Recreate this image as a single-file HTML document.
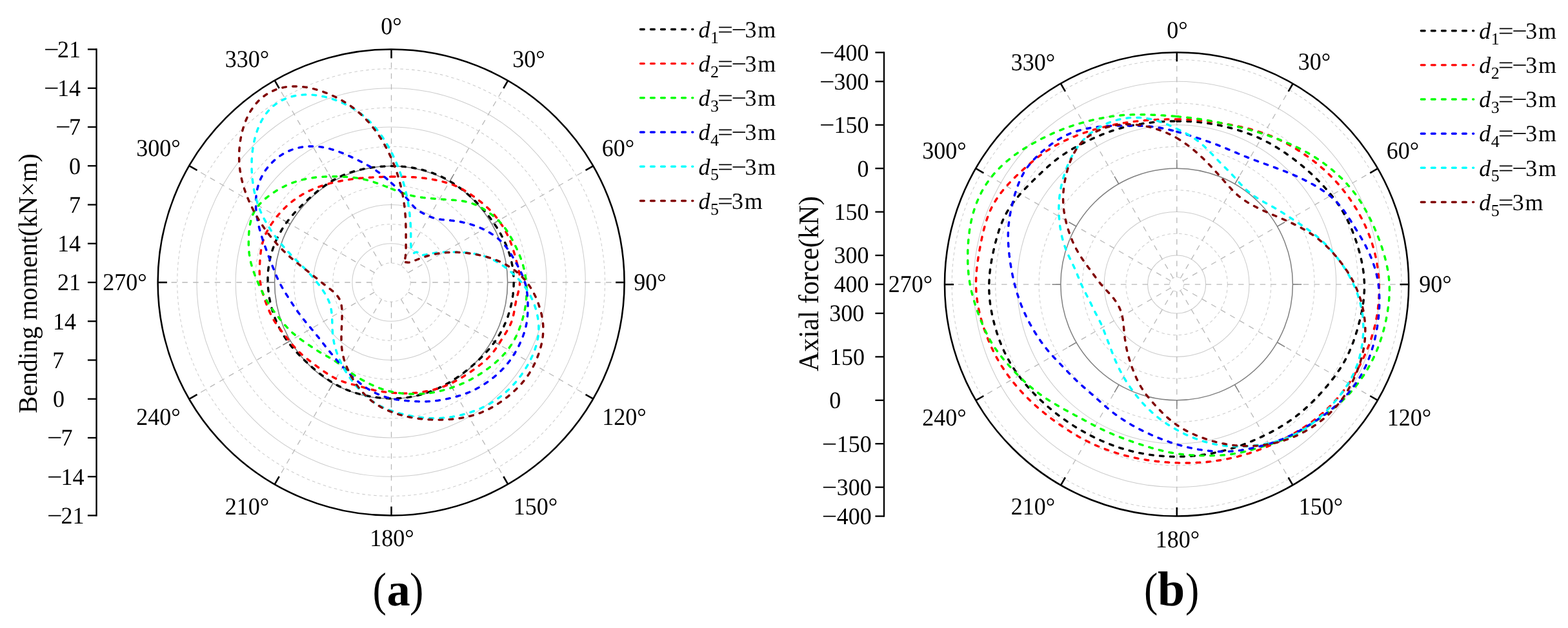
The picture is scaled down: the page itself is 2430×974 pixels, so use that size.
<!DOCTYPE html>
<html lang="en"><head><meta charset="utf-8"><title>Polar plots of bending moment and axial force</title>
<style>html,body{margin:0;padding:0;background:#fff}body{width:2430px;height:974px;overflow:hidden}svg{display:block}</style>
</head><body>
<svg width="2430" height="974" viewBox="0 0 2430 974" font-family="'Liberation Serif',serif" font-size="36" fill="#000" text-rendering="geometricPrecision">
<rect width="2430" height="974" fill="#fff"/>
<g fill="none">
<circle cx="606.1" cy="438.0" r="60.2" stroke="#cccccc" stroke-width="1.05"/>
<circle cx="606.1" cy="438.0" r="120.5" stroke="#cccccc" stroke-width="1.05"/>
<circle cx="606.1" cy="438.0" r="180.8" stroke="#cccccc" stroke-width="1.05"/>
<circle cx="606.1" cy="438.0" r="241.0" stroke="#cccccc" stroke-width="1.05"/>
<circle cx="606.1" cy="438.0" r="301.2" stroke="#cccccc" stroke-width="1.05"/>
<circle cx="606.1" cy="438.0" r="30.1" stroke="#cccccc" stroke-width="1.05" stroke-dasharray="4.6 4.3"/>
<circle cx="606.1" cy="438.0" r="90.3" stroke="#cccccc" stroke-width="1.05" stroke-dasharray="4.6 4.3"/>
<circle cx="606.1" cy="438.0" r="150.6" stroke="#cccccc" stroke-width="1.05" stroke-dasharray="4.6 4.3"/>
<circle cx="606.1" cy="438.0" r="210.8" stroke="#cccccc" stroke-width="1.05" stroke-dasharray="4.6 4.3"/>
<circle cx="606.1" cy="438.0" r="271.1" stroke="#cccccc" stroke-width="1.05" stroke-dasharray="4.6 4.3"/>
<circle cx="606.1" cy="438.0" r="331.4" stroke="#cccccc" stroke-width="1.05" stroke-dasharray="4.6 4.3"/>
<line x1="606.5" y1="407.9" x2="606.5" y2="76.5" stroke="#b8b8b8" stroke-width="1.3" stroke-dasharray="8.5 8.3"/>
<line x1="621.5" y1="411.9" x2="787.2" y2="124.9" stroke="#b8b8b8" stroke-width="1.3" stroke-dasharray="8.5 8.3"/>
<line x1="632.6" y1="422.9" x2="919.6" y2="257.2" stroke="#b8b8b8" stroke-width="1.3" stroke-dasharray="8.5 8.3"/>
<line x1="636.6" y1="438.0" x2="968.0" y2="438.0" stroke="#b8b8b8" stroke-width="1.3" stroke-dasharray="8.5 8.3"/>
<line x1="632.6" y1="453.1" x2="919.6" y2="618.7" stroke="#b8b8b8" stroke-width="1.3" stroke-dasharray="8.5 8.3"/>
<line x1="621.5" y1="464.1" x2="787.2" y2="751.1" stroke="#b8b8b8" stroke-width="1.3" stroke-dasharray="8.5 8.3"/>
<line x1="606.5" y1="468.1" x2="606.5" y2="799.5" stroke="#b8b8b8" stroke-width="1.3" stroke-dasharray="8.5 8.3"/>
<line x1="591.5" y1="464.1" x2="425.8" y2="751.1" stroke="#b8b8b8" stroke-width="1.3" stroke-dasharray="8.5 8.3"/>
<line x1="580.4" y1="453.1" x2="293.4" y2="618.8" stroke="#b8b8b8" stroke-width="1.3" stroke-dasharray="8.5 8.3"/>
<line x1="576.4" y1="438.0" x2="245.0" y2="438.0" stroke="#b8b8b8" stroke-width="1.3" stroke-dasharray="8.5 8.3"/>
<line x1="580.4" y1="422.9" x2="293.4" y2="257.2" stroke="#b8b8b8" stroke-width="1.3" stroke-dasharray="8.5 8.3"/>
<line x1="591.4" y1="411.9" x2="425.7" y2="124.9" stroke="#b8b8b8" stroke-width="1.3" stroke-dasharray="8.5 8.3"/>
<circle cx="606.1" cy="438.0" r="180.5" stroke="#7f7f7f" stroke-width="1.5"/>
<line x1="606.5" y1="257.5" x2="606.5" y2="244.0" stroke="#7f7f7f" stroke-width="1.5"/>
<line x1="696.8" y1="281.7" x2="703.5" y2="270.0" stroke="#7f7f7f" stroke-width="1.5"/>
<line x1="762.8" y1="347.8" x2="774.5" y2="341.0" stroke="#7f7f7f" stroke-width="1.5"/>
<line x1="787.0" y1="438.0" x2="800.5" y2="438.0" stroke="#7f7f7f" stroke-width="1.5"/>
<line x1="762.8" y1="528.2" x2="774.5" y2="535.0" stroke="#7f7f7f" stroke-width="1.5"/>
<line x1="696.8" y1="594.3" x2="703.5" y2="606.0" stroke="#7f7f7f" stroke-width="1.5"/>
<line x1="606.5" y1="618.5" x2="606.5" y2="632.0" stroke="#7f7f7f" stroke-width="1.5"/>
<line x1="516.2" y1="594.3" x2="509.5" y2="606.0" stroke="#7f7f7f" stroke-width="1.5"/>
<line x1="450.2" y1="528.3" x2="438.5" y2="535.0" stroke="#7f7f7f" stroke-width="1.5"/>
<line x1="426.0" y1="438.0" x2="412.5" y2="438.0" stroke="#7f7f7f" stroke-width="1.5"/>
<line x1="450.2" y1="347.8" x2="438.5" y2="341.0" stroke="#7f7f7f" stroke-width="1.5"/>
<line x1="516.2" y1="281.7" x2="509.5" y2="270.0" stroke="#7f7f7f" stroke-width="1.5"/>
<path d="M606.5 257.6L608.1 257.6L609.6 257.6L611.2 257.6L612.8 257.6L614.4 257.7L615.9 257.8L617.5 257.8L619.1 257.9L620.7 258.0L622.2 258.1L623.8 258.3L625.4 258.4L626.9 258.5L628.5 258.7L630.1 258.9L631.6 259.1L633.2 259.3L634.8 259.5L636.3 259.7L637.9 260.0L639.5 260.2L641.0 260.5L642.6 260.8L644.1 261.1L645.7 261.4L647.2 261.7L648.7 262.0L650.3 262.4L651.8 262.7L653.4 263.1L654.9 263.5L656.4 263.9L657.9 264.3L659.5 264.8L661.0 265.2L662.5 265.7L664.0 266.2L665.5 266.6L667.0 267.1L668.5 267.7L670.0 268.2L671.5 268.7L672.9 269.3L674.4 269.9L675.9 270.5L677.4 271.1L678.8 271.7L680.3 272.3L681.7 273.0L683.1 273.6L684.6 274.3L686.0 275.0L687.4 275.7L688.8 276.4L690.2 277.2L691.6 277.9L693.0 278.7L694.4 279.4L695.8 280.2L697.1 281.0L698.5 281.9L699.8 282.7L701.2 283.5L702.5 284.4L703.8 285.2L705.1 286.1L706.5 287.0L707.8 287.9L709.1 288.8L710.3 289.7L711.6 290.6L712.9 291.6L714.1 292.5L715.4 293.5L716.7 294.4L717.9 295.4L719.1 296.4L720.4 297.4L721.6 298.4L722.8 299.4L724.0 300.4L725.2 301.5L726.4 302.5L727.6 303.6L728.7 304.6L729.9 305.7L731.1 306.7L732.2 307.8L733.4 308.9L734.5 310.0L735.7 311.1L736.8 312.2L737.9 313.3L739.0 314.4L740.1 315.5L741.2 316.7L742.3 317.8L743.4 319.0L744.5 320.1L745.6 321.3L746.7 322.5L747.7 323.6L748.8 324.8L749.8 326.0L750.9 327.2L751.9 328.4L752.9 329.7L753.9 330.9L755.0 332.1L756.0 333.4L756.9 334.6L757.9 335.9L758.9 337.1L759.9 338.4L760.8 339.7L761.8 341.0L762.7 342.3L763.7 343.6L764.6 344.9L765.5 346.2L766.4 347.5L767.3 348.9L768.2 350.2L769.1 351.5L770.0 352.9L770.8 354.3L771.7 355.6L772.5 357.0L773.4 358.4L774.2 359.8L775.0 361.2L775.8 362.6L776.6 364.1L777.3 365.5L778.1 366.9L778.9 368.4L779.6 369.8L780.3 371.3L781.0 372.7L781.7 374.2L782.4 375.7L783.1 377.2L783.8 378.7L784.4 380.2L785.0 381.7L785.6 383.2L786.2 384.8L786.8 386.3L787.4 387.8L787.9 389.4L788.5 390.9L789.0 392.5L789.5 394.1L790.0 395.6L790.5 397.2L790.9 398.8L791.3 400.4L791.8 402.0L792.2 403.6L792.5 405.2L792.9 406.8L793.2 408.4L793.6 410.0L793.9 411.7L794.2 413.3L794.4 414.9L794.7 416.6L794.9 418.2L795.1 419.8L795.3 421.5L795.5 423.1L795.6 424.8L795.7 426.4L795.9 428.1L796.0 429.7L796.0 431.4L796.1 433.0L796.1 434.7L796.2 436.3L796.2 438.0L796.2 439.7L796.1 441.3L796.1 443.0L796.0 444.6L795.9 446.3L795.8 447.9L795.7 449.6L795.6 451.2L795.4 452.9L795.2 454.5L795.1 456.2L794.9 457.8L794.6 459.4L794.4 461.1L794.1 462.7L793.9 464.3L793.6 466.0L793.3 467.6L793.0 469.2L792.6 470.8L792.3 472.4L791.9 474.0L791.5 475.6L791.1 477.2L790.7 478.8L790.3 480.4L789.9 482.0L789.4 483.6L788.9 485.2L788.4 486.7L787.9 488.3L787.4 489.9L786.9 491.4L786.3 493.0L785.7 494.5L785.1 496.0L784.5 497.6L783.9 499.1L783.3 500.6L782.6 502.1L782.0 503.6L781.3 505.1L780.6 506.6L779.9 508.1L779.2 509.5L778.4 511.0L777.7 512.4L776.9 513.9L776.1 515.3L775.3 516.7L774.5 518.1L773.7 519.5L772.8 520.9L772.0 522.3L771.1 523.7L770.2 525.0L769.3 526.4L768.4 527.7L767.5 529.1L766.5 530.4L765.6 531.7L764.6 533.0L763.6 534.3L762.6 535.6L761.6 536.8L760.6 538.1L759.6 539.3L758.6 540.6L757.6 541.8L756.5 543.0L755.4 544.2L754.4 545.4L753.3 546.6L752.2 547.8L751.1 549.0L750.0 550.1L748.9 551.3L747.8 552.4L746.7 553.6L745.6 554.7L744.4 555.8L743.3 556.9L742.2 558.0L741.0 559.1L739.8 560.2L738.7 561.3L737.5 562.3L736.3 563.4L735.2 564.4L734.0 565.5L732.8 566.5L731.6 567.6L730.4 568.6L729.2 569.6L728.0 570.6L726.8 571.6L725.6 572.6L724.4 573.6L723.1 574.6L721.9 575.5L720.7 576.5L719.4 577.5L718.2 578.4L716.9 579.4L715.7 580.3L714.4 581.2L713.1 582.1L711.9 583.0L710.6 583.9L709.3 584.8L708.0 585.7L706.7 586.6L705.4 587.4L704.1 588.3L702.8 589.1L701.5 590.0L700.1 590.8L698.8 591.6L697.5 592.4L696.1 593.2L694.8 594.0L693.4 594.8L692.0 595.6L690.7 596.3L689.3 597.1L687.9 597.8L686.5 598.5L685.1 599.2L683.7 599.9L682.3 600.6L680.9 601.3L679.5 602.0L678.1 602.6L676.6 603.2L675.2 603.9L673.8 604.5L672.3 605.1L670.9 605.7L669.4 606.3L668.0 606.8L666.5 607.4L665.0 607.9L663.5 608.5L662.1 609.0L660.6 609.5L659.1 610.0L657.6 610.5L656.1 610.9L654.6 611.4L653.1 611.8L651.6 612.2L650.0 612.6L648.5 613.0L647.0 613.4L645.5 613.8L643.9 614.1L642.4 614.4L640.9 614.8L639.3 615.1L637.8 615.4L636.2 615.6L634.7 615.9L633.1 616.1L631.6 616.4L630.0 616.6L628.4 616.8L626.9 616.9L625.3 617.1L623.8 617.3L622.2 617.4L620.6 617.5L619.1 617.6L617.5 617.7L615.9 617.8L614.4 617.9L612.8 617.9L611.2 618.0L609.6 618.0L608.1 618.0L606.5 618.0L604.9 618.0L603.4 617.9L601.8 617.9L600.2 617.8L598.7 617.8L597.1 617.7L595.5 617.6L594.0 617.5L592.4 617.3L590.8 617.2L589.3 617.1L587.7 616.9L586.1 616.7L584.6 616.5L583.0 616.3L581.5 616.1L579.9 615.9L578.4 615.7L576.8 615.4L575.3 615.2L573.7 614.9L572.2 614.6L570.6 614.3L569.1 614.0L567.6 613.7L566.0 613.4L564.5 613.0L563.0 612.7L561.4 612.3L559.9 611.9L558.4 611.5L556.9 611.1L555.3 610.7L553.8 610.2L552.3 609.8L550.8 609.3L549.3 608.9L547.8 608.4L546.3 607.9L544.9 607.4L543.4 606.8L541.9 606.3L540.4 605.7L539.0 605.1L537.5 604.6L536.1 604.0L534.6 603.3L533.2 602.7L531.7 602.1L530.3 601.4L528.9 600.7L527.5 600.0L526.1 599.3L524.7 598.6L523.3 597.9L521.9 597.1L520.5 596.4L519.1 595.6L517.8 594.8L516.4 594.0L515.1 593.2L513.7 592.4L512.4 591.5L511.1 590.7L509.8 589.8L508.5 588.9L507.2 588.1L505.9 587.2L504.6 586.3L503.3 585.3L502.1 584.4L500.8 583.5L499.5 582.5L498.3 581.6L497.0 580.6L495.8 579.7L494.6 578.7L493.4 577.7L492.1 576.7L490.9 575.7L489.7 574.7L488.5 573.7L487.3 572.7L486.1 571.7L484.9 570.7L483.8 569.6L482.6 568.6L481.4 567.5L480.2 566.5L479.1 565.4L477.9 564.4L476.7 563.3L475.6 562.2L474.4 561.2L473.3 560.1L472.1 559.0L471.0 557.9L469.8 556.8L468.7 555.7L467.6 554.6L466.5 553.4L465.3 552.3L464.2 551.2L463.1 550.0L462.0 548.9L460.9 547.7L459.8 546.5L458.7 545.4L457.7 544.2L456.6 543.0L455.5 541.8L454.5 540.5L453.4 539.3L452.4 538.1L451.4 536.8L450.4 535.6L449.4 534.3L448.4 533.0L447.4 531.7L446.4 530.4L445.5 529.1L444.5 527.8L443.6 526.5L442.7 525.1L441.8 523.8L440.9 522.4L440.0 521.0L439.1 519.6L438.3 518.2L437.4 516.8L436.6 515.4L435.8 514.0L435.0 512.6L434.2 511.1L433.5 509.7L432.7 508.2L432.0 506.7L431.3 505.3L430.6 503.8L429.9 502.3L429.2 500.8L428.5 499.3L427.9 497.8L427.3 496.2L426.7 494.7L426.1 493.2L425.5 491.6L424.9 490.1L424.4 488.5L423.8 486.9L423.3 485.4L422.8 483.8L422.3 482.2L421.8 480.6L421.4 479.0L420.9 477.4L420.5 475.8L420.1 474.2L419.7 472.6L419.3 471.0L418.9 469.4L418.6 467.8L418.3 466.1L417.9 464.5L417.6 462.9L417.3 461.2L417.1 459.6L416.8 457.9L416.6 456.3L416.4 454.6L416.1 453.0L416.0 451.3L415.8 449.7L415.6 448.0L415.5 446.3L415.4 444.7L415.3 443.0L415.2 441.3L415.1 439.7L415.0 438.0L415.0 436.3L415.0 434.7L415.0 433.0L415.0 431.3L415.0 429.6L415.1 428.0L415.2 426.3L415.3 424.6L415.4 423.0L415.5 421.3L415.6 419.6L415.8 418.0L416.0 416.3L416.2 414.6L416.4 413.0L416.6 411.3L416.9 409.7L417.2 408.0L417.5 406.4L417.8 404.7L418.1 403.1L418.5 401.5L418.8 399.8L419.2 398.2L419.6 396.6L420.1 395.0L420.5 393.3L421.0 391.7L421.5 390.1L422.0 388.6L422.5 387.0L423.0 385.4L423.6 383.8L424.1 382.2L424.7 380.7L425.3 379.1L426.0 377.6L426.6 376.1L427.3 374.5L427.9 373.0L428.6 371.5L429.3 370.0L430.0 368.5L430.8 367.0L431.5 365.5L432.3 364.1L433.1 362.6L433.9 361.1L434.7 359.7L435.5 358.3L436.4 356.9L437.2 355.4L438.1 354.0L439.0 352.7L439.9 351.3L440.8 349.9L441.7 348.5L442.7 347.2L443.6 345.9L444.6 344.5L445.6 343.2L446.6 341.9L447.6 340.6L448.6 339.3L449.6 338.1L450.7 336.8L451.7 335.5L452.8 334.3L453.8 333.1L454.9 331.8L456.0 330.6L457.1 329.4L458.2 328.2L459.3 327.0L460.4 325.9L461.5 324.7L462.6 323.5L463.7 322.4L464.9 321.2L466.0 320.1L467.1 319.0L468.3 317.9L469.4 316.7L470.6 315.6L471.8 314.5L472.9 313.4L474.1 312.3L475.3 311.3L476.4 310.2L477.6 309.1L478.8 308.0L480.0 307.0L481.2 305.9L482.4 304.9L483.5 303.8L484.7 302.8L485.9 301.7L487.2 300.7L488.4 299.7L489.6 298.7L490.8 297.7L492.0 296.6L493.3 295.6L494.5 294.7L495.8 293.7L497.0 292.7L498.3 291.7L499.5 290.8L500.8 289.8L502.1 288.9L503.4 288.0L504.7 287.0L506.0 286.1L507.3 285.2L508.6 284.4L509.9 283.5L511.3 282.6L512.6 281.8L514.0 280.9L515.4 280.1L516.7 279.3L518.1 278.5L519.5 277.8L520.9 277.0L522.3 276.2L523.7 275.5L525.1 274.8L526.6 274.1L528.0 273.4L529.5 272.8L530.9 272.1L532.4 271.5L533.8 270.9L535.3 270.3L536.8 269.7L538.3 269.2L539.8 268.6L541.3 268.1L542.8 267.6L544.3 267.1L545.8 266.6L547.3 266.1L548.8 265.7L550.4 265.2L551.9 264.8L553.4 264.4L555.0 264.0L556.5 263.6L558.0 263.3L559.6 262.9L561.1 262.6L562.7 262.2L564.2 261.9L565.8 261.6L567.3 261.3L568.9 261.1L570.4 260.8L572.0 260.5L573.6 260.3L575.1 260.1L576.7 259.8L578.2 259.6L579.8 259.4L581.4 259.2L582.9 259.0L584.5 258.9L586.1 258.7L587.6 258.6L589.2 258.4L590.8 258.3L592.3 258.2L593.9 258.1L595.5 258.0L597.1 257.9L598.6 257.8L600.2 257.7L601.8 257.7L603.4 257.6L604.9 257.6L606.5 257.6Z" stroke="#000000" stroke-width="3.45" stroke-dasharray="5.7 10.35" stroke-linecap="round" stroke-linejoin="round"/>
<path d="M606.5 274.0L607.9 274.0L609.4 274.0L610.8 274.0L612.2 274.0L613.7 274.0L615.1 274.0L616.5 274.0L618.0 274.0L619.4 274.1L620.8 274.1L622.3 274.1L623.7 274.1L625.2 274.2L626.6 274.2L628.1 274.3L629.5 274.3L631.0 274.4L632.4 274.4L633.9 274.5L635.3 274.5L636.8 274.6L638.2 274.7L639.7 274.8L641.2 274.8L642.6 274.9L644.1 275.0L645.6 275.1L647.1 275.3L648.6 275.4L650.0 275.5L651.5 275.7L653.0 275.8L654.5 276.0L656.0 276.1L657.5 276.3L659.0 276.5L660.5 276.7L662.0 276.9L663.5 277.1L665.0 277.4L666.5 277.6L668.0 277.9L669.5 278.1L671.0 278.4L672.5 278.7L674.0 279.0L675.5 279.3L677.0 279.6L678.5 279.9L680.0 280.3L681.6 280.6L683.1 281.0L684.6 281.4L686.1 281.8L687.6 282.2L689.1 282.6L690.7 283.0L692.2 283.4L693.7 283.9L695.2 284.4L696.7 284.8L698.2 285.4L699.7 285.9L701.2 286.4L702.7 287.0L704.2 287.6L705.7 288.2L707.1 288.8L708.6 289.4L710.1 290.1L711.5 290.8L712.9 291.5L714.4 292.2L715.8 293.0L717.2 293.8L718.6 294.6L720.0 295.4L721.3 296.2L722.7 297.0L724.0 297.9L725.4 298.8L726.7 299.7L728.1 300.6L729.4 301.5L730.7 302.4L732.1 303.4L733.4 304.3L734.7 305.3L736.0 306.2L737.3 307.2L738.6 308.2L739.9 309.1L741.2 310.1L742.5 311.1L743.8 312.2L745.1 313.2L746.4 314.2L747.7 315.3L749.0 316.3L750.2 317.4L751.5 318.5L752.7 319.6L754.0 320.7L755.2 321.8L756.4 323.0L757.6 324.1L758.8 325.3L760.0 326.5L761.1 327.7L762.3 328.9L763.4 330.2L764.5 331.4L765.6 332.7L766.7 334.0L767.8 335.3L768.8 336.6L769.9 337.9L770.9 339.2L771.9 340.6L772.9 341.9L773.9 343.3L774.9 344.7L775.8 346.1L776.7 347.5L777.7 348.9L778.6 350.3L779.5 351.8L780.3 353.2L781.2 354.7L782.1 356.1L782.9 357.6L783.7 359.1L784.5 360.6L785.3 362.1L786.0 363.6L786.8 365.2L787.5 366.7L788.2 368.2L788.9 369.8L789.6 371.4L790.3 372.9L790.9 374.5L791.5 376.1L792.1 377.7L792.7 379.3L793.3 380.9L793.8 382.5L794.4 384.1L794.9 385.8L795.4 387.4L795.9 389.0L796.4 390.7L796.9 392.3L797.4 393.9L797.8 395.6L798.3 397.2L798.7 398.9L799.2 400.5L799.6 402.2L800.1 403.9L800.5 405.5L801.0 407.2L801.4 408.9L801.9 410.5L802.3 412.2L802.7 413.9L803.1 415.6L803.5 417.3L803.9 419.0L804.2 420.7L804.6 422.4L804.9 424.1L805.1 425.9L805.3 427.6L805.5 429.3L805.6 431.0L805.7 432.8L805.8 434.5L805.7 436.3L805.7 438.0L805.5 439.7L805.4 441.5L805.1 443.2L804.9 444.9L804.6 446.6L804.2 448.4L803.9 450.1L803.5 451.8L803.1 453.5L802.7 455.2L802.3 456.8L801.8 458.5L801.4 460.2L801.0 461.9L800.6 463.6L800.2 465.2L799.8 466.9L799.4 468.6L799.1 470.2L798.8 471.9L798.5 473.6L798.2 475.3L797.9 476.9L797.6 478.6L797.3 480.3L797.0 482.0L796.7 483.7L796.4 485.3L796.1 487.0L795.7 488.7L795.3 490.4L794.9 492.0L794.5 493.7L794.0 495.3L793.5 497.0L792.9 498.6L792.3 500.2L791.6 501.8L791.0 503.3L790.2 504.9L789.5 506.4L788.7 507.9L787.9 509.5L787.1 511.0L786.2 512.4L785.3 513.9L784.5 515.4L783.6 516.8L782.7 518.3L781.8 519.7L780.9 521.2L779.9 522.6L779.0 524.0L778.1 525.5L777.2 526.9L776.3 528.3L775.4 529.7L774.6 531.2L773.7 532.6L772.8 534.0L771.9 535.4L770.9 536.8L770.0 538.2L769.1 539.6L768.1 541.0L767.2 542.3L766.2 543.7L765.2 545.0L764.2 546.4L763.1 547.7L762.1 549.0L761.0 550.2L759.8 551.5L758.7 552.7L757.6 553.9L756.4 555.1L755.2 556.3L754.0 557.4L752.7 558.5L751.5 559.7L750.2 560.8L749.0 561.8L747.7 562.9L746.4 564.0L745.1 565.0L743.8 566.0L742.5 567.1L741.2 568.1L739.9 569.1L738.5 570.0L737.2 571.0L735.9 572.0L734.6 573.0L733.2 573.9L731.9 574.9L730.6 575.8L729.2 576.7L727.9 577.7L726.6 578.6L725.2 579.5L723.9 580.4L722.5 581.3L721.1 582.1L719.8 583.0L718.4 583.9L717.0 584.7L715.7 585.5L714.3 586.4L712.9 587.2L711.5 588.0L710.1 588.8L708.7 589.6L707.3 590.3L705.9 591.1L704.5 591.8L703.1 592.6L701.7 593.3L700.2 594.0L698.8 594.7L697.3 595.3L695.9 596.0L694.4 596.6L693.0 597.3L691.5 597.9L690.0 598.5L688.6 599.1L687.1 599.6L685.6 600.2L684.1 600.7L682.6 601.2L681.1 601.7L679.6 602.2L678.1 602.6L676.6 603.1L675.0 603.5L673.5 603.9L672.0 604.3L670.5 604.7L669.0 605.0L667.4 605.4L665.9 605.7L664.4 606.1L662.8 606.4L661.3 606.7L659.8 607.0L658.3 607.3L656.7 607.5L655.2 607.8L653.7 608.0L652.1 608.3L650.6 608.5L649.1 608.7L647.5 608.9L646.0 609.1L644.5 609.2L642.9 609.4L641.4 609.5L639.9 609.6L638.3 609.7L636.8 609.8L635.3 609.9L633.7 610.0L632.2 610.0L630.7 610.0L629.2 610.1L627.6 610.1L626.1 610.1L624.6 610.1L623.1 610.0L621.5 610.0L620.0 609.9L618.5 609.9L617.0 609.8L615.5 609.7L614.0 609.6L612.5 609.5L611.0 609.4L609.5 609.3L608.0 609.2L606.5 609.0L605.0 608.9L603.5 608.8L602.0 608.6L600.5 608.4L599.1 608.3L597.6 608.1L596.1 607.9L594.6 607.7L593.2 607.5L591.7 607.3L590.2 607.1L588.8 606.8L587.3 606.6L585.8 606.3L584.4 606.1L582.9 605.8L581.5 605.5L580.0 605.2L578.6 604.8L577.1 604.5L575.7 604.2L574.3 603.8L572.8 603.4L571.4 603.0L570.0 602.7L568.6 602.3L567.2 601.9L565.7 601.5L564.3 601.1L562.9 600.7L561.5 600.3L560.1 599.9L558.7 599.5L557.3 599.1L555.8 598.7L554.4 598.3L553.0 597.9L551.6 597.5L550.1 597.2L548.7 596.8L547.3 596.4L545.8 596.1L544.4 595.7L542.9 595.3L541.5 594.9L540.1 594.5L538.6 594.1L537.2 593.7L535.7 593.3L534.3 592.8L532.9 592.3L531.5 591.8L530.1 591.3L528.6 590.8L527.2 590.2L525.9 589.7L524.5 589.1L523.1 588.4L521.8 587.8L520.4 587.1L519.1 586.4L517.7 585.7L516.4 585.0L515.1 584.3L513.8 583.5L512.5 582.8L511.2 582.0L509.9 581.2L508.6 580.4L507.3 579.6L506.1 578.8L504.8 578.0L503.6 577.1L502.3 576.3L501.1 575.4L499.8 574.5L498.6 573.7L497.3 572.8L496.1 571.9L494.9 571.0L493.7 570.1L492.4 569.2L491.2 568.3L490.0 567.4L488.8 566.5L487.6 565.6L486.3 564.6L485.1 563.7L483.9 562.8L482.7 561.8L481.5 560.9L480.2 559.9L479.0 559.0L477.8 558.0L476.6 557.1L475.4 556.1L474.1 555.1L472.9 554.1L471.7 553.1L470.5 552.1L469.3 551.1L468.1 550.1L466.9 549.0L465.8 547.9L464.6 546.9L463.5 545.8L462.3 544.7L461.2 543.6L460.1 542.4L459.0 541.3L457.9 540.1L456.9 538.9L455.8 537.7L454.7 536.5L453.7 535.3L452.7 534.1L451.7 532.9L450.6 531.6L449.6 530.4L448.6 529.1L447.6 527.9L446.6 526.6L445.6 525.4L444.6 524.1L443.6 522.8L442.6 521.5L441.6 520.2L440.6 518.9L439.5 517.6L438.5 516.3L437.5 515.0L436.4 513.7L435.4 512.4L434.4 511.1L433.4 509.7L432.4 508.4L431.4 507.0L430.4 505.6L429.4 504.2L428.4 502.8L427.5 501.4L426.6 500.0L425.6 498.5L424.7 497.1L423.9 495.6L423.0 494.1L422.2 492.6L421.4 491.1L420.6 489.6L419.8 488.0L419.1 486.5L418.4 484.9L417.6 483.3L417.0 481.8L416.3 480.2L415.6 478.6L415.0 477.0L414.3 475.4L413.7 473.7L413.1 472.1L412.4 470.5L411.8 468.8L411.2 467.2L410.7 465.5L410.1 463.9L409.5 462.2L409.0 460.5L408.4 458.8L407.9 457.1L407.4 455.4L406.9 453.7L406.4 452.0L405.9 450.3L405.5 448.5L405.1 446.8L404.7 445.0L404.3 443.3L404.0 441.5L403.7 439.8L403.4 438.0L403.2 436.2L403.0 434.4L402.8 432.7L402.6 430.9L402.5 429.1L402.4 427.3L402.3 425.5L402.3 423.7L402.2 421.9L402.2 420.1L402.2 418.3L402.3 416.5L402.3 414.7L402.4 412.9L402.5 411.1L402.6 409.3L402.7 407.5L402.8 405.7L402.9 403.9L403.0 402.1L403.2 400.3L403.3 398.5L403.5 396.7L403.7 394.9L403.9 393.1L404.1 391.3L404.3 389.5L404.6 387.7L404.9 385.9L405.2 384.1L405.6 382.3L406.0 380.5L406.4 378.7L406.8 376.9L407.3 375.2L407.8 373.4L408.4 371.7L409.0 370.0L409.6 368.3L410.3 366.6L411.0 364.9L411.7 363.2L412.5 361.6L413.3 359.9L414.2 358.3L415.0 356.7L415.9 355.1L416.8 353.6L417.8 352.0L418.7 350.4L419.7 348.9L420.7 347.4L421.7 345.9L422.8 344.4L423.8 342.9L424.9 341.4L426.0 340.0L427.1 338.5L428.2 337.1L429.3 335.7L430.5 334.3L431.6 332.9L432.8 331.6L434.0 330.2L435.2 328.9L436.4 327.5L437.6 326.2L438.9 324.9L440.1 323.7L441.4 322.4L442.7 321.2L444.0 319.9L445.3 318.7L446.7 317.5L448.0 316.4L449.4 315.2L450.7 314.1L452.1 313.0L453.5 311.9L454.9 310.8L456.4 309.8L457.8 308.7L459.2 307.7L460.7 306.7L462.2 305.7L463.6 304.8L465.1 303.8L466.6 302.9L468.1 302.0L469.6 301.1L471.1 300.3L472.7 299.4L474.2 298.6L475.8 297.8L477.3 297.0L478.9 296.2L480.4 295.5L482.0 294.8L483.6 294.1L485.1 293.4L486.7 292.7L488.3 292.0L489.9 291.4L491.5 290.8L493.1 290.2L494.7 289.6L496.3 289.0L497.9 288.5L499.5 287.9L501.1 287.4L502.7 286.9L504.3 286.4L505.9 285.9L507.5 285.5L509.1 285.0L510.7 284.6L512.2 284.2L513.8 283.8L515.4 283.4L517.0 283.0L518.6 282.7L520.2 282.3L521.8 282.0L523.4 281.6L524.9 281.3L526.5 281.0L528.1 280.7L529.6 280.4L531.2 280.1L532.7 279.8L534.3 279.6L535.8 279.3L537.4 279.0L538.9 278.8L540.5 278.6L542.0 278.3L543.5 278.1L545.0 277.9L546.6 277.7L548.1 277.5L549.6 277.3L551.1 277.1L552.6 276.9L554.1 276.8L555.6 276.6L557.1 276.5L558.6 276.3L560.1 276.2L561.6 276.1L563.1 275.9L564.6 275.8L566.0 275.7L567.5 275.6L569.0 275.5L570.5 275.4L571.9 275.3L573.4 275.2L574.8 275.2L576.3 275.1L577.8 275.0L579.2 274.9L580.7 274.9L582.1 274.8L583.6 274.7L585.0 274.7L586.4 274.6L587.9 274.5L589.3 274.5L590.8 274.4L592.2 274.4L593.6 274.3L595.1 274.3L596.5 274.3L597.9 274.2L599.3 274.2L600.8 274.1L602.2 274.1L603.6 274.1L605.1 274.1L606.5 274.0Z" stroke="#ff0000" stroke-width="3.45" stroke-dasharray="5.7 10.35" stroke-linecap="round" stroke-linejoin="round"/>
<path d="M606.5 292.7L607.8 293.2L609.0 293.7L610.3 294.2L611.5 294.7L612.7 295.2L614.0 295.7L615.2 296.1L616.4 296.6L617.6 297.0L618.8 297.5L620.0 297.9L621.2 298.3L622.4 298.8L623.5 299.2L624.7 299.6L625.9 300.0L627.1 300.3L628.2 300.7L629.4 301.1L630.6 301.4L631.8 301.8L632.9 302.1L634.1 302.4L635.3 302.7L636.4 303.0L637.6 303.3L638.8 303.6L640.0 303.8L641.1 304.1L642.3 304.3L643.5 304.6L644.7 304.8L645.9 305.0L647.1 305.2L648.3 305.4L649.5 305.6L650.7 305.8L652.0 306.0L653.2 306.2L654.4 306.3L655.7 306.5L656.9 306.6L658.2 306.8L659.5 306.9L660.8 307.0L662.0 307.2L663.3 307.3L664.6 307.4L666.0 307.5L667.3 307.6L668.6 307.8L670.0 307.9L671.3 308.0L672.7 308.1L674.1 308.2L675.5 308.3L676.9 308.4L678.3 308.5L679.7 308.6L681.1 308.7L682.6 308.9L684.0 309.0L685.5 309.1L687.0 309.2L688.5 309.3L690.0 309.4L691.6 309.5L693.1 309.6L694.7 309.7L696.2 309.8L697.8 309.9L699.5 310.0L701.1 310.2L702.7 310.3L704.4 310.4L706.1 310.6L707.8 310.7L709.4 310.9L711.1 311.1L712.8 311.3L714.5 311.5L716.3 311.7L718.0 312.0L719.7 312.3L721.4 312.7L723.0 313.0L724.7 313.4L726.4 313.9L728.0 314.3L729.7 314.8L731.3 315.4L732.9 316.0L734.5 316.6L736.0 317.2L737.6 317.9L739.1 318.6L740.6 319.3L742.1 320.1L743.6 320.9L745.1 321.7L746.6 322.5L748.0 323.4L749.5 324.3L750.9 325.2L752.3 326.1L753.8 327.0L755.2 328.0L756.6 329.0L758.0 330.0L759.4 331.0L760.7 332.0L762.1 333.0L763.5 334.1L764.8 335.2L766.1 336.3L767.5 337.4L768.8 338.6L770.1 339.7L771.3 340.9L772.6 342.1L773.8 343.3L775.0 344.6L776.2 345.9L777.4 347.2L778.5 348.5L779.6 349.8L780.7 351.2L781.7 352.5L782.8 353.9L783.8 355.3L784.8 356.7L785.8 358.2L786.7 359.6L787.7 361.1L788.6 362.6L789.5 364.1L790.4 365.6L791.2 367.1L792.1 368.6L792.9 370.1L793.8 371.7L794.6 373.2L795.4 374.8L796.2 376.4L797.0 377.9L797.8 379.5L798.6 381.1L799.4 382.7L800.1 384.3L800.9 385.9L801.6 387.5L802.4 389.2L803.1 390.8L803.8 392.5L804.5 394.1L805.2 395.8L805.8 397.4L806.5 399.1L807.1 400.8L807.7 402.5L808.3 404.2L808.9 405.9L809.4 407.7L810.0 409.4L810.5 411.1L811.0 412.9L811.4 414.7L811.9 416.4L812.3 418.2L812.7 420.0L813.1 421.7L813.5 423.5L813.8 425.3L814.1 427.1L814.4 428.9L814.7 430.7L814.9 432.5L815.2 434.4L815.4 436.2L815.5 438.0L815.7 439.8L815.8 441.7L815.9 443.5L816.0 445.3L816.1 447.2L816.1 449.0L816.2 450.8L816.1 452.7L816.1 454.5L816.1 456.3L816.0 458.2L815.9 460.0L815.8 461.8L815.6 463.7L815.5 465.5L815.3 467.3L815.1 469.2L814.8 471.0L814.6 472.8L814.3 474.6L814.0 476.5L813.7 478.3L813.4 480.1L813.0 481.9L812.6 483.7L812.2 485.5L811.8 487.3L811.4 489.1L810.9 490.9L810.5 492.6L810.0 494.4L809.5 496.2L808.9 498.0L808.4 499.7L807.8 501.5L807.2 503.2L806.7 505.0L806.0 506.7L805.4 508.4L804.8 510.2L804.1 511.9L803.4 513.6L802.7 515.3L802.0 517.0L801.2 518.7L800.5 520.3L799.7 522.0L798.8 523.6L798.0 525.3L797.1 526.9L796.2 528.5L795.3 530.1L794.4 531.7L793.4 533.2L792.4 534.8L791.4 536.3L790.3 537.8L789.3 539.3L788.2 540.8L787.0 542.2L785.9 543.7L784.8 545.1L783.6 546.5L782.4 547.9L781.2 549.3L779.9 550.6L778.7 552.0L777.4 553.3L776.1 554.6L774.8 555.9L773.5 557.1L772.2 558.4L770.9 559.6L769.5 560.8L768.2 562.1L766.8 563.2L765.4 564.4L764.0 565.6L762.6 566.7L761.2 567.8L759.8 568.9L758.4 570.0L757.0 571.1L755.5 572.2L754.1 573.2L752.6 574.3L751.2 575.3L749.7 576.3L748.2 577.3L746.8 578.3L745.3 579.2L743.8 580.2L742.3 581.1L740.8 582.1L739.3 583.0L737.8 583.9L736.3 584.8L734.8 585.6L733.3 586.5L731.8 587.3L730.3 588.2L728.8 589.0L727.2 589.8L725.7 590.6L724.2 591.3L722.6 592.1L721.1 592.8L719.5 593.5L718.0 594.3L716.4 594.9L714.8 595.6L713.3 596.3L711.7 596.9L710.1 597.6L708.5 598.2L707.0 598.8L705.4 599.4L703.8 599.9L702.2 600.5L700.6 601.0L699.0 601.6L697.5 602.1L695.9 602.6L694.3 603.1L692.7 603.6L691.1 604.0L689.5 604.5L687.9 604.9L686.3 605.4L684.7 605.8L683.1 606.2L681.6 606.6L680.0 606.9L678.4 607.3L676.8 607.6L675.2 608.0L673.6 608.3L672.0 608.6L670.4 608.9L668.8 609.1L667.2 609.4L665.6 609.6L664.0 609.8L662.4 610.0L660.8 610.2L659.2 610.4L657.6 610.5L656.0 610.6L654.4 610.7L652.8 610.8L651.2 610.9L649.6 611.0L648.0 611.0L646.5 611.1L644.9 611.1L643.3 611.1L641.7 611.1L640.1 611.0L638.6 611.0L637.0 611.0L635.4 610.9L633.9 610.9L632.3 610.8L630.8 610.7L629.2 610.6L627.7 610.5L626.1 610.4L624.6 610.2L623.1 610.1L621.5 609.9L620.0 609.7L618.5 609.5L617.0 609.3L615.5 609.1L614.0 608.9L612.5 608.6L611.0 608.4L609.5 608.1L608.0 607.8L606.5 607.5L605.0 607.1L603.6 606.8L602.1 606.4L600.6 606.0L599.2 605.6L597.7 605.2L596.3 604.8L594.9 604.3L593.4 603.8L592.0 603.4L590.6 602.9L589.2 602.4L587.8 601.8L586.4 601.3L585.1 600.8L583.7 600.2L582.3 599.7L581.0 599.1L579.6 598.5L578.3 597.9L577.0 597.3L575.7 596.7L574.3 596.1L573.0 595.4L571.7 594.8L570.4 594.2L569.2 593.5L567.9 592.9L566.6 592.2L565.4 591.5L564.1 590.8L562.9 590.1L561.6 589.4L560.4 588.7L559.2 588.0L558.0 587.3L556.8 586.6L555.6 585.8L554.4 585.1L553.2 584.4L552.1 583.6L550.9 582.9L549.7 582.1L548.6 581.3L547.4 580.6L546.3 579.8L545.2 579.0L544.1 578.2L543.0 577.4L541.8 576.7L540.7 575.9L539.7 575.1L538.6 574.3L537.5 573.5L536.4 572.6L535.3 571.8L534.3 571.0L533.2 570.2L532.2 569.4L531.1 568.6L530.1 567.8L529.0 567.0L528.0 566.2L526.9 565.4L525.8 564.6L524.8 563.8L523.7 563.0L522.7 562.3L521.6 561.5L520.5 560.8L519.4 560.1L518.3 559.3L517.2 558.6L516.1 557.9L515.0 557.2L513.9 556.6L512.7 555.9L511.6 555.2L510.4 554.6L509.3 553.9L508.1 553.2L506.9 552.6L505.7 551.9L504.5 551.3L503.3 550.6L502.1 549.9L500.9 549.2L499.7 548.6L498.5 547.9L497.3 547.2L496.1 546.5L494.9 545.7L493.7 545.0L492.6 544.3L491.4 543.5L490.2 542.7L489.0 542.0L487.8 541.2L486.6 540.4L485.4 539.6L484.2 538.8L483.0 538.0L481.8 537.2L480.6 536.4L479.4 535.6L478.1 534.7L476.9 533.9L475.7 533.1L474.4 532.2L473.2 531.3L471.9 530.5L470.7 529.6L469.4 528.7L468.2 527.8L466.9 526.9L465.6 526.0L464.4 525.1L463.1 524.2L461.9 523.2L460.6 522.2L459.4 521.3L458.1 520.3L456.9 519.2L455.7 518.2L454.4 517.2L453.2 516.1L452.1 515.0L450.9 513.9L449.7 512.8L448.6 511.6L447.5 510.5L446.3 509.3L445.2 508.1L444.1 506.9L443.0 505.7L441.9 504.5L440.8 503.3L439.8 502.0L438.7 500.7L437.6 499.5L436.5 498.2L435.5 496.9L434.4 495.6L433.3 494.3L432.3 492.9L431.2 491.6L430.1 490.2L429.1 488.9L428.0 487.5L426.9 486.1L425.9 484.7L424.8 483.3L423.8 481.9L422.7 480.4L421.7 479.0L420.7 477.5L419.7 476.0L418.7 474.5L417.7 473.0L416.7 471.5L415.7 469.9L414.7 468.4L413.8 466.8L412.9 465.2L412.0 463.6L411.1 462.0L410.2 460.4L409.3 458.7L408.5 457.1L407.6 455.4L406.8 453.7L406.0 452.0L405.2 450.3L404.4 448.6L403.6 446.9L402.8 445.1L402.0 443.4L401.2 441.6L400.4 439.8L399.7 438.0L398.9 436.2L398.1 434.4L397.4 432.5L396.6 430.7L395.9 428.8L395.1 426.9L394.4 425.0L393.7 423.1L393.0 421.2L392.3 419.3L391.7 417.3L391.1 415.4L390.5 413.4L389.9 411.4L389.4 409.4L388.8 407.4L388.4 405.4L387.9 403.4L387.5 401.4L387.1 399.3L386.8 397.3L386.5 395.2L386.2 393.2L386.0 391.1L385.8 389.1L385.6 387.0L385.5 384.9L385.4 382.9L385.3 380.8L385.3 378.7L385.3 376.6L385.3 374.6L385.3 372.5L385.3 370.4L385.4 368.3L385.5 366.2L385.6 364.1L385.8 362.0L385.9 359.9L386.1 357.8L386.4 355.7L386.6 353.6L386.9 351.5L387.3 349.4L387.6 347.3L388.1 345.3L388.6 343.2L389.1 341.2L389.7 339.2L390.3 337.2L391.0 335.2L391.8 333.3L392.6 331.4L393.5 329.5L394.5 327.6L395.5 325.8L396.7 324.1L397.8 322.3L399.1 320.6L400.4 319.0L401.7 317.4L403.1 315.8L404.6 314.3L406.1 312.8L407.6 311.3L409.2 309.9L410.8 308.5L412.4 307.1L414.1 305.8L415.8 304.5L417.5 303.2L419.2 301.9L420.9 300.7L422.7 299.5L424.5 298.3L426.3 297.2L428.0 296.0L429.8 294.9L431.7 293.9L433.5 292.8L435.3 291.8L437.2 290.8L439.1 289.9L440.9 288.9L442.8 288.0L444.7 287.1L446.6 286.3L448.5 285.5L450.5 284.7L452.4 283.9L454.4 283.2L456.3 282.5L458.3 281.8L460.3 281.2L462.2 280.6L464.2 280.0L466.2 279.4L468.2 278.9L470.2 278.4L472.2 278.0L474.2 277.5L476.2 277.1L478.2 276.8L480.3 276.4L482.3 276.1L484.3 275.8L486.3 275.5L488.2 275.2L490.2 275.0L492.2 274.8L494.2 274.6L496.2 274.4L498.1 274.3L500.1 274.2L502.1 274.1L504.0 274.0L505.9 273.9L507.9 273.8L509.8 273.8L511.7 273.7L513.6 273.7L515.4 273.7L517.3 273.7L519.2 273.7L521.0 273.8L522.8 273.8L524.7 273.9L526.5 273.9L528.3 274.0L530.0 274.0L531.8 274.1L533.6 274.2L535.3 274.3L537.1 274.4L538.8 274.5L540.5 274.6L542.2 274.8L543.9 274.9L545.6 275.1L547.3 275.3L548.9 275.5L550.6 275.7L552.3 275.9L553.9 276.2L555.6 276.4L557.2 276.7L558.8 277.0L560.4 277.3L562.0 277.7L563.6 278.0L565.2 278.4L566.8 278.8L568.4 279.2L569.9 279.6L571.5 280.0L573.0 280.5L574.5 280.9L576.1 281.4L577.6 281.8L579.0 282.3L580.5 282.8L582.0 283.3L583.5 283.8L584.9 284.3L586.3 284.8L587.8 285.3L589.2 285.8L590.6 286.4L592.0 286.9L593.3 287.4L594.7 288.0L596.0 288.5L597.4 289.0L598.7 289.5L600.0 290.1L601.4 290.6L602.7 291.1L603.9 291.6L605.2 292.2L606.5 292.7Z" stroke="#00ff00" stroke-width="3.45" stroke-dasharray="5.7 10.35" stroke-linecap="round" stroke-linejoin="round"/>
<path d="M606.5 283.7L607.8 284.9L609.2 286.1L610.4 287.3L611.7 288.4L613.0 289.6L614.2 290.8L615.4 291.9L616.6 293.1L617.8 294.2L619.0 295.3L620.1 296.5L621.3 297.6L622.4 298.8L623.5 299.9L624.5 301.0L625.6 302.2L626.6 303.3L627.6 304.5L628.6 305.7L629.6 306.8L630.6 308.0L631.6 309.1L632.5 310.2L633.4 311.3L634.3 312.5L635.2 313.5L636.1 314.6L637.0 315.7L637.9 316.7L638.7 317.7L639.6 318.7L640.5 319.6L641.3 320.5L642.2 321.4L643.0 322.2L643.9 323.0L644.7 323.7L645.6 324.4L646.5 325.1L647.3 325.8L648.2 326.4L649.1 327.0L650.0 327.6L650.9 328.1L651.8 328.7L652.7 329.2L653.6 329.7L654.5 330.2L655.4 330.7L656.3 331.1L657.2 331.6L658.2 332.1L659.1 332.5L660.0 333.0L660.9 333.4L661.8 333.9L662.8 334.4L663.7 334.8L664.6 335.2L665.6 335.7L666.5 336.1L667.5 336.5L668.5 336.9L669.5 337.2L670.5 337.6L671.5 337.9L672.5 338.3L673.6 338.6L674.6 338.9L675.7 339.1L676.8 339.4L678.0 339.6L679.2 339.8L680.3 340.0L681.6 340.2L682.8 340.3L684.1 340.5L685.3 340.6L686.7 340.8L688.0 340.9L689.3 341.0L690.7 341.1L692.1 341.3L693.5 341.4L694.9 341.5L696.3 341.7L697.8 341.8L699.2 342.0L700.7 342.1L702.2 342.3L703.7 342.5L705.2 342.7L706.7 342.9L708.2 343.1L709.8 343.4L711.3 343.6L712.8 343.9L714.4 344.2L715.9 344.5L717.5 344.9L719.1 345.2L720.6 345.6L722.2 346.0L723.8 346.4L725.4 346.8L727.0 347.2L728.6 347.7L730.1 348.2L731.7 348.7L733.3 349.2L734.9 349.7L736.5 350.3L738.1 350.9L739.7 351.5L741.3 352.1L742.9 352.8L744.4 353.5L746.0 354.2L747.6 354.9L749.2 355.6L750.7 356.4L752.3 357.2L753.8 358.0L755.3 358.9L756.9 359.7L758.4 360.6L759.9 361.5L761.4 362.5L762.8 363.4L764.3 364.4L765.7 365.4L767.2 366.5L768.6 367.5L770.0 368.6L771.4 369.7L772.7 370.8L774.0 372.0L775.3 373.2L776.6 374.4L777.9 375.6L779.1 376.9L780.3 378.2L781.4 379.5L782.6 380.8L783.7 382.1L784.7 383.5L785.8 384.9L786.8 386.3L787.8 387.7L788.8 389.2L789.7 390.6L790.7 392.1L791.6 393.6L792.5 395.1L793.4 396.6L794.3 398.1L795.2 399.6L796.1 401.1L797.0 402.7L797.8 404.3L798.7 405.8L799.6 407.4L800.5 409.0L801.4 410.6L802.3 412.2L803.1 413.9L804.0 415.5L804.9 417.2L805.7 418.8L806.5 420.5L807.4 422.2L808.2 423.9L808.9 425.6L809.7 427.4L810.4 429.1L811.1 430.9L811.8 432.6L812.4 434.4L813.0 436.2L813.5 438.0L814.0 439.8L814.5 441.6L814.9 443.5L815.3 445.3L815.7 447.1L816.0 449.0L816.4 450.8L816.6 452.7L816.9 454.6L817.1 456.4L817.3 458.3L817.4 460.2L817.6 462.1L817.7 463.9L817.8 465.8L817.9 467.7L818.0 469.6L818.0 471.5L818.0 473.4L818.1 475.3L818.1 477.2L818.0 479.1L818.0 481.0L817.9 482.9L817.8 484.9L817.7 486.8L817.6 488.7L817.4 490.6L817.2 492.5L817.0 494.4L816.8 496.3L816.5 498.2L816.2 500.1L815.9 502.0L815.5 503.9L815.1 505.8L814.7 507.7L814.2 509.5L813.7 511.4L813.2 513.2L812.6 515.1L812.1 516.9L811.4 518.7L810.8 520.5L810.1 522.4L809.5 524.1L808.7 525.9L808.0 527.7L807.2 529.5L806.4 531.2L805.6 533.0L804.8 534.7L804.0 536.5L803.1 538.2L802.2 539.9L801.3 541.6L800.4 543.3L799.4 544.9L798.5 546.6L797.5 548.3L796.5 549.9L795.4 551.5L794.4 553.1L793.3 554.7L792.2 556.3L791.1 557.9L790.0 559.5L788.8 561.0L787.7 562.5L786.5 564.0L785.2 565.5L784.0 567.0L782.7 568.4L781.5 569.8L780.2 571.3L778.8 572.6L777.5 574.0L776.1 575.4L774.8 576.7L773.4 578.0L772.0 579.3L770.5 580.6L769.1 581.9L767.6 583.1L766.2 584.3L764.7 585.5L763.2 586.7L761.7 587.9L760.2 589.0L758.7 590.2L757.1 591.3L755.6 592.4L754.0 593.5L752.5 594.5L750.9 595.6L749.3 596.6L747.7 597.6L746.1 598.6L744.5 599.6L742.9 600.5L741.2 601.4L739.6 602.3L737.9 603.2L736.3 604.1L734.6 604.9L732.9 605.7L731.2 606.5L729.5 607.3L727.8 608.0L726.1 608.8L724.3 609.4L722.6 610.1L720.9 610.8L719.1 611.4L717.3 612.0L715.6 612.6L713.8 613.1L712.1 613.7L710.3 614.2L708.5 614.7L706.8 615.2L705.0 615.7L703.2 616.2L701.5 616.6L699.7 617.0L697.9 617.5L696.2 617.9L694.4 618.3L692.7 618.6L690.9 619.0L689.2 619.4L687.4 619.7L685.6 620.0L683.9 620.3L682.1 620.6L680.4 620.9L678.6 621.2L676.9 621.4L675.1 621.6L673.4 621.8L671.7 622.0L669.9 622.2L668.2 622.3L666.4 622.4L664.7 622.5L662.9 622.6L661.2 622.7L659.5 622.7L657.7 622.8L656.0 622.8L654.3 622.8L652.6 622.8L650.8 622.7L649.1 622.7L647.4 622.6L645.7 622.5L644.0 622.5L642.3 622.4L640.7 622.3L639.0 622.2L637.3 622.1L635.6 622.0L634.0 621.8L632.3 621.7L630.7 621.6L629.0 621.4L627.4 621.3L625.7 621.1L624.1 621.0L622.5 620.8L620.9 620.6L619.3 620.4L617.6 620.2L616.0 619.9L614.4 619.7L612.8 619.4L611.2 619.1L609.7 618.8L608.1 618.5L606.5 618.2L604.9 617.8L603.4 617.4L601.8 617.0L600.3 616.6L598.7 616.1L597.2 615.6L595.7 615.2L594.1 614.6L592.6 614.1L591.1 613.6L589.7 613.0L588.2 612.4L586.7 611.8L585.2 611.1L583.8 610.5L582.4 609.8L580.9 609.1L579.5 608.4L578.1 607.7L576.7 606.9L575.3 606.2L574.0 605.4L572.6 604.6L571.3 603.7L569.9 602.9L568.6 602.1L567.3 601.2L566.0 600.3L564.7 599.4L563.5 598.6L562.2 597.6L561.0 596.7L559.8 595.8L558.5 594.9L557.3 593.9L556.1 593.0L555.0 592.0L553.8 591.1L552.6 590.1L551.5 589.1L550.4 588.1L549.2 587.1L548.1 586.2L547.0 585.2L546.0 584.2L544.9 583.2L543.8 582.1L542.8 581.1L541.7 580.1L540.7 579.1L539.7 578.1L538.7 577.1L537.7 576.0L536.7 575.0L535.7 574.0L534.7 573.0L533.8 571.9L532.8 570.9L531.9 569.9L531.0 568.9L530.0 567.8L529.1 566.8L528.2 565.8L527.3 564.7L526.4 563.7L525.5 562.7L524.6 561.7L523.8 560.6L522.9 559.6L522.0 558.6L521.2 557.6L520.3 556.6L519.5 555.6L518.6 554.6L517.8 553.6L517.0 552.6L516.1 551.6L515.3 550.6L514.5 549.6L513.7 548.6L512.8 547.7L512.0 546.7L511.2 545.7L510.4 544.7L509.6 543.7L508.8 542.7L508.0 541.8L507.2 540.8L506.5 539.8L505.7 538.8L504.9 537.8L504.1 536.9L503.4 535.9L502.6 534.9L501.8 533.9L501.1 532.9L500.3 532.0L499.5 531.0L498.8 530.0L498.0 529.0L497.3 528.0L496.5 527.1L495.7 526.1L495.0 525.1L494.2 524.2L493.5 523.2L492.7 522.2L491.9 521.3L491.1 520.3L490.3 519.3L489.6 518.4L488.8 517.4L488.0 516.4L487.2 515.5L486.4 514.5L485.6 513.6L484.8 512.6L484.0 511.6L483.1 510.7L482.3 509.7L481.5 508.7L480.7 507.7L479.9 506.8L479.0 505.8L478.2 504.8L477.4 503.8L476.5 502.8L475.7 501.8L474.9 500.8L474.0 499.8L473.2 498.7L472.4 497.7L471.5 496.7L470.7 495.6L469.9 494.6L469.0 493.5L468.2 492.5L467.4 491.4L466.6 490.3L465.7 489.2L464.9 488.1L464.1 487.0L463.3 485.9L462.5 484.8L461.6 483.7L460.8 482.5L460.0 481.4L459.2 480.2L458.4 479.1L457.6 477.9L456.8 476.7L456.0 475.5L455.2 474.3L454.4 473.1L453.6 471.9L452.8 470.7L452.0 469.4L451.2 468.2L450.4 466.9L449.6 465.7L448.7 464.4L447.9 463.1L447.1 461.8L446.2 460.5L445.4 459.2L444.6 457.9L443.7 456.5L442.9 455.2L442.0 453.8L441.2 452.5L440.3 451.1L439.5 449.7L438.7 448.3L437.8 446.8L437.0 445.4L436.2 443.9L435.4 442.5L434.6 441.0L433.8 439.5L433.1 438.0L432.3 436.5L431.6 434.9L430.8 433.4L430.1 431.8L429.4 430.3L428.7 428.7L428.0 427.1L427.3 425.5L426.7 423.8L426.0 422.2L425.3 420.6L424.7 418.9L424.0 417.2L423.3 415.5L422.7 413.8L422.0 412.1L421.3 410.3L420.6 408.6L419.9 406.8L419.3 405.0L418.6 403.2L417.9 401.3L417.1 399.5L416.4 397.6L415.7 395.7L415.0 393.8L414.3 391.9L413.5 389.9L412.8 387.9L412.1 385.9L411.4 383.9L410.6 381.8L409.9 379.8L409.2 377.7L408.5 375.6L407.7 373.4L407.0 371.3L406.3 369.1L405.6 366.9L404.9 364.6L404.2 362.4L403.6 360.1L402.9 357.8L402.3 355.5L401.7 353.2L401.1 350.8L400.5 348.4L400.0 346.1L399.5 343.7L399.0 341.2L398.6 338.8L398.2 336.4L397.8 334.0L397.5 331.5L397.2 329.0L397.0 326.6L396.8 324.1L396.6 321.7L396.5 319.2L396.5 316.7L396.5 314.3L396.5 311.8L396.6 309.4L396.8 306.9L397.0 304.5L397.2 302.1L397.6 299.7L398.0 297.3L398.4 295.0L398.9 292.6L399.5 290.3L400.1 288.0L400.8 285.8L401.5 283.5L402.3 281.3L403.2 279.2L404.1 277.0L405.1 274.9L406.2 272.9L407.3 270.8L408.4 268.8L409.6 266.9L410.9 264.9L412.2 263.1L413.6 261.2L415.0 259.4L416.4 257.6L417.9 255.9L419.5 254.2L421.1 252.6L422.7 251.0L424.4 249.4L426.1 247.9L427.8 246.4L429.6 245.0L431.4 243.6L433.3 242.2L435.2 240.9L437.1 239.7L439.1 238.5L441.1 237.4L443.2 236.3L445.2 235.3L447.4 234.3L449.5 233.4L451.7 232.5L453.9 231.7L456.1 231.0L458.3 230.3L460.6 229.7L462.9 229.1L465.3 228.6L467.6 228.2L470.0 227.8L472.4 227.5L474.8 227.3L477.3 227.1L479.7 227.0L482.2 226.9L484.6 226.9L487.1 227.0L489.6 227.1L492.1 227.3L494.6 227.6L497.1 227.9L499.6 228.3L502.2 228.7L504.7 229.2L507.2 229.8L509.7 230.4L512.2 231.1L514.7 231.8L517.2 232.6L519.6 233.4L522.1 234.2L524.5 235.1L526.9 236.0L529.3 236.9L531.7 237.9L534.0 238.9L536.3 239.9L538.6 240.9L540.9 241.9L543.1 242.9L545.3 243.9L547.5 244.9L549.6 246.0L551.7 247.0L553.8 248.0L555.9 249.0L557.9 250.0L559.9 251.0L561.9 252.0L563.8 253.1L565.7 254.1L567.6 255.1L569.5 256.2L571.4 257.2L573.2 258.3L575.0 259.4L576.8 260.5L578.6 261.6L580.3 262.8L582.0 263.9L583.7 265.1L585.4 266.3L587.1 267.5L588.7 268.7L590.3 269.9L591.9 271.2L593.5 272.4L595.0 273.7L596.5 274.9L598.0 276.2L599.5 277.4L600.9 278.7L602.4 280.0L603.8 281.2L605.1 282.5L606.5 283.7Z" stroke="#0000ff" stroke-width="3.45" stroke-dasharray="5.7 10.35" stroke-linecap="round" stroke-linejoin="round"/>
<path d="M641.6 392.4L642.7 391.8L643.7 391.4L644.6 391.1L645.4 391.0L646.0 391.1L646.6 391.2L647.1 391.4L647.6 391.7L648.0 392.1L648.3 392.5L648.7 392.9L649.0 393.4L649.3 393.8L649.6 394.2L650.0 394.6L650.4 395.0L650.9 395.3L651.4 395.5L652.0 395.7L652.7 395.8L653.5 395.8L654.4 395.7L655.4 395.7L656.4 395.5L657.5 395.3L658.7 395.1L659.9 394.9L661.2 394.6L662.6 394.4L664.0 394.1L665.4 393.8L666.9 393.5L668.4 393.2L669.9 392.9L671.5 392.6L673.1 392.4L674.7 392.2L676.3 392.0L677.9 391.8L679.6 391.6L681.3 391.5L683.0 391.3L684.7 391.2L686.4 391.1L688.2 391.0L690.0 391.0L691.8 390.9L693.7 390.9L695.6 390.8L697.5 390.8L699.5 390.8L701.5 390.8L703.6 390.9L705.7 390.9L707.9 390.9L710.1 391.0L712.3 391.1L714.6 391.2L716.9 391.4L719.3 391.5L721.6 391.7L724.0 391.9L726.4 392.2L728.8 392.5L731.2 392.8L733.6 393.2L736.0 393.7L738.4 394.1L740.8 394.6L743.1 395.2L745.4 395.8L747.7 396.4L750.0 397.1L752.2 397.9L754.3 398.7L756.5 399.5L758.6 400.4L760.7 401.3L762.7 402.2L764.7 403.2L766.7 404.2L768.6 405.3L770.6 406.4L772.5 407.5L774.4 408.7L776.2 409.9L778.1 411.1L779.9 412.4L781.7 413.7L783.5 415.0L785.3 416.4L787.1 417.7L788.9 419.2L790.6 420.6L792.3 422.1L794.0 423.6L795.7 425.1L797.4 426.7L799.1 428.2L800.7 429.9L802.3 431.5L803.8 433.2L805.4 434.9L806.9 436.6L808.4 438.4L809.8 440.1L811.2 441.9L812.6 443.8L813.9 445.6L815.2 447.5L816.5 449.4L817.7 451.3L818.9 453.2L820.0 455.2L821.1 457.2L822.2 459.1L823.2 461.2L824.2 463.2L825.1 465.2L826.0 467.3L826.9 469.4L827.7 471.5L828.5 473.6L829.2 475.7L829.9 477.8L830.5 479.9L831.1 482.1L831.7 484.2L832.2 486.4L832.7 488.6L833.1 490.7L833.5 492.9L833.8 495.1L834.1 497.3L834.3 499.5L834.5 501.7L834.7 503.9L834.8 506.1L834.8 508.2L834.8 510.4L834.8 512.6L834.6 514.8L834.5 516.9L834.3 519.1L834.0 521.3L833.7 523.4L833.3 525.5L832.9 527.7L832.5 529.8L832.0 531.9L831.4 533.9L830.9 536.0L830.2 538.1L829.6 540.1L828.9 542.2L828.1 544.2L827.4 546.2L826.6 548.2L825.7 550.2L824.9 552.2L824.0 554.1L823.1 556.1L822.1 558.0L821.2 559.9L820.2 561.9L819.2 563.8L818.1 565.6L817.0 567.5L815.9 569.4L814.8 571.2L813.7 573.1L812.5 574.9L811.3 576.7L810.1 578.5L808.9 580.2L807.6 582.0L806.3 583.7L805.0 585.4L803.7 587.2L802.4 588.8L801.0 590.5L799.6 592.2L798.2 593.8L796.8 595.4L795.3 597.0L793.8 598.6L792.4 600.1L790.8 601.7L789.3 603.2L787.8 604.7L786.2 606.1L784.6 607.6L783.0 609.0L781.3 610.4L779.7 611.8L778.0 613.2L776.3 614.5L774.6 615.8L772.9 617.1L771.2 618.3L769.4 619.6L767.6 620.8L765.8 622.0L764.0 623.1L762.2 624.2L760.4 625.3L758.5 626.4L756.7 627.5L754.8 628.5L752.9 629.5L751.0 630.5L749.1 631.4L747.2 632.3L745.2 633.2L743.3 634.1L741.3 634.9L739.4 635.7L737.4 636.5L735.4 637.3L733.4 638.0L731.4 638.7L729.4 639.4L727.4 640.0L725.4 640.7L723.4 641.3L721.4 641.9L719.3 642.4L717.3 643.0L715.3 643.5L713.3 643.9L711.2 644.4L709.2 644.8L707.1 645.3L705.1 645.6L703.1 646.0L701.0 646.4L699.0 646.7L696.9 647.0L694.9 647.2L692.8 647.5L690.8 647.7L688.8 647.9L686.7 648.1L684.7 648.3L682.7 648.4L680.6 648.5L678.6 648.6L676.6 648.7L674.6 648.7L672.5 648.7L670.5 648.7L668.5 648.7L666.5 648.6L664.5 648.5L662.5 648.4L660.5 648.3L658.5 648.1L656.5 647.9L654.5 647.7L652.6 647.5L650.6 647.3L648.6 647.0L646.7 646.7L644.8 646.5L642.8 646.1L640.9 645.8L639.0 645.5L637.1 645.1L635.2 644.8L633.3 644.4L631.4 644.0L629.6 643.6L627.7 643.1L625.9 642.7L624.0 642.3L622.2 641.8L620.4 641.3L618.6 640.8L616.7 640.3L615.0 639.8L613.2 639.3L611.4 638.7L609.6 638.1L607.9 637.5L606.2 636.9L604.4 636.3L602.7 635.6L601.0 635.0L599.3 634.3L597.6 633.6L595.9 632.8L594.3 632.1L592.6 631.3L591.0 630.5L589.4 629.7L587.8 628.8L586.2 628.0L584.6 627.1L583.1 626.2L581.5 625.2L580.0 624.3L578.5 623.3L577.0 622.3L575.5 621.2L574.1 620.1L572.6 619.1L571.2 617.9L569.8 616.8L568.4 615.6L567.1 614.4L565.7 613.2L564.4 612.0L563.1 610.7L561.8 609.5L560.6 608.2L559.3 606.9L558.1 605.6L556.9 604.3L555.8 602.9L554.6 601.6L553.5 600.3L552.3 599.0L551.2 597.6L550.1 596.3L549.1 595.0L548.0 593.6L547.0 592.3L545.9 591.0L544.9 589.6L543.9 588.3L543.0 587.0L542.0 585.6L541.1 584.3L540.1 583.0L539.2 581.6L538.3 580.3L537.5 578.9L536.6 577.6L535.8 576.2L534.9 574.9L534.1 573.5L533.3 572.2L532.6 570.8L531.8 569.5L531.1 568.1L530.4 566.7L529.7 565.3L529.0 564.0L528.3 562.6L527.7 561.2L527.1 559.8L526.5 558.5L525.9 557.1L525.3 555.7L524.7 554.3L524.2 552.9L523.7 551.6L523.2 550.2L522.7 548.8L522.2 547.5L521.7 546.1L521.3 544.8L520.8 543.4L520.4 542.0L520.0 540.7L519.6 539.3L519.3 538.0L518.9 536.7L518.6 535.3L518.2 534.0L517.9 532.7L517.6 531.3L517.4 530.0L517.1 528.7L516.9 527.3L516.6 526.0L516.4 524.7L516.2 523.4L516.1 522.0L515.9 520.7L515.8 519.4L515.6 518.1L515.5 516.8L515.4 515.5L515.3 514.2L515.3 512.9L515.2 511.7L515.1 510.4L515.1 509.2L515.0 507.9L515.0 506.7L515.0 505.5L514.9 504.3L514.9 503.1L514.9 501.9L514.9 500.7L514.8 499.6L514.8 498.5L514.8 497.3L514.7 496.2L514.7 495.2L514.6 494.1L514.6 493.0L514.5 492.0L514.5 490.9L514.4 489.9L514.3 488.9L514.2 487.9L514.1 486.9L514.0 485.9L513.9 485.0L513.8 484.0L513.7 483.1L513.6 482.1L513.4 481.2L513.3 480.3L513.1 479.4L513.0 478.5L512.8 477.6L512.6 476.7L512.4 475.8L512.2 475.0L512.0 474.1L511.7 473.2L511.5 472.4L511.2 471.6L510.9 470.7L510.7 469.9L510.4 469.0L510.1 468.2L509.7 467.4L509.4 466.6L509.1 465.8L508.7 464.9L508.3 464.1L508.0 463.3L507.6 462.5L507.2 461.7L506.7 460.8L506.3 460.0L505.9 459.2L505.4 458.4L504.9 457.6L504.5 456.7L504.0 455.9L503.5 455.1L502.9 454.2L502.4 453.4L501.9 452.5L501.3 451.7L500.7 450.8L500.1 449.9L499.5 449.1L498.9 448.2L498.3 447.3L497.7 446.4L497.0 445.5L496.3 444.5L495.7 443.6L495.0 442.7L494.2 441.7L493.5 440.8L492.7 439.8L492.0 438.8L491.2 437.8L490.4 436.8L489.5 435.8L488.7 434.7L487.8 433.6L486.9 432.6L486.0 431.5L485.0 430.4L484.0 429.2L483.0 428.1L482.0 426.9L480.9 425.7L479.8 424.5L478.6 423.2L477.4 421.9L476.2 420.6L474.9 419.3L473.6 417.9L472.2 416.5L470.8 415.0L469.3 413.6L467.8 412.0L466.2 410.5L464.6 408.9L462.9 407.2L461.2 405.5L459.4 403.8L457.7 402.0L455.8 400.2L454.0 398.3L452.1 396.3L450.2 394.4L448.3 392.3L446.3 390.2L444.4 388.1L442.4 385.9L440.4 383.7L438.4 381.4L436.5 379.1L434.5 376.7L432.5 374.3L430.6 371.9L428.6 369.4L426.7 366.8L424.8 364.2L422.9 361.6L421.1 358.9L419.2 356.2L417.5 353.4L415.7 350.7L414.0 347.8L412.4 345.0L410.8 342.1L409.2 339.2L407.7 336.3L406.3 333.3L404.9 330.4L403.6 327.4L402.4 324.4L401.2 321.4L400.1 318.4L399.1 315.3L398.1 312.3L397.2 309.2L396.3 306.2L395.5 303.1L394.8 300.0L394.1 296.9L393.5 293.8L392.9 290.7L392.4 287.6L392.0 284.4L391.6 281.3L391.2 278.1L390.9 274.9L390.6 271.8L390.4 268.6L390.2 265.4L390.1 262.1L390.0 258.9L390.0 255.7L390.1 252.5L390.1 249.3L390.3 246.0L390.5 242.8L390.7 239.6L391.1 236.4L391.4 233.2L391.9 230.0L392.4 226.8L392.9 223.7L393.6 220.6L394.3 217.4L395.0 214.4L395.8 211.3L396.7 208.3L397.7 205.3L398.7 202.3L399.8 199.4L401.0 196.5L402.2 193.7L403.5 190.9L404.9 188.2L406.4 185.5L407.9 182.9L409.5 180.4L411.2 177.9L413.0 175.5L414.8 173.2L416.8 171.0L418.8 168.9L420.9 166.9L423.0 164.9L425.2 163.1L427.5 161.4L429.9 159.7L432.3 158.2L434.8 156.7L437.4 155.4L440.0 154.1L442.6 153.0L445.3 151.9L448.1 151.0L450.9 150.1L453.7 149.4L456.6 148.7L459.5 148.2L462.4 147.7L465.4 147.3L468.4 147.1L471.4 146.9L474.4 146.8L477.5 146.8L480.5 146.9L483.6 147.1L486.7 147.4L489.8 147.7L492.9 148.1L496.0 148.7L499.1 149.3L502.2 149.9L505.3 150.7L508.4 151.5L511.5 152.4L514.6 153.4L517.6 154.4L520.7 155.5L523.7 156.7L526.7 157.9L529.7 159.2L532.7 160.5L535.6 161.9L538.5 163.4L541.4 164.9L544.3 166.6L547.2 168.3L550.0 170.0L552.8 171.9L555.6 173.8L558.4 175.8L561.1 177.9L563.8 180.1L566.5 182.4L569.1 184.7L571.7 187.2L574.3 189.8L576.8 192.4L579.3 195.1L581.7 198.0L584.1 200.9L586.4 203.9L588.7 206.9L591.0 210.0L593.1 213.2L595.3 216.4L597.4 219.7L599.4 223.0L601.3 226.4L603.2 229.8L605.1 233.2L606.9 236.7L608.6 240.1L610.2 243.6L611.8 247.1L613.4 250.5L614.9 254.0L616.3 257.5L617.6 260.9L618.9 264.4L620.2 267.8L621.4 271.2L622.5 274.6L623.6 278.0L624.6 281.3L625.6 284.7L626.5 288.0L627.4 291.2L628.2 294.5L629.0 297.7L629.7 300.8L630.4 303.9L631.0 307.0L631.6 310.0L632.2 313.0L632.7 315.9L633.1 318.8L633.6 321.6L634.0 324.4L634.3 327.1L634.7 329.8L635.0 332.5L635.2 335.0L635.5 337.6L635.7 340.0L635.9 342.5L636.1 344.8L636.2 347.1L636.3 349.4L636.4 351.6L636.5 353.8L636.6 355.9L636.6 357.9L636.6 359.9L636.7 361.8L636.7 363.7L636.7 365.5L636.7 367.2L636.7 368.9L636.7 370.5L636.7 372.1L636.7 373.5L636.7 375.0L636.7 376.3L636.7 377.6L636.8 378.8L636.8 380.0L636.9 381.1L637.0 382.1L637.1 383.0L637.2 383.9L637.4 384.8L637.5 385.5L637.7 386.2L637.9 386.9L638.2 387.5L638.4 388.1L638.7 388.7L639.0 389.2L639.2 389.6L639.6 390.1L639.9 390.5L640.2 390.9L640.6 391.3L640.9 391.7L641.3 392.0L641.6 392.4Z" stroke="#00ffff" stroke-width="3.45" stroke-dasharray="5.7 10.35" stroke-linecap="round" stroke-linejoin="round"/>
<path d="M628.5 406.8L629.0 406.8L629.4 406.8L629.8 406.8L630.2 406.8L630.6 406.9L631.0 406.9L631.4 407.0L631.8 407.0L632.2 407.1L632.6 407.1L633.1 407.1L633.6 407.1L634.1 407.1L634.6 407.0L635.2 406.9L635.9 406.7L636.6 406.5L637.3 406.3L638.1 406.0L639.0 405.7L640.0 405.3L641.0 404.9L642.1 404.5L643.2 404.0L644.4 403.5L645.6 403.0L646.9 402.5L648.3 401.9L649.7 401.4L651.1 400.8L652.6 400.3L654.1 399.7L655.7 399.1L657.3 398.6L658.9 398.1L660.6 397.5L662.3 397.0L664.0 396.5L665.7 396.1L667.5 395.6L669.3 395.2L671.1 394.7L673.0 394.3L674.8 394.0L676.7 393.6L678.6 393.3L680.6 393.0L682.5 392.7L684.5 392.4L686.5 392.2L688.5 392.0L690.5 391.8L692.6 391.6L694.7 391.5L696.8 391.4L698.9 391.3L701.0 391.3L703.2 391.3L705.3 391.3L707.5 391.3L709.7 391.4L711.9 391.5L714.2 391.6L716.4 391.8L718.7 392.0L721.0 392.2L723.3 392.4L725.7 392.7L728.1 393.0L730.4 393.4L732.8 393.8L735.3 394.2L737.7 394.6L740.2 395.1L742.7 395.6L745.2 396.1L747.7 396.7L750.2 397.3L752.7 398.0L755.2 398.7L757.7 399.5L760.2 400.2L762.7 401.1L765.2 402.0L767.6 402.9L770.1 403.8L772.5 404.8L774.9 405.9L777.2 407.0L779.5 408.1L781.8 409.3L784.1 410.5L786.3 411.8L788.4 413.1L790.6 414.4L792.7 415.8L794.7 417.2L796.7 418.7L798.7 420.2L800.6 421.7L802.5 423.3L804.3 424.9L806.1 426.5L807.8 428.2L809.5 429.8L811.1 431.6L812.7 433.3L814.2 435.1L815.7 436.9L817.1 438.7L818.5 440.6L819.9 442.5L821.2 444.4L822.4 446.3L823.6 448.2L824.8 450.2L825.9 452.2L827.0 454.2L828.0 456.2L829.0 458.2L830.0 460.3L830.9 462.4L831.8 464.5L832.6 466.6L833.5 468.7L834.3 470.8L835.0 473.0L835.7 475.1L836.4 477.3L837.1 479.5L837.7 481.7L838.3 483.9L838.9 486.1L839.4 488.4L839.8 490.6L840.3 492.8L840.6 495.1L841.0 497.3L841.3 499.6L841.5 501.8L841.7 504.1L841.8 506.4L841.9 508.6L841.9 510.9L841.9 513.1L841.8 515.4L841.6 517.6L841.4 519.8L841.2 522.0L840.9 524.2L840.6 526.5L840.2 528.6L839.8 530.8L839.3 533.0L838.8 535.2L838.3 537.3L837.7 539.5L837.1 541.6L836.4 543.8L835.7 545.9L835.0 548.0L834.3 550.1L833.5 552.2L832.7 554.3L831.9 556.3L831.0 558.4L830.2 560.4L829.2 562.5L828.3 564.5L827.3 566.5L826.3 568.5L825.3 570.5L824.2 572.4L823.1 574.4L821.9 576.3L820.8 578.2L819.6 580.1L818.3 582.0L817.1 583.8L815.8 585.6L814.4 587.4L813.1 589.2L811.7 590.9L810.2 592.7L808.8 594.4L807.3 596.0L805.8 597.7L804.3 599.3L802.7 600.9L801.1 602.5L799.5 604.0L797.9 605.6L796.3 607.1L794.6 608.6L793.0 610.1L791.3 611.5L789.6 612.9L787.9 614.4L786.1 615.8L784.4 617.1L782.6 618.5L780.9 619.8L779.1 621.1L777.3 622.4L775.5 623.7L773.6 624.9L771.8 626.2L769.9 627.4L768.1 628.5L766.2 629.7L764.3 630.8L762.4 631.9L760.4 632.9L758.5 634.0L756.5 635.0L754.6 635.9L752.6 636.9L750.6 637.7L748.5 638.6L746.5 639.5L744.5 640.3L742.4 641.0L740.3 641.8L738.3 642.5L736.2 643.1L734.1 643.8L732.0 644.4L729.9 645.0L727.8 645.5L725.7 646.1L723.5 646.6L721.4 647.0L719.3 647.5L717.2 647.9L715.0 648.3L712.9 648.6L710.8 648.9L708.6 649.2L706.5 649.5L704.4 649.8L702.2 650.0L700.1 650.2L698.0 650.4L695.8 650.5L693.7 650.7L691.6 650.8L689.5 650.9L687.4 651.0L685.3 651.0L683.2 651.1L681.1 651.1L679.0 651.1L677.0 651.1L674.9 651.1L672.9 651.0L670.8 651.0L668.8 650.9L666.7 650.8L664.7 650.7L662.7 650.6L660.7 650.5L658.6 650.3L656.6 650.1L654.7 649.9L652.7 649.7L650.7 649.5L648.7 649.3L646.7 649.0L644.8 648.7L642.8 648.4L640.9 648.1L639.0 647.8L637.0 647.4L635.1 647.0L633.2 646.6L631.3 646.2L629.4 645.8L627.6 645.3L625.7 644.9L623.8 644.4L622.0 643.9L620.1 643.3L618.3 642.8L616.5 642.2L614.7 641.6L612.9 641.0L611.1 640.4L609.3 639.8L607.6 639.1L605.8 638.5L604.1 637.8L602.3 637.1L600.6 636.3L598.9 635.6L597.2 634.8L595.5 634.0L593.9 633.2L592.2 632.3L590.6 631.4L589.0 630.5L587.4 629.6L585.8 628.6L584.2 627.7L582.7 626.7L581.1 625.6L579.6 624.5L578.1 623.4L576.6 622.3L575.2 621.2L573.8 620.0L572.3 618.8L571.0 617.5L569.6 616.3L568.2 615.0L566.9 613.7L565.6 612.4L564.3 611.0L563.1 609.7L561.8 608.3L560.6 606.9L559.4 605.5L558.3 604.1L557.1 602.6L556.0 601.2L554.9 599.8L553.8 598.3L552.7 596.8L551.7 595.4L550.7 593.9L549.7 592.4L548.7 590.9L547.8 589.4L546.9 587.9L546.0 586.4L545.1 584.8L544.2 583.3L543.4 581.8L542.6 580.3L541.8 578.7L541.0 577.2L540.3 575.6L539.5 574.1L538.8 572.5L538.1 571.0L537.5 569.4L536.9 567.9L536.2 566.3L535.6 564.8L535.1 563.2L534.5 561.7L534.0 560.1L533.5 558.5L533.0 556.9L532.6 555.3L532.2 553.8L531.8 552.2L531.4 550.6L531.1 549.0L530.8 547.4L530.5 545.7L530.2 544.1L530.0 542.5L529.8 540.9L529.6 539.3L529.5 537.6L529.4 536.0L529.3 534.4L529.2 532.8L529.1 531.2L529.1 529.6L529.0 528.1L529.0 526.5L529.0 525.0L529.0 523.5L529.0 522.0L529.1 520.5L529.1 519.0L529.1 517.6L529.2 516.1L529.2 514.8L529.3 513.4L529.3 512.0L529.3 510.7L529.4 509.4L529.4 508.1L529.5 506.8L529.5 505.6L529.6 504.4L529.6 503.2L529.7 502.0L529.7 500.8L529.8 499.7L529.8 498.6L529.9 497.4L529.9 496.3L529.9 495.3L530.0 494.2L530.0 493.2L530.0 492.1L530.1 491.1L530.1 490.1L530.1 489.1L530.1 488.2L530.1 487.2L530.1 486.3L530.1 485.4L530.1 484.5L530.1 483.6L530.0 482.7L530.0 481.8L530.0 480.9L529.9 480.1L529.9 479.3L529.8 478.4L529.7 477.6L529.6 476.8L529.5 476.0L529.4 475.3L529.3 474.5L529.2 473.7L529.1 473.0L528.9 472.2L528.7 471.5L528.6 470.8L528.4 470.0L528.2 469.3L528.0 468.6L527.7 467.9L527.5 467.2L527.2 466.5L526.9 465.9L526.6 465.2L526.3 464.5L526.0 463.8L525.6 463.2L525.3 462.5L524.9 461.9L524.5 461.2L524.0 460.6L523.6 459.9L523.1 459.3L522.6 458.6L522.1 458.0L521.5 457.3L520.9 456.7L520.3 456.0L519.7 455.3L519.0 454.7L518.4 454.0L517.6 453.4L516.9 452.7L516.1 452.0L515.3 451.3L514.4 450.6L513.6 449.9L512.7 449.2L511.8 448.5L510.8 447.7L509.8 447.0L508.9 446.2L507.8 445.4L506.8 444.6L505.8 443.8L504.7 443.0L503.6 442.1L502.5 441.3L501.4 440.4L500.2 439.5L499.1 438.6L497.9 437.6L496.7 436.7L495.5 435.7L494.3 434.7L493.0 433.6L491.7 432.6L490.4 431.5L489.0 430.4L487.6 429.3L486.2 428.1L484.7 426.9L483.2 425.7L481.6 424.4L479.9 423.1L478.2 421.8L476.5 420.4L474.7 419.0L472.8 417.5L470.8 416.0L468.8 414.5L466.8 412.9L464.7 411.2L462.6 409.5L460.4 407.7L458.2 405.9L455.9 404.1L453.7 402.2L451.4 400.2L449.1 398.2L446.8 396.1L444.5 394.0L442.2 391.8L439.9 389.6L437.6 387.3L435.3 385.0L433.0 382.6L430.7 380.2L428.5 377.7L426.3 375.2L424.1 372.7L421.9 370.1L419.7 367.4L417.6 364.7L415.5 362.0L413.4 359.2L411.3 356.4L409.3 353.5L407.3 350.5L405.3 347.6L403.4 344.6L401.4 341.5L399.6 338.4L397.7 335.3L395.9 332.1L394.2 328.9L392.4 325.6L390.8 322.3L389.1 319.0L387.5 315.6L386.0 312.2L384.6 308.8L383.1 305.4L381.8 301.9L380.5 298.4L379.3 294.9L378.2 291.4L377.1 287.9L376.1 284.3L375.2 280.8L374.4 277.3L373.6 273.7L372.9 270.2L372.4 266.6L371.8 263.1L371.4 259.6L371.1 256.1L370.8 252.5L370.7 249.1L370.6 245.6L370.5 242.1L370.6 238.6L370.7 235.2L370.9 231.8L371.2 228.4L371.6 225.0L372.0 221.6L372.5 218.2L373.0 214.9L373.7 211.6L374.4 208.3L375.2 205.0L376.0 201.8L376.9 198.6L377.9 195.4L379.0 192.3L380.1 189.2L381.3 186.2L382.6 183.2L384.0 180.3L385.5 177.4L387.0 174.6L388.6 171.8L390.4 169.2L392.1 166.6L394.0 164.1L396.0 161.6L398.0 159.3L400.1 157.0L402.3 154.9L404.6 152.8L406.9 150.8L409.3 149.0L411.8 147.2L414.4 145.5L417.0 144.0L419.7 142.5L422.4 141.2L425.3 139.9L428.1 138.8L431.1 137.8L434.0 136.9L437.1 136.1L440.2 135.4L443.3 134.9L446.5 134.4L449.7 134.1L452.9 133.9L456.2 133.9L459.5 133.9L462.8 134.0L466.2 134.3L469.5 134.7L472.9 135.1L476.3 135.7L479.7 136.3L483.1 137.1L486.5 137.9L489.9 138.8L493.2 139.8L496.6 140.9L499.9 142.0L503.3 143.3L506.6 144.5L509.9 145.9L513.2 147.3L516.4 148.8L519.6 150.3L522.8 151.9L526.0 153.6L529.2 155.4L532.3 157.2L535.4 159.1L538.5 161.1L541.5 163.1L544.5 165.2L547.5 167.4L550.5 169.7L553.4 172.1L556.3 174.6L559.1 177.1L561.9 179.8L564.7 182.5L567.4 185.3L570.1 188.2L572.7 191.2L575.3 194.3L577.8 197.4L580.3 200.6L582.7 203.9L585.1 207.2L587.4 210.6L589.7 214.0L591.9 217.5L594.0 221.1L596.1 224.7L598.1 228.3L600.0 232.0L601.9 235.7L603.7 239.5L605.5 243.2L607.2 247.0L608.8 250.9L610.3 254.7L611.8 258.5L613.2 262.4L614.6 266.3L615.9 270.2L617.1 274.0L618.3 277.9L619.3 281.8L620.4 285.7L621.3 289.5L622.2 293.4L623.0 297.2L623.8 301.0L624.5 304.7L625.2 308.5L625.7 312.2L626.3 315.9L626.8 319.5L627.2 323.1L627.5 326.6L627.9 330.1L628.1 333.5L628.4 336.8L628.6 340.1L628.7 343.3L628.8 346.4L628.9 349.3L629.0 352.2L629.0 355.0L629.1 357.7L629.1 360.3L629.1 362.7L629.1 365.1L629.1 367.3L629.1 369.4L629.1 371.3L629.1 373.2L629.1 375.0L629.1 376.7L629.1 378.3L629.1 379.8L629.1 381.3L629.1 382.7L629.1 384.0L629.1 385.3L629.1 386.6L629.1 387.8L629.0 389.0L629.0 390.2L628.9 391.4L628.9 392.6L628.8 393.7L628.6 394.9L628.5 396.1L628.4 397.2L628.2 398.3L628.1 399.4L627.9 400.4L627.8 401.4L627.7 402.3L627.6 403.1L627.6 403.9L627.5 404.6L627.6 405.2L627.6 405.7L627.7 406.2L627.9 406.5L628.2 406.7L628.5 406.8Z" stroke="#800000" stroke-width="3.45" stroke-dasharray="5.7 10.35" stroke-linecap="round" stroke-linejoin="round"/>
<circle cx="606.1" cy="438.0" r="361.5" stroke="#000" stroke-width="2.55"/>
<line x1="606.5" y1="76.2" x2="606.5" y2="90.4" stroke="#000" stroke-width="2.55"/>
<line x1="787.4" y1="124.7" x2="780.3" y2="137.0" stroke="#000" stroke-width="2.55"/>
<line x1="919.8" y1="257.1" x2="907.5" y2="264.2" stroke="#000" stroke-width="2.55"/>
<line x1="968.3" y1="438.0" x2="954.1" y2="438.0" stroke="#000" stroke-width="2.55"/>
<line x1="919.8" y1="618.9" x2="907.5" y2="611.8" stroke="#000" stroke-width="2.55"/>
<line x1="787.4" y1="751.3" x2="780.3" y2="739.0" stroke="#000" stroke-width="2.55"/>
<line x1="606.5" y1="799.8" x2="606.5" y2="785.6" stroke="#000" stroke-width="2.55"/>
<line x1="425.6" y1="751.3" x2="432.7" y2="739.0" stroke="#000" stroke-width="2.55"/>
<line x1="293.2" y1="618.9" x2="305.5" y2="611.8" stroke="#000" stroke-width="2.55"/>
<line x1="244.7" y1="438.0" x2="258.9" y2="438.0" stroke="#000" stroke-width="2.55"/>
<line x1="293.2" y1="257.1" x2="305.5" y2="264.2" stroke="#000" stroke-width="2.55"/>
<line x1="425.6" y1="124.7" x2="432.7" y2="137.0" stroke="#000" stroke-width="2.55"/>
</g>
<g fill="none">
<circle cx="1823.6" cy="440.95" r="45.0" stroke="#cccccc" stroke-width="1.05"/>
<circle cx="1823.6" cy="440.95" r="112.4" stroke="#cccccc" stroke-width="1.05"/>
<circle cx="1823.6" cy="440.95" r="247.2" stroke="#cccccc" stroke-width="1.05"/>
<circle cx="1823.6" cy="440.95" r="314.7" stroke="#cccccc" stroke-width="1.05"/>
<circle cx="1823.6" cy="440.95" r="11.2" stroke="#cccccc" stroke-width="1.05" stroke-dasharray="4.6 4.3"/>
<circle cx="1823.6" cy="440.95" r="78.7" stroke="#cccccc" stroke-width="1.05" stroke-dasharray="4.6 4.3"/>
<circle cx="1823.6" cy="440.95" r="146.1" stroke="#cccccc" stroke-width="1.05" stroke-dasharray="4.6 4.3"/>
<circle cx="1823.6" cy="440.95" r="213.5" stroke="#cccccc" stroke-width="1.05" stroke-dasharray="4.6 4.3"/>
<circle cx="1823.6" cy="440.95" r="280.9" stroke="#cccccc" stroke-width="1.05" stroke-dasharray="4.6 4.3"/>
<circle cx="1823.6" cy="440.95" r="348.4" stroke="#cccccc" stroke-width="1.05" stroke-dasharray="4.6 4.3"/>
<line x1="1823.8" y1="429.9" x2="1823.8" y2="81.5" stroke="#b8b8b8" stroke-width="1.3" stroke-dasharray="8.5 8.3"/>
<line x1="1829.4" y1="431.5" x2="2003.6" y2="129.7" stroke="#b8b8b8" stroke-width="1.3" stroke-dasharray="8.5 8.3"/>
<line x1="1833.5" y1="435.5" x2="2135.2" y2="261.3" stroke="#b8b8b8" stroke-width="1.3" stroke-dasharray="8.5 8.3"/>
<line x1="1835.0" y1="441.1" x2="2183.4" y2="441.1" stroke="#b8b8b8" stroke-width="1.3" stroke-dasharray="8.5 8.3"/>
<line x1="1833.5" y1="446.8" x2="2135.2" y2="620.9" stroke="#b8b8b8" stroke-width="1.3" stroke-dasharray="8.5 8.3"/>
<line x1="1829.4" y1="450.8" x2="2003.6" y2="752.6" stroke="#b8b8b8" stroke-width="1.3" stroke-dasharray="8.5 8.3"/>
<line x1="1823.8" y1="452.3" x2="1823.8" y2="800.8" stroke="#b8b8b8" stroke-width="1.3" stroke-dasharray="8.5 8.3"/>
<line x1="1818.2" y1="450.8" x2="1644.0" y2="752.6" stroke="#b8b8b8" stroke-width="1.3" stroke-dasharray="8.5 8.3"/>
<line x1="1814.1" y1="446.8" x2="1512.4" y2="621.0" stroke="#b8b8b8" stroke-width="1.3" stroke-dasharray="8.5 8.3"/>
<line x1="1812.6" y1="441.1" x2="1464.2" y2="441.2" stroke="#b8b8b8" stroke-width="1.3" stroke-dasharray="8.5 8.3"/>
<line x1="1814.1" y1="435.5" x2="1512.4" y2="261.3" stroke="#b8b8b8" stroke-width="1.3" stroke-dasharray="8.5 8.3"/>
<line x1="1818.2" y1="431.5" x2="1644.0" y2="129.7" stroke="#b8b8b8" stroke-width="1.3" stroke-dasharray="8.5 8.3"/>
<circle cx="1823.6" cy="440.95" r="179.8" stroke="#7f7f7f" stroke-width="1.5"/>
<line x1="1823.8" y1="261.3" x2="1823.8" y2="247.8" stroke="#7f7f7f" stroke-width="1.5"/>
<line x1="1913.7" y1="285.4" x2="1920.5" y2="273.7" stroke="#7f7f7f" stroke-width="1.5"/>
<line x1="1979.5" y1="351.2" x2="1991.2" y2="344.5" stroke="#7f7f7f" stroke-width="1.5"/>
<line x1="2003.6" y1="441.1" x2="2017.1" y2="441.1" stroke="#7f7f7f" stroke-width="1.5"/>
<line x1="1979.5" y1="531.0" x2="1991.2" y2="537.8" stroke="#7f7f7f" stroke-width="1.5"/>
<line x1="1913.7" y1="596.9" x2="1920.5" y2="608.6" stroke="#7f7f7f" stroke-width="1.5"/>
<line x1="1823.8" y1="621.0" x2="1823.8" y2="634.5" stroke="#7f7f7f" stroke-width="1.5"/>
<line x1="1733.9" y1="596.9" x2="1727.1" y2="608.6" stroke="#7f7f7f" stroke-width="1.5"/>
<line x1="1668.1" y1="531.1" x2="1656.4" y2="537.8" stroke="#7f7f7f" stroke-width="1.5"/>
<line x1="1644.0" y1="441.2" x2="1630.5" y2="441.2" stroke="#7f7f7f" stroke-width="1.5"/>
<line x1="1668.1" y1="351.2" x2="1656.4" y2="344.5" stroke="#7f7f7f" stroke-width="1.5"/>
<line x1="1733.9" y1="285.4" x2="1727.1" y2="273.7" stroke="#7f7f7f" stroke-width="1.5"/>
<path d="M1823.8 187.9L1826.0 187.9L1828.2 187.9L1830.4 187.9L1832.6 188.0L1834.8 188.0L1837.0 188.1L1839.2 188.2L1841.4 188.3L1843.6 188.4L1845.8 188.5L1848.0 188.7L1850.3 188.8L1852.5 189.0L1854.7 189.2L1856.9 189.4L1859.1 189.6L1861.3 189.9L1863.5 190.1L1865.7 190.4L1867.9 190.7L1870.1 191.0L1872.3 191.3L1874.5 191.6L1876.7 192.0L1878.9 192.4L1881.1 192.7L1883.3 193.1L1885.4 193.5L1887.6 194.0L1889.8 194.4L1892.0 194.9L1894.2 195.4L1896.4 195.9L1898.5 196.4L1900.7 196.9L1902.9 197.4L1905.1 198.0L1907.2 198.5L1909.4 199.1L1911.6 199.7L1913.7 200.3L1915.9 201.0L1918.0 201.6L1920.2 202.3L1922.3 203.0L1924.5 203.7L1926.6 204.4L1928.8 205.1L1930.9 205.9L1933.0 206.6L1935.2 207.4L1937.3 208.2L1939.4 209.0L1941.5 209.9L1943.6 210.7L1945.7 211.6L1947.8 212.5L1949.9 213.4L1952.0 214.4L1954.0 215.3L1956.1 216.3L1958.1 217.3L1960.2 218.4L1962.2 219.4L1964.3 220.5L1966.3 221.5L1968.3 222.6L1970.3 223.8L1972.3 224.9L1974.3 226.1L1976.2 227.2L1978.2 228.4L1980.2 229.6L1982.1 230.9L1984.0 232.1L1986.0 233.4L1987.9 234.6L1989.8 235.9L1991.7 237.2L1993.6 238.5L1995.5 239.9L1997.4 241.2L1999.3 242.6L2001.2 243.9L2003.0 245.3L2004.9 246.7L2006.8 248.2L2008.6 249.6L2010.4 251.0L2012.3 252.5L2014.1 253.9L2015.9 255.4L2017.7 256.9L2019.5 258.4L2021.3 259.9L2023.1 261.5L2024.9 263.0L2026.7 264.6L2028.4 266.2L2030.2 267.8L2032.0 269.4L2033.7 271.0L2035.4 272.6L2037.2 274.3L2038.9 275.9L2040.6 277.6L2042.3 279.3L2043.9 281.0L2045.6 282.7L2047.3 284.5L2048.9 286.2L2050.6 288.0L2052.2 289.8L2053.8 291.6L2055.4 293.4L2057.0 295.2L2058.6 297.1L2060.2 298.9L2061.7 300.8L2063.3 302.7L2064.8 304.6L2066.3 306.6L2067.8 308.5L2069.2 310.5L2070.7 312.5L2072.1 314.4L2073.5 316.5L2074.9 318.5L2076.3 320.6L2077.6 322.6L2078.9 324.7L2080.2 326.8L2081.5 328.9L2082.7 331.1L2083.9 333.2L2085.1 335.4L2086.3 337.6L2087.4 339.8L2088.6 342.0L2089.7 344.2L2090.7 346.5L2091.8 348.7L2092.8 351.0L2093.8 353.3L2094.8 355.6L2095.7 357.9L2096.6 360.2L2097.5 362.5L2098.4 364.8L2099.3 367.2L2100.1 369.5L2100.9 371.9L2101.7 374.3L2102.5 376.6L2103.3 379.0L2104.0 381.4L2104.7 383.8L2105.4 386.2L2106.1 388.7L2106.8 391.1L2107.4 393.5L2108.0 396.0L2108.6 398.4L2109.2 400.9L2109.8 403.3L2110.3 405.8L2110.8 408.3L2111.3 410.8L2111.7 413.3L2112.1 415.8L2112.5 418.3L2112.9 420.8L2113.2 423.3L2113.5 425.8L2113.7 428.3L2113.9 430.9L2114.1 433.4L2114.3 435.9L2114.4 438.5L2114.5 441.0L2114.5 443.5L2114.5 446.1L2114.4 448.6L2114.4 451.1L2114.2 453.7L2114.1 456.2L2113.9 458.7L2113.7 461.3L2113.4 463.8L2113.1 466.3L2112.8 468.8L2112.4 471.3L2112.0 473.8L2111.6 476.3L2111.2 478.8L2110.7 481.3L2110.3 483.8L2109.7 486.3L2109.2 488.8L2108.7 491.2L2108.1 493.7L2107.5 496.2L2106.9 498.6L2106.2 501.0L2105.6 503.5L2104.9 505.9L2104.3 508.3L2103.6 510.8L2102.9 513.2L2102.1 515.6L2101.4 518.0L2100.6 520.4L2099.8 522.8L2099.0 525.2L2098.2 527.5L2097.4 529.9L2096.5 532.3L2095.6 534.6L2094.7 536.9L2093.7 539.3L2092.8 541.6L2091.8 543.9L2090.8 546.2L2089.7 548.5L2088.6 550.7L2087.5 553.0L2086.4 555.2L2085.2 557.4L2084.1 559.6L2082.8 561.8L2081.6 564.0L2080.3 566.1L2079.0 568.3L2077.7 570.4L2076.3 572.5L2074.9 574.6L2073.5 576.6L2072.1 578.7L2070.7 580.7L2069.2 582.7L2067.7 584.7L2066.2 586.7L2064.7 588.7L2063.2 590.6L2061.6 592.6L2060.1 594.5L2058.5 596.4L2056.9 598.3L2055.3 600.2L2053.7 602.0L2052.1 603.9L2050.5 605.7L2048.8 607.6L2047.2 609.4L2045.5 611.2L2043.9 613.0L2042.2 614.8L2040.5 616.5L2038.8 618.3L2037.1 620.0L2035.4 621.8L2033.7 623.5L2031.9 625.2L2030.2 626.9L2028.4 628.6L2026.7 630.2L2024.9 631.9L2023.1 633.5L2021.3 635.1L2019.4 636.7L2017.6 638.3L2015.8 639.8L2013.9 641.4L2012.0 642.9L2010.1 644.4L2008.2 645.9L2006.3 647.3L2004.3 648.8L2002.4 650.2L2000.4 651.6L1998.5 652.9L1996.5 654.3L1994.5 655.6L1992.5 656.9L1990.4 658.2L1988.4 659.5L1986.4 660.8L1984.3 662.0L1982.3 663.2L1980.2 664.4L1978.1 665.6L1976.0 666.8L1973.9 667.9L1971.9 669.1L1969.8 670.2L1967.6 671.3L1965.5 672.4L1963.4 673.4L1961.3 674.5L1959.2 675.5L1957.0 676.6L1954.9 677.6L1952.7 678.6L1950.6 679.6L1948.5 680.5L1946.3 681.5L1944.1 682.5L1942.0 683.4L1939.8 684.3L1937.6 685.2L1935.4 686.1L1933.3 687.0L1931.1 687.8L1928.9 688.7L1926.7 689.5L1924.5 690.3L1922.3 691.1L1920.1 691.9L1917.8 692.6L1915.6 693.4L1913.4 694.1L1911.1 694.8L1908.9 695.5L1906.7 696.2L1904.4 696.8L1902.2 697.5L1899.9 698.1L1897.6 698.7L1895.4 699.3L1893.1 699.8L1890.8 700.4L1888.6 700.9L1886.3 701.4L1884.0 701.9L1881.7 702.4L1879.4 702.9L1877.1 703.3L1874.8 703.7L1872.5 704.1L1870.2 704.5L1867.9 704.9L1865.6 705.2L1863.3 705.5L1861.0 705.8L1858.7 706.1L1856.3 706.4L1854.0 706.6L1851.7 706.9L1849.4 707.1L1847.0 707.3L1844.7 707.5L1842.4 707.6L1840.1 707.8L1837.7 707.9L1835.4 708.0L1833.1 708.1L1830.7 708.1L1828.4 708.2L1826.1 708.2L1823.8 708.2L1821.4 708.2L1819.1 708.2L1816.8 708.1L1814.4 708.1L1812.1 708.0L1809.8 707.9L1807.4 707.8L1805.1 707.6L1802.8 707.5L1800.5 707.3L1798.1 707.1L1795.8 706.9L1793.5 706.7L1791.2 706.4L1788.8 706.2L1786.5 705.9L1784.2 705.6L1781.9 705.3L1779.6 704.9L1777.3 704.6L1775.0 704.2L1772.7 703.8L1770.4 703.4L1768.1 702.9L1765.8 702.5L1763.5 702.0L1761.2 701.5L1758.9 701.0L1756.6 700.5L1754.4 699.9L1752.1 699.3L1749.8 698.8L1747.6 698.1L1745.3 697.5L1743.1 696.9L1740.8 696.2L1738.6 695.5L1736.4 694.8L1734.1 694.1L1731.9 693.3L1729.7 692.6L1727.5 691.8L1725.3 691.0L1723.1 690.2L1720.9 689.3L1718.7 688.5L1716.5 687.6L1714.3 686.7L1712.2 685.8L1710.0 684.9L1707.9 684.0L1705.7 683.0L1703.6 682.0L1701.4 681.0L1699.3 680.0L1697.2 679.0L1695.1 678.0L1693.0 676.9L1690.9 675.9L1688.8 674.8L1686.7 673.7L1684.6 672.6L1682.5 671.4L1680.5 670.3L1678.4 669.1L1676.4 668.0L1674.3 666.8L1672.3 665.6L1670.3 664.3L1668.2 663.1L1666.2 661.9L1664.2 660.6L1662.2 659.3L1660.2 658.0L1658.2 656.7L1656.2 655.4L1654.3 654.1L1652.3 652.7L1650.4 651.3L1648.4 650.0L1646.5 648.6L1644.5 647.1L1642.6 645.7L1640.7 644.3L1638.8 642.8L1636.9 641.4L1635.0 639.9L1633.1 638.4L1631.3 636.9L1629.4 635.3L1627.6 633.8L1625.7 632.2L1623.9 630.7L1622.1 629.1L1620.2 627.5L1618.4 625.9L1616.6 624.2L1614.9 622.6L1613.1 620.9L1611.3 619.3L1609.6 617.6L1607.8 615.9L1606.1 614.1L1604.4 612.4L1602.7 610.6L1601.0 608.9L1599.3 607.1L1597.6 605.3L1596.0 603.5L1594.3 601.7L1592.7 599.8L1591.1 598.0L1589.4 596.1L1587.9 594.2L1586.3 592.3L1584.7 590.4L1583.2 588.4L1581.7 586.5L1580.2 584.5L1578.7 582.5L1577.2 580.5L1575.8 578.5L1574.3 576.4L1572.9 574.4L1571.5 572.3L1570.2 570.2L1568.8 568.1L1567.5 566.0L1566.2 563.8L1564.9 561.7L1563.7 559.5L1562.5 557.3L1561.3 555.1L1560.1 552.9L1559.0 550.7L1557.9 548.4L1556.8 546.2L1555.7 543.9L1554.7 541.6L1553.7 539.3L1552.7 537.0L1551.7 534.7L1550.8 532.3L1549.8 530.0L1548.9 527.6L1548.1 525.3L1547.2 522.9L1546.4 520.5L1545.6 518.1L1544.8 515.7L1544.1 513.3L1543.3 510.9L1542.6 508.5L1541.9 506.1L1541.2 503.6L1540.6 501.2L1540.0 498.7L1539.4 496.3L1538.8 493.8L1538.2 491.3L1537.7 488.9L1537.2 486.4L1536.7 483.9L1536.2 481.4L1535.8 478.9L1535.4 476.4L1535.0 473.9L1534.6 471.4L1534.3 468.9L1534.0 466.3L1533.7 463.8L1533.5 461.3L1533.3 458.8L1533.1 456.2L1533.0 453.7L1532.9 451.2L1532.8 448.6L1532.8 446.1L1532.8 443.5L1532.8 441.0L1532.9 438.5L1533.0 435.9L1533.1 433.4L1533.3 430.9L1533.5 428.3L1533.7 425.8L1533.9 423.3L1534.2 420.8L1534.5 418.2L1534.9 415.7L1535.2 413.2L1535.6 410.7L1536.0 408.2L1536.4 405.7L1536.8 403.2L1537.3 400.7L1537.8 398.3L1538.3 395.8L1538.8 393.3L1539.3 390.8L1539.8 388.4L1540.4 385.9L1541.0 383.5L1541.5 381.0L1542.1 378.6L1542.7 376.1L1543.4 373.7L1544.0 371.3L1544.7 368.8L1545.4 366.4L1546.1 364.0L1546.8 361.6L1547.6 359.2L1548.3 356.8L1549.2 354.4L1550.0 352.1L1550.9 349.7L1551.8 347.4L1552.7 345.0L1553.7 342.7L1554.7 340.4L1555.8 338.1L1556.9 335.9L1558.0 333.6L1559.2 331.4L1560.4 329.2L1561.7 327.0L1563.0 324.9L1564.3 322.8L1565.7 320.7L1567.1 318.6L1568.6 316.5L1570.0 314.5L1571.6 312.5L1573.1 310.5L1574.7 308.6L1576.2 306.6L1577.9 304.7L1579.5 302.8L1581.1 300.9L1582.8 299.1L1584.5 297.2L1586.2 295.4L1587.9 293.6L1589.6 291.8L1591.3 290.0L1593.0 288.3L1594.7 286.5L1596.4 284.8L1598.2 283.0L1599.9 281.3L1601.6 279.6L1603.3 277.9L1605.1 276.2L1606.8 274.5L1608.5 272.8L1610.2 271.2L1612.0 269.5L1613.7 267.9L1615.4 266.2L1617.2 264.6L1619.0 263.0L1620.7 261.4L1622.5 259.8L1624.3 258.2L1626.1 256.7L1627.9 255.1L1629.7 253.6L1631.5 252.1L1633.3 250.6L1635.2 249.1L1637.0 247.7L1638.9 246.2L1640.8 244.8L1642.7 243.4L1644.6 242.1L1646.6 240.7L1648.5 239.4L1650.5 238.1L1652.4 236.8L1654.4 235.6L1656.4 234.3L1658.4 233.1L1660.4 231.9L1662.4 230.7L1664.4 229.6L1666.5 228.4L1668.5 227.3L1670.5 226.2L1672.6 225.1L1674.6 224.0L1676.7 223.0L1678.8 221.9L1680.8 220.9L1682.9 219.9L1685.0 218.9L1687.0 217.9L1689.1 216.9L1691.2 216.0L1693.3 215.0L1695.4 214.1L1697.5 213.2L1699.5 212.2L1701.6 211.3L1703.7 210.5L1705.8 209.6L1707.9 208.7L1710.1 207.9L1712.2 207.1L1714.3 206.3L1716.4 205.5L1718.5 204.7L1720.7 203.9L1722.8 203.2L1724.9 202.5L1727.1 201.7L1729.2 201.1L1731.4 200.4L1733.5 199.7L1735.7 199.1L1737.9 198.5L1740.0 197.9L1742.2 197.3L1744.4 196.8L1746.6 196.3L1748.8 195.8L1751.0 195.3L1753.2 194.8L1755.4 194.4L1757.6 193.9L1759.7 193.5L1762.0 193.1L1764.2 192.8L1766.4 192.4L1768.6 192.1L1770.8 191.7L1773.0 191.4L1775.2 191.1L1777.4 190.8L1779.6 190.6L1781.8 190.3L1784.0 190.1L1786.2 189.8L1788.4 189.6L1790.6 189.4L1792.8 189.2L1795.0 189.1L1797.3 188.9L1799.5 188.7L1801.7 188.6L1803.9 188.5L1806.1 188.3L1808.3 188.2L1810.5 188.1L1812.7 188.1L1814.9 188.0L1817.1 187.9L1819.3 187.9L1821.5 187.9L1823.8 187.9Z" stroke="#000000" stroke-width="3.45" stroke-dasharray="5.7 10.35" stroke-linecap="round" stroke-linejoin="round"/>
<path d="M1823.8 184.9L1826.0 185.0L1828.2 185.0L1830.5 185.1L1832.7 185.1L1834.9 185.2L1837.2 185.3L1839.4 185.4L1841.6 185.5L1843.8 185.6L1846.1 185.8L1848.3 185.9L1850.5 186.1L1852.8 186.2L1855.0 186.4L1857.2 186.6L1859.5 186.8L1861.7 187.0L1863.9 187.2L1866.2 187.5L1868.4 187.7L1870.6 188.0L1872.9 188.2L1875.1 188.5L1877.4 188.8L1879.6 189.1L1881.8 189.4L1884.1 189.7L1886.3 190.0L1888.6 190.4L1890.8 190.7L1893.1 191.1L1895.3 191.4L1897.6 191.8L1899.8 192.2L1902.1 192.6L1904.3 193.0L1906.6 193.4L1908.8 193.9L1911.1 194.3L1913.4 194.7L1915.6 195.2L1917.9 195.7L1920.2 196.2L1922.5 196.7L1924.8 197.2L1927.0 197.7L1929.3 198.2L1931.6 198.8L1933.9 199.3L1936.2 199.9L1938.4 200.5L1940.7 201.2L1943.0 201.8L1945.3 202.5L1947.6 203.1L1949.8 203.9L1952.1 204.6L1954.4 205.3L1956.7 206.1L1958.9 206.9L1961.2 207.7L1963.4 208.5L1965.7 209.4L1967.9 210.3L1970.2 211.2L1972.4 212.1L1974.6 213.1L1976.8 214.1L1979.0 215.1L1981.2 216.1L1983.4 217.2L1985.6 218.2L1987.8 219.3L1990.0 220.4L1992.1 221.6L1994.3 222.7L1996.4 223.9L1998.6 225.1L2000.7 226.3L2002.9 227.5L2005.0 228.8L2007.1 230.1L2009.2 231.4L2011.3 232.7L2013.4 234.0L2015.5 235.4L2017.6 236.7L2019.7 238.1L2021.7 239.5L2023.8 241.0L2025.9 242.4L2027.9 243.9L2029.9 245.3L2032.0 246.8L2034.0 248.4L2036.0 249.9L2038.0 251.5L2040.0 253.0L2042.0 254.6L2043.9 256.3L2045.9 257.9L2047.8 259.6L2049.7 261.2L2051.7 262.9L2053.6 264.7L2055.4 266.4L2057.3 268.2L2059.2 270.0L2061.0 271.8L2062.8 273.6L2064.7 275.4L2066.4 277.3L2068.2 279.2L2070.0 281.1L2071.7 283.0L2073.5 285.0L2075.2 286.9L2076.9 288.9L2078.5 290.9L2080.2 293.0L2081.8 295.0L2083.4 297.1L2085.0 299.1L2086.6 301.2L2088.2 303.3L2089.7 305.5L2091.3 307.6L2092.8 309.8L2094.2 312.0L2095.7 314.2L2097.2 316.4L2098.6 318.6L2100.0 320.9L2101.4 323.1L2102.8 325.4L2104.1 327.7L2105.4 330.0L2106.8 332.4L2108.0 334.7L2109.3 337.1L2110.5 339.4L2111.8 341.8L2113.0 344.2L2114.1 346.7L2115.3 349.1L2116.4 351.5L2117.5 354.0L2118.6 356.5L2119.6 359.0L2120.6 361.5L2121.6 364.0L2122.6 366.5L2123.5 369.0L2124.4 371.6L2125.3 374.2L2126.1 376.7L2126.9 379.3L2127.7 381.9L2128.5 384.5L2129.2 387.1L2129.9 389.8L2130.6 392.4L2131.2 395.1L2131.8 397.7L2132.4 400.4L2132.9 403.0L2133.4 405.7L2133.9 408.4L2134.3 411.1L2134.8 413.8L2135.1 416.5L2135.5 419.2L2135.8 421.9L2136.1 424.6L2136.4 427.4L2136.6 430.1L2136.8 432.8L2137.0 435.5L2137.1 438.3L2137.2 441.0L2137.3 443.7L2137.3 446.5L2137.3 449.2L2137.3 451.9L2137.3 454.7L2137.2 457.4L2137.1 460.2L2136.9 462.9L2136.7 465.6L2136.5 468.4L2136.3 471.1L2136.0 473.8L2135.7 476.5L2135.4 479.3L2135.1 482.0L2134.7 484.7L2134.3 487.4L2133.8 490.1L2133.3 492.8L2132.8 495.5L2132.3 498.2L2131.7 500.9L2131.1 503.5L2130.5 506.2L2129.8 508.8L2129.1 511.5L2128.4 514.1L2127.6 516.8L2126.8 519.4L2126.0 522.0L2125.2 524.6L2124.3 527.2L2123.4 529.8L2122.5 532.3L2121.6 534.9L2120.6 537.5L2119.6 540.0L2118.6 542.5L2117.5 545.0L2116.4 547.5L2115.4 550.0L2114.2 552.5L2113.1 555.0L2111.9 557.4L2110.7 559.9L2109.5 562.3L2108.3 564.7L2107.0 567.1L2105.7 569.5L2104.4 571.9L2103.1 574.3L2101.8 576.6L2100.4 578.9L2099.0 581.3L2097.6 583.6L2096.2 585.9L2094.8 588.1L2093.3 590.4L2091.8 592.7L2090.3 594.9L2088.7 597.1L2087.2 599.3L2085.6 601.5L2084.0 603.6L2082.4 605.8L2080.8 607.9L2079.1 610.0L2077.4 612.1L2075.7 614.2L2074.0 616.2L2072.2 618.2L2070.4 620.2L2068.6 622.2L2066.8 624.2L2065.0 626.1L2063.1 628.0L2061.2 629.9L2059.3 631.8L2057.4 633.6L2055.5 635.5L2053.5 637.3L2051.6 639.0L2049.6 640.8L2047.6 642.5L2045.6 644.2L2043.5 645.9L2041.5 647.6L2039.4 649.2L2037.3 650.9L2035.2 652.5L2033.1 654.1L2031.0 655.6L2028.9 657.1L2026.7 658.7L2024.6 660.2L2022.4 661.6L2020.2 663.1L2018.0 664.5L2015.8 665.9L2013.6 667.3L2011.4 668.7L2009.2 670.0L2007.0 671.3L2004.7 672.6L2002.5 673.9L2000.2 675.2L1998.0 676.4L1995.7 677.7L1993.4 678.9L1991.1 680.0L1988.8 681.2L1986.6 682.4L1984.3 683.5L1982.0 684.6L1979.6 685.7L1977.3 686.8L1975.0 687.8L1972.7 688.9L1970.4 689.9L1968.0 690.9L1965.7 691.9L1963.4 692.9L1961.0 693.8L1958.7 694.8L1956.3 695.7L1954.0 696.6L1951.6 697.5L1949.3 698.4L1946.9 699.2L1944.6 700.1L1942.2 700.9L1939.8 701.7L1937.4 702.5L1935.1 703.3L1932.7 704.0L1930.3 704.7L1927.9 705.4L1925.5 706.1L1923.1 706.8L1920.7 707.4L1918.3 708.1L1915.9 708.7L1913.5 709.3L1911.1 709.8L1908.7 710.4L1906.3 710.9L1903.9 711.4L1901.4 711.9L1899.0 712.4L1896.6 712.8L1894.2 713.2L1891.7 713.7L1889.3 714.0L1886.9 714.4L1884.4 714.8L1882.0 715.1L1879.6 715.4L1877.1 715.7L1874.7 716.0L1872.3 716.2L1869.8 716.5L1867.4 716.7L1865.0 716.9L1862.5 717.1L1860.1 717.2L1857.7 717.4L1855.3 717.5L1852.8 717.6L1850.4 717.7L1848.0 717.8L1845.5 717.9L1843.1 717.9L1840.7 718.0L1838.3 718.0L1835.8 718.0L1833.4 718.0L1831.0 718.0L1828.6 717.9L1826.2 717.9L1823.8 717.8L1821.3 717.7L1818.9 717.6L1816.5 717.5L1814.1 717.4L1811.7 717.2L1809.3 717.0L1806.9 716.9L1804.5 716.7L1802.1 716.5L1799.7 716.2L1797.3 716.0L1794.9 715.7L1792.5 715.5L1790.1 715.2L1787.7 714.9L1785.3 714.6L1782.9 714.3L1780.5 713.9L1778.1 713.6L1775.8 713.2L1773.4 712.8L1771.0 712.4L1768.6 712.0L1766.2 711.5L1763.9 711.1L1761.5 710.6L1759.1 710.1L1756.8 709.6L1754.4 709.1L1752.1 708.5L1749.7 708.0L1747.4 707.4L1745.0 706.8L1742.7 706.2L1740.3 705.6L1738.0 704.9L1735.7 704.2L1733.3 703.6L1731.0 702.9L1728.7 702.1L1726.4 701.4L1724.1 700.6L1721.8 699.8L1719.5 699.0L1717.2 698.2L1714.9 697.4L1712.6 696.5L1710.4 695.7L1708.1 694.8L1705.8 693.8L1703.6 692.9L1701.3 692.0L1699.1 691.0L1696.9 690.0L1694.7 689.0L1692.4 688.0L1690.2 686.9L1688.0 685.9L1685.8 684.8L1683.6 683.7L1681.5 682.6L1679.3 681.4L1677.1 680.3L1675.0 679.1L1672.8 677.9L1670.7 676.7L1668.6 675.4L1666.5 674.2L1664.3 672.9L1662.2 671.7L1660.1 670.4L1658.0 669.1L1656.0 667.7L1653.9 666.4L1651.8 665.1L1649.8 663.7L1647.7 662.3L1645.7 660.9L1643.6 659.5L1641.6 658.1L1639.6 656.6L1637.5 655.2L1635.5 653.7L1633.5 652.3L1631.5 650.8L1629.5 649.3L1627.5 647.8L1625.6 646.2L1623.6 644.7L1621.6 643.1L1619.6 641.6L1617.7 640.0L1615.7 638.4L1613.8 636.8L1611.9 635.2L1609.9 633.5L1608.0 631.9L1606.1 630.2L1604.2 628.5L1602.3 626.8L1600.5 625.1L1598.6 623.3L1596.8 621.6L1594.9 619.8L1593.1 618.0L1591.3 616.2L1589.5 614.4L1587.7 612.5L1585.9 610.7L1584.1 608.8L1582.4 606.9L1580.6 605.0L1578.9 603.1L1577.2 601.1L1575.5 599.1L1573.8 597.2L1572.2 595.2L1570.5 593.2L1568.9 591.1L1567.3 589.1L1565.7 587.0L1564.1 584.9L1562.6 582.8L1561.0 580.7L1559.5 578.6L1558.0 576.4L1556.5 574.2L1555.1 572.0L1553.7 569.8L1552.2 567.6L1550.8 565.4L1549.5 563.1L1548.1 560.8L1546.8 558.6L1545.5 556.3L1544.2 553.9L1543.0 551.6L1541.7 549.3L1540.5 546.9L1539.3 544.5L1538.2 542.1L1537.0 539.7L1535.9 537.3L1534.8 534.9L1533.7 532.4L1532.7 530.0L1531.7 527.5L1530.7 525.0L1529.7 522.6L1528.7 520.1L1527.8 517.5L1526.9 515.0L1526.0 512.5L1525.1 509.9L1524.3 507.4L1523.4 504.8L1522.6 502.3L1521.9 499.7L1521.1 497.1L1520.4 494.5L1519.7 491.9L1519.0 489.3L1518.4 486.6L1517.7 484.0L1517.2 481.4L1516.6 478.7L1516.1 476.1L1515.6 473.4L1515.1 470.7L1514.7 468.0L1514.3 465.4L1514.0 462.7L1513.7 460.0L1513.4 457.3L1513.1 454.6L1512.9 451.9L1512.8 449.1L1512.7 446.4L1512.6 443.7L1512.5 441.0L1512.5 438.3L1512.6 435.6L1512.7 432.9L1512.8 430.1L1512.9 427.4L1513.1 424.7L1513.3 422.0L1513.5 419.3L1513.8 416.6L1514.1 413.9L1514.4 411.2L1514.8 408.5L1515.1 405.8L1515.5 403.2L1515.9 400.5L1516.3 397.8L1516.8 395.1L1517.2 392.5L1517.7 389.8L1518.2 387.1L1518.7 384.5L1519.2 381.8L1519.7 379.1L1520.2 376.5L1520.7 373.8L1521.3 371.2L1521.8 368.5L1522.4 365.9L1523.0 363.2L1523.6 360.6L1524.2 357.9L1524.9 355.3L1525.6 352.7L1526.3 350.1L1527.0 347.5L1527.8 344.9L1528.7 342.3L1529.5 339.7L1530.4 337.1L1531.4 334.6L1532.3 332.0L1533.4 329.5L1534.4 327.0L1535.6 324.6L1536.7 322.1L1538.0 319.7L1539.3 317.3L1540.6 314.9L1542.0 312.6L1543.4 310.3L1544.9 308.0L1546.4 305.7L1548.0 303.5L1549.6 301.3L1551.2 299.1L1552.9 297.0L1554.6 294.9L1556.3 292.8L1558.1 290.7L1559.9 288.7L1561.7 286.6L1563.5 284.6L1565.4 282.7L1567.2 280.7L1569.1 278.8L1571.0 276.9L1572.9 275.0L1574.9 273.1L1576.8 271.3L1578.7 269.4L1580.7 267.6L1582.6 265.8L1584.6 264.0L1586.5 262.2L1588.5 260.5L1590.4 258.7L1592.4 257.0L1594.4 255.3L1596.4 253.6L1598.4 251.9L1600.4 250.2L1602.4 248.6L1604.5 247.0L1606.5 245.4L1608.5 243.8L1610.6 242.2L1612.7 240.7L1614.8 239.2L1616.9 237.7L1619.0 236.2L1621.1 234.8L1623.2 233.4L1625.4 232.0L1627.6 230.6L1629.7 229.3L1631.9 228.0L1634.1 226.7L1636.3 225.4L1638.6 224.2L1640.8 223.0L1643.1 221.8L1645.3 220.6L1647.6 219.5L1649.8 218.4L1652.1 217.3L1654.4 216.3L1656.7 215.2L1659.0 214.2L1661.3 213.3L1663.6 212.3L1665.9 211.4L1668.2 210.4L1670.5 209.5L1672.9 208.7L1675.2 207.8L1677.5 207.0L1679.8 206.2L1682.2 205.4L1684.5 204.6L1686.8 203.8L1689.1 203.1L1691.5 202.3L1693.8 201.6L1696.1 200.9L1698.4 200.3L1700.8 199.6L1703.1 199.0L1705.4 198.4L1707.7 197.7L1710.0 197.2L1712.4 196.6L1714.7 196.0L1717.0 195.5L1719.3 195.0L1721.6 194.5L1723.9 194.0L1726.3 193.5L1728.6 193.0L1730.9 192.6L1733.2 192.2L1735.5 191.8L1737.8 191.4L1740.1 191.0L1742.4 190.6L1744.7 190.2L1747.0 189.9L1749.3 189.6L1751.6 189.3L1753.9 189.0L1756.1 188.7L1758.4 188.4L1760.7 188.1L1763.0 187.9L1765.3 187.7L1767.5 187.4L1769.8 187.2L1772.1 187.0L1774.3 186.8L1776.6 186.6L1778.9 186.5L1781.1 186.3L1783.4 186.1L1785.6 186.0L1787.9 185.9L1790.1 185.7L1792.4 185.6L1794.6 185.5L1796.9 185.4L1799.1 185.3L1801.4 185.2L1803.6 185.1L1805.9 185.1L1808.1 185.0L1810.3 185.0L1812.6 184.9L1814.8 184.9L1817.0 184.9L1819.3 184.9L1821.5 184.9L1823.8 184.9Z" stroke="#ff0000" stroke-width="3.45" stroke-dasharray="5.7 10.35" stroke-linecap="round" stroke-linejoin="round"/>
<path d="M1823.8 180.6L1826.0 180.8L1828.3 181.1L1830.6 181.3L1832.8 181.5L1835.1 181.7L1837.3 181.9L1839.6 182.2L1841.8 182.4L1844.1 182.7L1846.3 182.9L1848.6 183.2L1850.8 183.5L1853.1 183.8L1855.3 184.1L1857.5 184.4L1859.8 184.8L1862.0 185.1L1864.2 185.4L1866.5 185.8L1868.7 186.2L1870.9 186.6L1873.1 187.0L1875.4 187.4L1877.6 187.8L1879.8 188.2L1882.0 188.7L1884.2 189.1L1886.4 189.5L1888.7 190.0L1890.9 190.5L1893.1 190.9L1895.3 191.4L1897.5 191.9L1899.8 192.4L1902.0 192.9L1904.2 193.4L1906.4 193.9L1908.7 194.4L1910.9 194.9L1913.1 195.4L1915.4 195.9L1917.6 196.5L1919.9 197.0L1922.1 197.6L1924.4 198.1L1926.6 198.7L1928.9 199.3L1931.1 199.8L1933.4 200.4L1935.6 201.1L1937.9 201.7L1940.2 202.3L1942.4 203.0L1944.7 203.6L1947.0 204.3L1949.2 205.0L1951.5 205.7L1953.8 206.4L1956.1 207.1L1958.4 207.9L1960.6 208.6L1962.9 209.4L1965.2 210.2L1967.5 211.0L1969.8 211.8L1972.1 212.6L1974.4 213.4L1976.7 214.3L1979.0 215.2L1981.3 216.0L1983.6 216.9L1985.9 217.8L1988.2 218.8L1990.5 219.7L1992.8 220.7L1995.1 221.6L1997.5 222.6L1999.8 223.6L2002.1 224.7L2004.4 225.7L2006.7 226.8L2009.0 227.9L2011.3 229.0L2013.6 230.1L2015.9 231.3L2018.2 232.5L2020.5 233.7L2022.8 234.9L2025.0 236.2L2027.3 237.4L2029.6 238.8L2031.8 240.1L2034.0 241.5L2036.3 242.8L2038.5 244.2L2040.7 245.7L2042.9 247.1L2045.0 248.6L2047.2 250.1L2049.4 251.7L2051.5 253.2L2053.7 254.8L2055.8 256.4L2057.9 258.1L2060.0 259.7L2062.1 261.4L2064.2 263.1L2066.2 264.8L2068.3 266.6L2070.3 268.4L2072.3 270.2L2074.3 272.0L2076.3 273.9L2078.2 275.7L2080.2 277.6L2082.1 279.6L2084.0 281.5L2085.9 283.5L2087.7 285.5L2089.5 287.6L2091.3 289.6L2093.1 291.7L2094.8 293.8L2096.6 295.9L2098.2 298.1L2099.9 300.3L2101.5 302.5L2103.1 304.7L2104.7 307.0L2106.2 309.3L2107.7 311.6L2109.2 313.9L2110.7 316.2L2112.1 318.6L2113.5 321.0L2114.9 323.4L2116.3 325.8L2117.6 328.2L2118.9 330.6L2120.2 333.1L2121.5 335.6L2122.7 338.1L2124.0 340.5L2125.2 343.1L2126.4 345.6L2127.6 348.1L2128.7 350.7L2129.9 353.2L2131.0 355.8L2132.1 358.4L2133.2 361.0L2134.2 363.6L2135.3 366.2L2136.3 368.8L2137.3 371.5L2138.3 374.1L2139.2 376.8L2140.2 379.5L2141.1 382.2L2142.0 384.9L2142.8 387.6L2143.7 390.3L2144.5 393.1L2145.3 395.8L2146.1 398.6L2146.8 401.3L2147.5 404.1L2148.2 406.9L2148.8 409.7L2149.4 412.5L2150.0 415.3L2150.5 418.1L2151.0 421.0L2151.5 423.8L2151.9 426.7L2152.2 429.5L2152.5 432.4L2152.8 435.3L2153.0 438.1L2153.2 441.0L2153.3 443.9L2153.3 446.8L2153.3 449.6L2153.3 452.5L2153.2 455.4L2153.1 458.3L2152.9 461.1L2152.7 464.0L2152.5 466.9L2152.2 469.7L2151.9 472.6L2151.5 475.5L2151.1 478.3L2150.7 481.1L2150.3 484.0L2149.8 486.8L2149.3 489.6L2148.7 492.5L2148.2 495.3L2147.6 498.1L2147.0 500.9L2146.3 503.7L2145.7 506.5L2145.0 509.3L2144.3 512.1L2143.5 514.8L2142.7 517.6L2141.9 520.3L2141.1 523.1L2140.2 525.8L2139.3 528.5L2138.4 531.2L2137.4 533.9L2136.5 536.6L2135.4 539.3L2134.4 541.9L2133.3 544.6L2132.2 547.2L2131.0 549.8L2129.9 552.4L2128.6 555.0L2127.4 557.6L2126.1 560.1L2124.8 562.6L2123.5 565.2L2122.1 567.7L2120.7 570.1L2119.3 572.6L2117.9 575.0L2116.4 577.5L2114.9 579.9L2113.3 582.2L2111.7 584.6L2110.1 586.9L2108.5 589.2L2106.8 591.5L2105.2 593.8L2103.4 596.0L2101.7 598.3L2099.9 600.5L2098.1 602.6L2096.3 604.8L2094.5 606.9L2092.6 609.0L2090.7 611.0L2088.7 613.1L2086.8 615.1L2084.8 617.1L2082.8 619.1L2080.8 621.0L2078.7 622.9L2076.7 624.8L2074.6 626.6L2072.5 628.4L2070.3 630.2L2068.2 632.0L2066.0 633.7L2063.9 635.4L2061.7 637.1L2059.5 638.8L2057.3 640.4L2055.1 642.1L2052.8 643.7L2050.6 645.3L2048.4 646.8L2046.1 648.4L2043.9 649.9L2041.7 651.4L2039.4 653.0L2037.2 654.5L2035.0 656.0L2032.8 657.4L2030.5 658.9L2028.3 660.4L2026.1 661.8L2023.8 663.2L2021.6 664.6L2019.3 666.0L2017.1 667.4L2014.8 668.7L2012.6 670.0L2010.3 671.3L2008.0 672.6L2005.7 673.8L2003.3 675.1L2001.0 676.2L1998.7 677.4L1996.3 678.5L1993.9 679.6L1991.5 680.6L1989.1 681.6L1986.7 682.6L1984.3 683.5L1981.8 684.5L1979.4 685.3L1977.0 686.2L1974.5 687.0L1972.1 687.9L1969.6 688.7L1967.2 689.4L1964.7 690.2L1962.3 691.0L1959.9 691.7L1957.4 692.4L1955.0 693.1L1952.6 693.9L1950.2 694.6L1947.8 695.3L1945.4 696.0L1943.0 696.6L1940.6 697.3L1938.2 698.0L1935.8 698.6L1933.4 699.3L1931.0 699.9L1928.6 700.5L1926.2 701.0L1923.8 701.6L1921.4 702.1L1919.0 702.6L1916.6 703.1L1914.1 703.5L1911.7 703.9L1909.3 704.3L1906.9 704.7L1904.5 705.0L1902.0 705.3L1899.6 705.5L1897.2 705.7L1894.7 705.9L1892.3 706.1L1889.9 706.3L1887.5 706.4L1885.0 706.5L1882.6 706.5L1880.2 706.6L1877.8 706.6L1875.4 706.7L1873.0 706.7L1870.6 706.7L1868.2 706.6L1865.8 706.6L1863.4 706.6L1861.1 706.5L1858.7 706.4L1856.3 706.4L1854.0 706.3L1851.6 706.2L1849.3 706.0L1846.9 705.9L1844.6 705.8L1842.3 705.6L1839.9 705.4L1837.6 705.2L1835.3 705.0L1833.0 704.8L1830.6 704.5L1828.3 704.2L1826.0 703.9L1823.8 703.6L1821.5 703.2L1819.2 702.8L1816.9 702.4L1814.6 702.0L1812.4 701.6L1810.1 701.1L1807.9 700.6L1805.6 700.1L1803.4 699.6L1801.2 699.1L1799.0 698.5L1796.7 698.0L1794.5 697.4L1792.3 696.8L1790.1 696.2L1788.0 695.6L1785.8 695.0L1783.6 694.4L1781.5 693.7L1779.3 693.1L1777.1 692.4L1775.0 691.8L1772.9 691.1L1770.7 690.4L1768.6 689.7L1766.5 689.0L1764.4 688.3L1762.3 687.6L1760.1 686.9L1758.0 686.2L1756.0 685.5L1753.9 684.7L1751.8 684.0L1749.7 683.2L1747.6 682.5L1745.5 681.7L1743.5 681.0L1741.4 680.2L1739.3 679.4L1737.3 678.6L1735.2 677.8L1733.2 677.0L1731.1 676.2L1729.1 675.3L1727.0 674.5L1725.0 673.7L1723.0 672.8L1720.9 671.9L1718.9 671.0L1716.9 670.1L1714.9 669.2L1712.9 668.3L1710.9 667.4L1708.9 666.4L1706.9 665.5L1704.9 664.5L1702.9 663.5L1700.9 662.5L1699.0 661.5L1697.0 660.5L1695.0 659.5L1693.1 658.5L1691.1 657.4L1689.2 656.4L1687.2 655.4L1685.2 654.3L1683.3 653.2L1681.3 652.2L1679.3 651.1L1677.4 650.1L1675.4 649.0L1673.4 647.9L1671.4 646.9L1669.4 645.8L1667.4 644.7L1665.4 643.7L1663.4 642.6L1661.4 641.5L1659.4 640.4L1657.3 639.3L1655.3 638.2L1653.3 637.1L1651.2 636.0L1649.2 634.9L1647.2 633.7L1645.1 632.6L1643.1 631.4L1641.0 630.2L1639.0 629.0L1636.9 627.8L1634.9 626.6L1632.8 625.4L1630.8 624.1L1628.7 622.9L1626.7 621.6L1624.6 620.3L1622.6 619.0L1620.6 617.6L1618.6 616.2L1616.5 614.9L1614.5 613.5L1612.5 612.0L1610.5 610.6L1608.6 609.1L1606.6 607.6L1604.6 606.1L1602.7 604.6L1600.7 603.0L1598.8 601.4L1596.9 599.8L1595.0 598.2L1593.1 596.6L1591.2 594.9L1589.4 593.2L1587.5 591.5L1585.7 589.8L1583.9 588.0L1582.0 586.2L1580.2 584.5L1578.4 582.6L1576.6 580.8L1574.8 579.0L1573.0 577.1L1571.3 575.2L1569.5 573.4L1567.7 571.5L1566.0 569.5L1564.2 567.6L1562.5 565.6L1560.7 563.7L1559.0 561.7L1557.2 559.7L1555.5 557.6L1553.8 555.6L1552.2 553.5L1550.5 551.4L1548.9 549.3L1547.2 547.1L1545.7 545.0L1544.1 542.8L1542.5 540.6L1541.0 538.3L1539.6 536.1L1538.1 533.8L1536.7 531.5L1535.3 529.2L1534.0 526.8L1532.7 524.5L1531.4 522.1L1530.2 519.7L1529.0 517.2L1527.8 514.8L1526.6 512.3L1525.5 509.9L1524.4 507.4L1523.3 504.9L1522.3 502.3L1521.2 499.8L1520.2 497.3L1519.2 494.7L1518.2 492.1L1517.3 489.5L1516.3 486.9L1515.4 484.3L1514.4 481.7L1513.5 479.1L1512.6 476.4L1511.8 473.8L1510.9 471.1L1510.1 468.4L1509.3 465.8L1508.5 463.0L1507.7 460.3L1507.0 457.6L1506.3 454.9L1505.6 452.1L1505.0 449.3L1504.4 446.6L1503.8 443.8L1503.3 441.0L1502.8 438.2L1502.4 435.4L1501.9 432.6L1501.6 429.7L1501.2 426.9L1500.9 424.1L1500.7 421.2L1500.4 418.4L1500.2 415.5L1500.1 412.7L1499.9 409.8L1499.8 407.0L1499.8 404.1L1499.7 401.2L1499.7 398.3L1499.7 395.5L1499.8 392.6L1499.8 389.7L1499.9 386.8L1500.0 383.9L1500.2 381.0L1500.4 378.1L1500.6 375.2L1500.8 372.4L1501.1 369.5L1501.4 366.6L1501.7 363.7L1502.1 360.8L1502.4 357.9L1502.9 355.0L1503.4 352.1L1503.9 349.3L1504.4 346.4L1505.0 343.5L1505.6 340.7L1506.3 337.8L1507.0 335.0L1507.7 332.2L1508.5 329.4L1509.4 326.6L1510.2 323.8L1511.2 321.0L1512.2 318.3L1513.2 315.5L1514.2 312.8L1515.4 310.1L1516.5 307.4L1517.7 304.7L1519.0 302.1L1520.3 299.5L1521.6 296.9L1523.1 294.3L1524.5 291.8L1526.0 289.3L1527.6 286.8L1529.2 284.4L1530.9 282.0L1532.6 279.6L1534.3 277.2L1536.1 274.9L1538.0 272.7L1539.8 270.4L1541.8 268.2L1543.7 266.0L1545.7 263.9L1547.8 261.8L1549.8 259.7L1551.9 257.7L1554.1 255.6L1556.2 253.7L1558.4 251.7L1560.6 249.8L1562.9 248.0L1565.2 246.1L1567.4 244.3L1569.8 242.6L1572.1 240.8L1574.4 239.1L1576.8 237.4L1579.2 235.8L1581.6 234.2L1584.0 232.6L1586.4 231.0L1588.9 229.5L1591.3 228.0L1593.8 226.5L1596.2 225.1L1598.7 223.7L1601.2 222.3L1603.6 220.9L1606.1 219.5L1608.6 218.2L1611.1 216.9L1613.5 215.6L1616.0 214.3L1618.5 213.1L1621.0 211.8L1623.5 210.6L1626.0 209.4L1628.5 208.3L1631.0 207.1L1633.5 206.0L1636.0 204.9L1638.5 203.9L1641.0 202.8L1643.5 201.8L1646.0 200.8L1648.5 199.8L1651.0 198.8L1653.5 197.9L1656.1 197.0L1658.6 196.1L1661.1 195.3L1663.6 194.4L1666.1 193.6L1668.7 192.8L1671.2 192.0L1673.7 191.3L1676.2 190.6L1678.8 189.9L1681.3 189.2L1683.8 188.5L1686.3 187.9L1688.8 187.2L1691.3 186.6L1693.8 186.0L1696.3 185.5L1698.8 184.9L1701.3 184.4L1703.8 183.9L1706.3 183.4L1708.8 182.9L1711.3 182.4L1713.8 182.0L1716.3 181.6L1718.8 181.2L1721.2 180.8L1723.7 180.4L1726.2 180.1L1728.7 179.8L1731.1 179.5L1733.6 179.2L1736.1 179.0L1738.5 178.7L1741.0 178.5L1743.5 178.4L1745.9 178.2L1748.4 178.1L1750.8 178.0L1753.2 177.9L1755.7 177.8L1758.1 177.7L1760.5 177.7L1763.0 177.7L1765.4 177.7L1767.8 177.7L1770.2 177.7L1772.6 177.7L1775.0 177.8L1777.4 177.9L1779.7 177.9L1782.1 178.0L1784.5 178.1L1786.8 178.2L1789.2 178.3L1791.5 178.4L1793.8 178.5L1796.2 178.6L1798.5 178.8L1800.8 178.9L1803.1 179.0L1805.4 179.2L1807.7 179.3L1810.0 179.5L1812.3 179.7L1814.6 179.8L1816.9 180.0L1819.2 180.2L1821.5 180.4L1823.8 180.6Z" stroke="#00ff00" stroke-width="3.45" stroke-dasharray="5.7 10.35" stroke-linecap="round" stroke-linejoin="round"/>
<path d="M1823.8 204.2L1825.8 204.8L1827.9 205.4L1829.9 205.9L1831.9 206.5L1834.0 207.1L1836.0 207.7L1838.0 208.3L1840.0 208.9L1842.0 209.5L1843.9 210.2L1845.9 210.8L1847.9 211.4L1849.8 212.0L1851.8 212.7L1853.7 213.3L1855.7 213.9L1857.6 214.6L1859.5 215.2L1861.4 215.8L1863.3 216.5L1865.2 217.1L1867.1 217.8L1869.0 218.4L1870.9 219.1L1872.8 219.7L1874.7 220.4L1876.6 221.0L1878.4 221.7L1880.3 222.4L1882.1 223.1L1884.0 223.8L1885.8 224.4L1887.7 225.1L1889.5 225.9L1891.4 226.6L1893.2 227.3L1895.0 228.0L1896.8 228.8L1898.6 229.5L1900.4 230.3L1902.2 231.1L1904.0 231.8L1905.8 232.6L1907.6 233.4L1909.4 234.1L1911.2 234.9L1913.0 235.7L1914.8 236.4L1916.6 237.2L1918.4 238.0L1920.2 238.7L1922.0 239.5L1923.8 240.2L1925.7 241.0L1927.5 241.7L1929.3 242.5L1931.1 243.2L1933.0 243.9L1934.8 244.7L1936.7 245.4L1938.5 246.1L1940.4 246.8L1942.3 247.6L1944.2 248.3L1946.1 249.0L1948.0 249.7L1949.9 250.4L1951.8 251.1L1953.8 251.8L1955.7 252.6L1957.7 253.3L1959.6 254.0L1961.6 254.7L1963.6 255.4L1965.6 256.1L1967.6 256.9L1969.6 257.6L1971.7 258.3L1973.7 259.1L1975.8 259.8L1977.8 260.6L1979.9 261.4L1982.0 262.2L1984.1 262.9L1986.2 263.7L1988.3 264.6L1990.4 265.4L1992.5 266.2L1994.7 267.1L1996.8 268.0L1998.9 268.8L2001.1 269.7L2003.2 270.7L2005.4 271.6L2007.6 272.6L2009.7 273.5L2011.9 274.5L2014.1 275.5L2016.3 276.6L2018.5 277.6L2020.7 278.7L2022.8 279.8L2025.0 280.9L2027.2 282.0L2029.4 283.2L2031.6 284.4L2033.8 285.6L2036.0 286.8L2038.2 288.1L2040.3 289.3L2042.5 290.7L2044.7 292.0L2046.8 293.4L2048.9 294.8L2051.1 296.2L2053.1 297.7L2055.2 299.2L2057.3 300.7L2059.3 302.3L2061.3 303.9L2063.2 305.5L2065.1 307.2L2067.0 308.9L2068.9 310.7L2070.7 312.5L2072.4 314.3L2074.1 316.2L2075.8 318.1L2077.4 320.0L2079.0 322.0L2080.6 324.0L2082.1 326.0L2083.6 328.0L2085.0 330.1L2086.5 332.2L2087.9 334.3L2089.3 336.4L2090.7 338.5L2092.1 340.7L2093.5 342.8L2094.8 345.0L2096.2 347.2L2097.6 349.4L2099.0 351.6L2100.3 353.8L2101.7 356.0L2103.1 358.3L2104.5 360.5L2105.9 362.8L2107.2 365.0L2108.6 367.3L2109.9 369.6L2111.3 372.0L2112.6 374.3L2113.9 376.7L2115.2 379.0L2116.5 381.4L2117.7 383.9L2118.9 386.3L2120.1 388.7L2121.3 391.2L2122.4 393.7L2123.5 396.2L2124.6 398.7L2125.6 401.3L2126.6 403.8L2127.5 406.4L2128.4 409.0L2129.3 411.6L2130.2 414.2L2130.9 416.8L2131.7 419.5L2132.4 422.1L2133.1 424.8L2133.7 427.5L2134.3 430.2L2134.8 432.9L2135.3 435.6L2135.8 438.3L2136.2 441.0L2136.5 443.7L2136.8 446.5L2137.1 449.2L2137.3 452.0L2137.5 454.7L2137.6 457.5L2137.7 460.2L2137.8 463.0L2137.8 465.7L2137.8 468.5L2137.8 471.2L2137.7 474.0L2137.6 476.8L2137.4 479.5L2137.2 482.3L2137.0 485.0L2136.8 487.8L2136.5 490.5L2136.3 493.3L2135.9 496.0L2135.6 498.8L2135.2 501.5L2134.8 504.3L2134.4 507.0L2133.9 509.8L2133.4 512.5L2132.9 515.2L2132.4 518.0L2131.8 520.7L2131.2 523.4L2130.6 526.1L2129.9 528.8L2129.2 531.5L2128.5 534.2L2127.8 536.9L2127.0 539.5L2126.2 542.2L2125.3 544.8L2124.5 547.5L2123.6 550.1L2122.6 552.7L2121.7 555.4L2120.6 558.0L2119.6 560.5L2118.5 563.1L2117.4 565.7L2116.3 568.2L2115.1 570.7L2113.9 573.2L2112.6 575.7L2111.3 578.2L2110.0 580.6L2108.6 583.0L2107.2 585.4L2105.7 587.8L2104.2 590.1L2102.7 592.5L2101.1 594.8L2099.5 597.0L2097.9 599.3L2096.2 601.5L2094.5 603.7L2092.8 605.9L2091.0 608.0L2089.2 610.1L2087.4 612.2L2085.5 614.2L2083.6 616.3L2081.7 618.3L2079.7 620.2L2077.8 622.2L2075.8 624.1L2073.7 626.0L2071.7 627.8L2069.6 629.7L2067.5 631.4L2065.4 633.2L2063.3 635.0L2061.1 636.7L2059.0 638.4L2056.8 640.0L2054.6 641.7L2052.4 643.3L2050.2 644.9L2048.0 646.5L2045.8 648.0L2043.5 649.6L2041.3 651.1L2039.1 652.6L2036.8 654.1L2034.6 655.5L2032.3 657.0L2030.1 658.4L2027.8 659.8L2025.6 661.2L2023.3 662.6L2021.0 664.0L2018.8 665.3L2016.5 666.6L2014.2 667.9L2011.9 669.2L2009.6 670.5L2007.3 671.7L2004.9 672.9L2002.6 674.1L2000.2 675.2L1997.9 676.3L1995.5 677.4L1993.2 678.5L1990.8 679.5L1988.4 680.5L1986.0 681.5L1983.6 682.4L1981.1 683.4L1978.7 684.2L1976.3 685.1L1973.9 686.0L1971.4 686.8L1969.0 687.6L1966.5 688.3L1964.1 689.1L1961.7 689.8L1959.2 690.5L1956.8 691.2L1954.3 691.8L1951.9 692.4L1949.4 693.1L1947.0 693.7L1944.5 694.2L1942.1 694.8L1939.7 695.3L1937.2 695.8L1934.8 696.3L1932.3 696.8L1929.9 697.2L1927.4 697.6L1925.0 698.0L1922.6 698.4L1920.1 698.7L1917.7 699.0L1915.2 699.3L1912.8 699.5L1910.3 699.7L1907.9 699.9L1905.4 700.1L1903.0 700.2L1900.5 700.3L1898.1 700.3L1895.7 700.3L1893.2 700.3L1890.8 700.3L1888.4 700.2L1886.0 700.1L1883.5 700.0L1881.1 699.9L1878.7 699.7L1876.3 699.5L1874.0 699.3L1871.6 699.0L1869.2 698.7L1866.8 698.4L1864.5 698.1L1862.1 697.8L1859.8 697.4L1857.5 697.1L1855.1 696.7L1852.8 696.2L1850.5 695.8L1848.2 695.3L1846.0 694.9L1843.7 694.4L1841.4 693.9L1839.2 693.3L1836.9 692.8L1834.7 692.2L1832.5 691.6L1830.3 691.0L1828.1 690.4L1825.9 689.8L1823.8 689.2L1821.6 688.5L1819.4 687.8L1817.3 687.2L1815.2 686.5L1813.1 685.8L1811.0 685.0L1808.9 684.3L1806.8 683.6L1804.7 682.8L1802.7 682.0L1800.6 681.3L1798.6 680.5L1796.6 679.7L1794.5 678.9L1792.5 678.0L1790.6 677.2L1788.6 676.4L1786.6 675.5L1784.7 674.7L1782.7 673.8L1780.8 672.9L1778.8 672.0L1776.9 671.1L1775.0 670.2L1773.1 669.3L1771.3 668.4L1769.4 667.4L1767.5 666.5L1765.7 665.6L1763.8 664.6L1762.0 663.6L1760.2 662.6L1758.4 661.7L1756.6 660.7L1754.8 659.7L1753.0 658.6L1751.3 657.6L1749.5 656.6L1747.8 655.5L1746.1 654.5L1744.3 653.4L1742.6 652.3L1740.9 651.2L1739.3 650.1L1737.6 649.0L1735.9 647.9L1734.3 646.8L1732.6 645.6L1731.0 644.5L1729.4 643.3L1727.8 642.1L1726.2 640.9L1724.7 639.7L1723.1 638.5L1721.6 637.3L1720.0 636.1L1718.5 634.8L1717.0 633.5L1715.5 632.3L1714.0 631.0L1712.6 629.7L1711.1 628.5L1709.7 627.2L1708.2 625.9L1706.8 624.6L1705.4 623.3L1703.9 622.0L1702.5 620.7L1701.1 619.5L1699.7 618.2L1698.3 616.9L1696.9 615.7L1695.4 614.4L1694.0 613.2L1692.6 611.9L1691.2 610.7L1689.8 609.4L1688.3 608.2L1686.9 607.0L1685.5 605.8L1684.1 604.5L1682.7 603.3L1681.3 602.1L1679.9 600.8L1678.4 599.6L1677.0 598.3L1675.6 597.1L1674.3 595.8L1672.9 594.5L1671.5 593.3L1670.1 592.0L1668.8 590.7L1667.4 589.4L1666.1 588.1L1664.7 586.7L1663.4 585.4L1662.0 584.1L1660.7 582.7L1659.4 581.4L1658.1 580.0L1656.7 578.7L1655.4 577.3L1654.1 575.9L1652.8 574.6L1651.5 573.2L1650.1 571.8L1648.8 570.5L1647.5 569.1L1646.1 567.7L1644.8 566.3L1643.5 564.9L1642.1 563.5L1640.8 562.1L1639.4 560.7L1638.1 559.3L1636.7 557.9L1635.4 556.4L1634.0 555.0L1632.7 553.6L1631.3 552.1L1630.0 550.6L1628.7 549.1L1627.4 547.6L1626.0 546.1L1624.7 544.6L1623.5 543.1L1622.2 541.5L1620.9 539.9L1619.7 538.3L1618.4 536.7L1617.2 535.1L1616.0 533.5L1614.8 531.9L1613.6 530.2L1612.4 528.5L1611.3 526.8L1610.1 525.2L1609.0 523.4L1607.8 521.7L1606.7 520.0L1605.6 518.2L1604.5 516.5L1603.4 514.7L1602.4 512.9L1601.3 511.1L1600.2 509.3L1599.2 507.5L1598.2 505.7L1597.1 503.8L1596.1 502.0L1595.1 500.1L1594.1 498.2L1593.2 496.4L1592.2 494.5L1591.2 492.5L1590.3 490.6L1589.4 488.7L1588.5 486.7L1587.6 484.8L1586.7 482.8L1585.8 480.8L1585.0 478.8L1584.2 476.8L1583.3 474.8L1582.5 472.8L1581.8 470.7L1581.0 468.7L1580.2 466.6L1579.5 464.5L1578.8 462.4L1578.1 460.3L1577.4 458.2L1576.7 456.1L1576.0 454.0L1575.4 451.8L1574.8 449.7L1574.2 447.5L1573.6 445.4L1573.0 443.2L1572.4 441.0L1571.9 438.8L1571.3 436.6L1570.8 434.4L1570.3 432.1L1569.8 429.9L1569.3 427.7L1568.9 425.4L1568.4 423.1L1568.0 420.9L1567.6 418.6L1567.2 416.3L1566.8 414.0L1566.4 411.7L1566.0 409.4L1565.7 407.0L1565.3 404.7L1565.0 402.3L1564.7 400.0L1564.4 397.6L1564.1 395.2L1563.9 392.8L1563.6 390.4L1563.4 388.0L1563.2 385.6L1563.0 383.2L1562.8 380.8L1562.7 378.3L1562.5 375.9L1562.4 373.4L1562.4 371.0L1562.3 368.5L1562.3 366.0L1562.3 363.6L1562.4 361.1L1562.4 358.6L1562.6 356.1L1562.7 353.7L1562.9 351.2L1563.1 348.7L1563.4 346.2L1563.7 343.8L1564.0 341.3L1564.4 338.8L1564.7 336.4L1565.2 333.9L1565.6 331.4L1566.1 329.0L1566.6 326.5L1567.1 324.0L1567.6 321.6L1568.2 319.1L1568.8 316.6L1569.4 314.2L1570.0 311.7L1570.6 309.2L1571.3 306.8L1572.0 304.3L1572.7 301.8L1573.4 299.4L1574.2 296.9L1575.0 294.5L1575.8 292.0L1576.7 289.6L1577.6 287.2L1578.5 284.8L1579.5 282.4L1580.5 280.0L1581.6 277.7L1582.7 275.3L1583.9 273.0L1585.1 270.8L1586.3 268.5L1587.7 266.3L1589.0 264.1L1590.5 262.0L1591.9 259.9L1593.5 257.8L1595.0 255.8L1596.6 253.8L1598.3 251.8L1600.0 249.9L1601.7 248.0L1603.5 246.1L1605.3 244.3L1607.1 242.5L1608.9 240.7L1610.8 238.9L1612.7 237.2L1614.6 235.5L1616.6 233.8L1618.5 232.2L1620.5 230.5L1622.5 228.9L1624.5 227.3L1626.5 225.8L1628.6 224.2L1630.6 222.7L1632.7 221.3L1634.8 219.8L1637.0 218.4L1639.1 217.0L1641.3 215.7L1643.5 214.4L1645.7 213.2L1648.0 211.9L1650.3 210.8L1652.6 209.6L1654.9 208.6L1657.2 207.6L1659.6 206.6L1662.0 205.7L1664.4 204.8L1666.9 204.0L1669.3 203.2L1671.8 202.5L1674.3 201.8L1676.8 201.1L1679.3 200.5L1681.8 200.0L1684.3 199.5L1686.8 199.0L1689.3 198.5L1691.9 198.1L1694.4 197.7L1696.9 197.4L1699.5 197.1L1702.0 196.8L1704.5 196.5L1707.0 196.3L1709.5 196.1L1712.0 195.9L1714.5 195.7L1717.0 195.5L1719.5 195.4L1722.0 195.3L1724.4 195.2L1726.9 195.1L1729.3 195.1L1731.8 195.0L1734.2 195.0L1736.6 194.9L1739.0 194.9L1741.4 194.9L1743.8 194.9L1746.2 194.9L1748.5 194.9L1750.9 194.9L1753.2 194.9L1755.5 194.9L1757.8 195.0L1760.1 195.0L1762.4 195.1L1764.7 195.1L1767.0 195.2L1769.3 195.3L1771.5 195.4L1773.8 195.5L1776.1 195.7L1778.3 195.8L1780.6 196.0L1782.8 196.2L1785.0 196.5L1787.2 196.7L1789.5 197.0L1791.7 197.3L1793.9 197.6L1796.1 198.0L1798.2 198.3L1800.4 198.7L1802.6 199.1L1804.8 199.6L1806.9 200.0L1809.0 200.5L1811.2 201.0L1813.3 201.5L1815.4 202.0L1817.5 202.5L1819.6 203.1L1821.7 203.6L1823.8 204.2Z" stroke="#0000ff" stroke-width="3.45" stroke-dasharray="5.7 10.35" stroke-linecap="round" stroke-linejoin="round"/>
<path d="M1823.8 199.7L1825.8 200.7L1827.9 201.7L1830.0 202.7L1832.0 203.7L1834.1 204.8L1836.1 205.8L1838.1 206.9L1840.0 208.0L1842.0 209.1L1843.9 210.3L1845.9 211.4L1847.8 212.6L1849.6 213.9L1851.5 215.1L1853.3 216.4L1855.1 217.7L1856.9 219.1L1858.7 220.4L1860.4 221.9L1862.1 223.3L1863.8 224.8L1865.5 226.3L1867.1 227.8L1868.7 229.3L1870.3 230.9L1871.9 232.4L1873.5 234.0L1875.0 235.5L1876.5 237.1L1878.0 238.6L1879.4 240.2L1880.9 241.7L1882.3 243.2L1883.8 244.7L1885.2 246.2L1886.6 247.6L1888.0 249.1L1889.3 250.5L1890.7 251.9L1892.1 253.3L1893.4 254.6L1894.8 256.0L1896.1 257.3L1897.4 258.6L1898.7 260.0L1900.0 261.3L1901.3 262.6L1902.6 263.9L1903.9 265.2L1905.1 266.4L1906.4 267.7L1907.6 269.0L1908.8 270.3L1910.1 271.6L1911.2 272.9L1912.4 274.2L1913.6 275.5L1914.8 276.8L1915.9 278.1L1917.1 279.4L1918.2 280.6L1919.4 281.9L1920.5 283.1L1921.6 284.4L1922.7 285.6L1923.9 286.8L1925.0 288.0L1926.1 289.2L1927.3 290.3L1928.4 291.5L1929.6 292.6L1930.8 293.7L1931.9 294.8L1933.1 295.8L1934.3 296.9L1935.6 297.9L1936.8 298.9L1938.0 299.9L1939.3 300.9L1940.5 301.8L1941.8 302.7L1943.1 303.7L1944.4 304.6L1945.8 305.5L1947.1 306.4L1948.5 307.3L1949.8 308.1L1951.2 309.0L1952.7 309.8L1954.1 310.7L1955.5 311.5L1957.0 312.3L1958.5 313.2L1959.9 314.0L1961.4 314.8L1963.0 315.7L1964.5 316.5L1966.0 317.3L1967.6 318.2L1969.1 319.0L1970.7 319.9L1972.3 320.7L1973.8 321.6L1975.4 322.5L1977.0 323.4L1978.6 324.3L1980.2 325.3L1981.8 326.2L1983.3 327.2L1984.9 328.1L1986.5 329.1L1988.1 330.1L1989.7 331.2L1991.3 332.2L1992.9 333.2L1994.5 334.3L1996.1 335.4L1997.8 336.4L1999.4 337.5L2001.1 338.6L2002.7 339.7L2004.4 340.9L2006.1 342.0L2007.8 343.1L2009.6 344.3L2011.3 345.4L2013.1 346.6L2014.9 347.8L2016.7 349.0L2018.5 350.2L2020.3 351.4L2022.1 352.7L2024.0 353.9L2025.8 355.2L2027.6 356.5L2029.5 357.9L2031.3 359.2L2033.2 360.6L2035.0 362.0L2036.9 363.4L2038.7 364.9L2040.5 366.4L2042.3 367.9L2044.1 369.4L2045.9 371.0L2047.6 372.6L2049.3 374.2L2051.1 375.8L2052.8 377.5L2054.5 379.2L2056.1 380.9L2057.8 382.6L2059.4 384.4L2061.1 386.2L2062.7 388.0L2064.3 389.9L2065.9 391.7L2067.4 393.6L2069.0 395.5L2070.6 397.5L2072.1 399.4L2073.6 401.4L2075.1 403.4L2076.6 405.5L2078.1 407.5L2079.5 409.6L2081.0 411.7L2082.4 413.8L2083.8 416.0L2085.2 418.1L2086.6 420.3L2087.9 422.5L2089.2 424.8L2090.5 427.0L2091.7 429.3L2093.0 431.6L2094.2 433.9L2095.4 436.3L2096.5 438.6L2097.6 441.0L2098.7 443.4L2099.8 445.8L2100.8 448.3L2101.7 450.7L2102.7 453.2L2103.6 455.7L2104.5 458.2L2105.3 460.7L2106.1 463.2L2106.8 465.8L2107.6 468.3L2108.2 470.9L2108.8 473.5L2109.4 476.1L2110.0 478.7L2110.5 481.3L2110.9 483.9L2111.3 486.5L2111.7 489.2L2112.0 491.8L2112.2 494.5L2112.4 497.1L2112.6 499.8L2112.7 502.4L2112.8 505.1L2112.9 507.7L2112.9 510.4L2112.8 513.1L2112.7 515.7L2112.6 518.4L2112.4 521.1L2112.2 523.7L2111.9 526.4L2111.7 529.0L2111.3 531.7L2111.0 534.3L2110.5 537.0L2110.1 539.6L2109.6 542.2L2109.1 544.9L2108.5 547.5L2107.9 550.1L2107.3 552.7L2106.6 555.3L2105.8 557.8L2105.1 560.4L2104.2 563.0L2103.4 565.5L2102.5 568.0L2101.5 570.5L2100.5 573.0L2099.5 575.5L2098.4 577.9L2097.3 580.4L2096.1 582.8L2094.9 585.2L2093.6 587.5L2092.3 589.9L2091.0 592.2L2089.6 594.5L2088.2 596.8L2086.7 599.0L2085.3 601.3L2083.8 603.5L2082.2 605.7L2080.7 607.8L2079.1 610.0L2077.5 612.1L2075.8 614.2L2074.2 616.3L2072.5 618.4L2070.8 620.5L2069.1 622.5L2067.3 624.6L2065.6 626.6L2063.8 628.6L2062.0 630.5L2060.2 632.5L2058.4 634.4L2056.6 636.3L2054.7 638.2L2052.8 640.1L2050.9 642.0L2049.0 643.8L2047.0 645.6L2045.0 647.4L2043.1 649.1L2041.0 650.8L2039.0 652.5L2037.0 654.2L2034.9 655.9L2032.8 657.5L2030.7 659.1L2028.5 660.6L2026.4 662.1L2024.2 663.6L2022.0 665.1L2019.8 666.5L2017.5 667.9L2015.3 669.2L2013.0 670.5L2010.7 671.8L2008.3 673.1L2006.0 674.2L2003.6 675.4L2001.2 676.5L1998.8 677.6L1996.4 678.6L1993.9 679.6L1991.4 680.5L1989.0 681.4L1986.5 682.2L1983.9 683.0L1981.4 683.8L1978.9 684.5L1976.3 685.2L1973.8 685.8L1971.2 686.5L1968.7 687.0L1966.1 687.6L1963.5 688.1L1961.0 688.6L1958.4 689.0L1955.8 689.4L1953.3 689.8L1950.7 690.2L1948.2 690.5L1945.6 690.8L1943.1 691.1L1940.5 691.4L1938.0 691.6L1935.4 691.8L1932.9 692.0L1930.4 692.2L1927.8 692.3L1925.3 692.4L1922.8 692.5L1920.3 692.5L1917.8 692.5L1915.3 692.5L1912.8 692.4L1910.3 692.3L1907.8 692.2L1905.3 692.0L1902.8 691.9L1900.4 691.6L1897.9 691.4L1895.5 691.1L1893.0 690.7L1890.6 690.4L1888.1 690.0L1885.7 689.5L1883.3 689.1L1880.9 688.6L1878.5 688.1L1876.1 687.5L1873.8 686.9L1871.4 686.3L1869.1 685.7L1866.8 685.0L1864.5 684.3L1862.2 683.6L1859.9 682.9L1857.6 682.1L1855.4 681.3L1853.2 680.5L1850.9 679.6L1848.7 678.7L1846.6 677.8L1844.4 676.9L1842.2 676.0L1840.1 675.0L1838.0 674.1L1835.9 673.1L1833.8 672.0L1831.8 671.0L1829.7 670.0L1827.7 668.9L1825.7 667.8L1823.8 666.7L1821.8 665.6L1819.8 664.5L1817.9 663.4L1816.0 662.3L1814.1 661.1L1812.3 659.9L1810.4 658.8L1808.6 657.6L1806.8 656.3L1805.0 655.1L1803.3 653.9L1801.5 652.6L1799.8 651.4L1798.1 650.1L1796.4 648.8L1794.7 647.5L1793.1 646.2L1791.5 644.9L1789.9 643.5L1788.3 642.2L1786.7 640.8L1785.2 639.4L1783.7 638.0L1782.2 636.6L1780.7 635.2L1779.2 633.8L1777.8 632.4L1776.4 631.0L1775.0 629.5L1773.6 628.1L1772.3 626.6L1770.9 625.2L1769.6 623.7L1768.3 622.2L1767.1 620.8L1765.8 619.3L1764.6 617.8L1763.4 616.4L1762.2 614.9L1761.0 613.4L1759.8 612.0L1758.7 610.5L1757.6 609.0L1756.5 607.5L1755.4 606.1L1754.3 604.6L1753.3 603.1L1752.2 601.7L1751.2 600.2L1750.2 598.7L1749.2 597.3L1748.2 595.8L1747.3 594.3L1746.4 592.9L1745.4 591.4L1744.5 590.0L1743.6 588.5L1742.8 587.1L1741.9 585.6L1741.1 584.2L1740.2 582.8L1739.4 581.3L1738.6 579.9L1737.9 578.5L1737.1 577.0L1736.3 575.6L1735.6 574.2L1734.9 572.8L1734.2 571.3L1733.5 569.9L1732.8 568.5L1732.1 567.1L1731.5 565.7L1730.8 564.3L1730.2 562.9L1729.6 561.5L1729.0 560.1L1728.4 558.7L1727.8 557.4L1727.3 556.0L1726.7 554.6L1726.2 553.3L1725.6 551.9L1725.1 550.6L1724.6 549.2L1724.1 547.9L1723.6 546.6L1723.1 545.3L1722.6 544.0L1722.1 542.7L1721.6 541.4L1721.1 540.1L1720.6 538.9L1720.1 537.6L1719.7 536.4L1719.2 535.1L1718.7 533.9L1718.3 532.7L1717.8 531.5L1717.4 530.3L1716.9 529.1L1716.5 527.9L1716.0 526.7L1715.6 525.5L1715.1 524.4L1714.7 523.2L1714.2 522.0L1713.8 520.9L1713.4 519.7L1712.9 518.6L1712.5 517.5L1712.1 516.3L1711.6 515.2L1711.2 514.1L1710.8 513.0L1710.4 511.9L1709.9 510.8L1709.5 509.7L1709.0 508.6L1708.6 507.5L1708.2 506.4L1707.7 505.3L1707.2 504.3L1706.8 503.2L1706.3 502.1L1705.8 501.1L1705.3 500.0L1704.8 499.0L1704.3 498.0L1703.8 496.9L1703.3 495.9L1702.8 494.9L1702.2 493.8L1701.7 492.8L1701.1 491.8L1700.6 490.8L1700.1 489.7L1699.5 488.7L1699.0 487.7L1698.4 486.6L1697.9 485.6L1697.3 484.5L1696.8 483.5L1696.2 482.4L1695.7 481.4L1695.2 480.3L1694.6 479.2L1694.1 478.2L1693.6 477.1L1693.1 476.0L1692.6 474.9L1692.0 473.8L1691.5 472.7L1691.0 471.7L1690.5 470.5L1689.9 469.4L1689.4 468.3L1688.9 467.2L1688.3 466.1L1687.7 465.0L1687.2 463.9L1686.6 462.7L1686.0 461.6L1685.4 460.4L1684.8 459.3L1684.2 458.1L1683.6 457.0L1683.0 455.8L1682.4 454.6L1681.8 453.4L1681.2 452.2L1680.5 451.0L1679.9 449.8L1679.3 448.6L1678.7 447.3L1678.1 446.1L1677.5 444.8L1676.9 443.6L1676.3 442.3L1675.7 441.0L1675.1 439.7L1674.6 438.4L1674.0 437.1L1673.5 435.8L1672.9 434.4L1672.4 433.1L1671.9 431.7L1671.3 430.3L1670.8 429.0L1670.2 427.6L1669.7 426.2L1669.1 424.7L1668.5 423.3L1667.9 421.9L1667.3 420.4L1666.7 418.9L1666.0 417.4L1665.3 415.9L1664.6 414.4L1663.9 412.8L1663.1 411.2L1662.4 409.6L1661.6 408.0L1660.8 406.4L1660.0 404.7L1659.1 403.0L1658.3 401.3L1657.5 399.5L1656.6 397.8L1655.8 396.0L1655.0 394.2L1654.2 392.4L1653.4 390.5L1652.6 388.7L1651.9 386.8L1651.2 384.9L1650.5 383.0L1649.8 381.1L1649.1 379.2L1648.5 377.2L1647.9 375.3L1647.4 373.3L1646.8 371.3L1646.3 369.3L1645.8 367.3L1645.3 365.3L1644.9 363.2L1644.5 361.2L1644.1 359.1L1643.7 357.1L1643.4 355.0L1643.0 352.9L1642.7 350.8L1642.5 348.6L1642.2 346.5L1642.0 344.3L1641.7 342.2L1641.6 340.0L1641.4 337.8L1641.2 335.6L1641.1 333.4L1641.0 331.2L1641.0 329.0L1640.9 326.8L1640.9 324.5L1640.9 322.3L1641.0 320.0L1641.0 317.7L1641.1 315.5L1641.3 313.2L1641.4 310.9L1641.6 308.7L1641.8 306.4L1642.1 304.1L1642.4 301.8L1642.7 299.6L1643.1 297.3L1643.5 295.0L1643.9 292.7L1644.3 290.4L1644.8 288.2L1645.3 285.9L1645.8 283.6L1646.4 281.3L1647.0 279.1L1647.6 276.8L1648.3 274.5L1649.0 272.2L1649.7 270.0L1650.5 267.7L1651.2 265.4L1652.0 263.2L1652.9 260.9L1653.7 258.7L1654.6 256.4L1655.5 254.2L1656.5 252.0L1657.5 249.7L1658.5 247.5L1659.6 245.4L1660.7 243.2L1661.8 241.0L1663.0 238.9L1664.2 236.8L1665.5 234.7L1666.8 232.7L1668.1 230.7L1669.5 228.7L1670.9 226.7L1672.4 224.8L1673.9 222.9L1675.4 221.1L1677.0 219.3L1678.6 217.5L1680.2 215.7L1681.9 214.1L1683.7 212.4L1685.4 210.8L1687.2 209.2L1689.0 207.7L1690.9 206.2L1692.8 204.7L1694.7 203.3L1696.6 201.9L1698.6 200.6L1700.6 199.3L1702.6 198.1L1704.7 196.9L1706.8 195.8L1708.9 194.6L1711.0 193.6L1713.1 192.6L1715.3 191.6L1717.5 190.7L1719.7 189.8L1721.9 189.0L1724.2 188.2L1726.4 187.4L1728.7 186.8L1731.0 186.1L1733.3 185.5L1735.6 185.0L1737.9 184.5L1740.3 184.1L1742.6 183.7L1745.0 183.3L1747.3 183.0L1749.7 182.8L1752.1 182.6L1754.5 182.5L1756.9 182.4L1759.3 182.3L1761.7 182.4L1764.1 182.4L1766.4 182.5L1768.8 182.7L1771.2 182.9L1773.6 183.2L1776.0 183.5L1778.4 183.9L1780.8 184.3L1783.2 184.7L1785.5 185.3L1787.9 185.8L1790.2 186.4L1792.6 187.1L1794.9 187.8L1797.2 188.5L1799.5 189.3L1801.8 190.1L1804.1 191.0L1806.3 191.9L1808.6 192.8L1810.8 193.7L1813.0 194.7L1815.2 195.7L1817.4 196.6L1819.5 197.7L1821.6 198.7L1823.8 199.7Z" stroke="#00ffff" stroke-width="3.45" stroke-dasharray="5.7 10.35" stroke-linecap="round" stroke-linejoin="round"/>
<path d="M1823.8 214.1L1825.7 215.3L1827.7 216.5L1829.6 217.7L1831.5 218.9L1833.4 220.2L1835.3 221.4L1837.1 222.7L1838.9 224.0L1840.7 225.4L1842.5 226.7L1844.3 228.0L1846.0 229.4L1847.7 230.8L1849.4 232.2L1851.1 233.6L1852.7 235.0L1854.3 236.4L1855.9 237.8L1857.5 239.2L1859.1 240.6L1860.6 242.0L1862.1 243.5L1863.7 244.9L1865.1 246.3L1866.6 247.7L1868.0 249.2L1869.5 250.6L1870.9 252.0L1872.3 253.4L1873.6 254.9L1875.0 256.3L1876.3 257.7L1877.6 259.1L1878.9 260.5L1880.2 261.9L1881.5 263.3L1882.8 264.6L1884.0 266.0L1885.2 267.4L1886.5 268.7L1887.7 270.1L1888.8 271.4L1890.0 272.7L1891.2 274.1L1892.4 275.4L1893.5 276.7L1894.6 278.0L1895.8 279.2L1896.9 280.5L1898.0 281.8L1899.1 283.0L1900.2 284.2L1901.3 285.5L1902.4 286.7L1903.5 287.9L1904.5 289.1L1905.6 290.2L1906.7 291.4L1907.7 292.5L1908.8 293.7L1909.9 294.8L1910.9 295.9L1912.0 297.0L1913.1 298.0L1914.2 299.1L1915.2 300.1L1916.3 301.1L1917.4 302.1L1918.5 303.1L1919.6 304.0L1920.8 305.0L1921.9 305.9L1923.1 306.8L1924.2 307.7L1925.4 308.5L1926.6 309.4L1927.8 310.2L1929.0 311.0L1930.2 311.8L1931.5 312.6L1932.7 313.4L1934.0 314.2L1935.3 314.9L1936.6 315.7L1937.9 316.4L1939.2 317.2L1940.5 317.9L1941.9 318.7L1943.3 319.4L1944.6 320.1L1946.0 320.8L1947.4 321.6L1948.9 322.3L1950.3 323.0L1951.7 323.7L1953.2 324.4L1954.7 325.1L1956.2 325.9L1957.7 326.6L1959.3 327.3L1960.8 328.0L1962.4 328.7L1964.0 329.4L1965.6 330.2L1967.3 330.9L1968.9 331.6L1970.6 332.3L1972.3 333.1L1974.0 333.8L1975.8 334.5L1977.5 335.3L1979.3 336.1L1981.1 336.8L1983.0 337.6L1984.8 338.4L1986.7 339.2L1988.6 340.0L1990.5 340.8L1992.4 341.7L1994.3 342.5L1996.3 343.4L1998.2 344.3L2000.2 345.2L2002.2 346.1L2004.2 347.1L2006.2 348.1L2008.2 349.1L2010.2 350.1L2012.2 351.1L2014.2 352.2L2016.3 353.3L2018.3 354.4L2020.3 355.5L2022.4 356.7L2024.4 357.9L2026.4 359.1L2028.4 360.4L2030.4 361.7L2032.4 363.0L2034.4 364.3L2036.4 365.7L2038.3 367.1L2040.2 368.6L2042.1 370.0L2044.0 371.5L2045.9 373.1L2047.8 374.6L2049.6 376.2L2051.4 377.9L2053.2 379.5L2055.0 381.2L2056.8 382.9L2058.5 384.6L2060.3 386.4L2062.0 388.2L2063.7 390.0L2065.4 391.8L2067.0 393.7L2068.7 395.6L2070.4 397.5L2072.0 399.5L2073.6 401.4L2075.2 403.4L2076.8 405.4L2078.4 407.5L2080.0 409.5L2081.5 411.6L2083.0 413.7L2084.5 415.9L2086.0 418.1L2087.5 420.2L2088.9 422.5L2090.3 424.7L2091.7 427.0L2093.0 429.2L2094.4 431.6L2095.6 433.9L2096.9 436.2L2098.1 438.6L2099.3 441.0L2100.4 443.4L2101.5 445.8L2102.6 448.3L2103.6 450.8L2104.6 453.3L2105.5 455.8L2106.4 458.3L2107.3 460.8L2108.1 463.4L2108.9 465.9L2109.7 468.5L2110.4 471.1L2111.0 473.7L2111.6 476.3L2112.2 479.0L2112.8 481.6L2113.3 484.3L2113.7 486.9L2114.1 489.6L2114.5 492.3L2114.8 494.9L2115.1 497.6L2115.3 500.3L2115.5 503.0L2115.7 505.7L2115.8 508.4L2115.8 511.1L2115.8 513.8L2115.8 516.5L2115.7 519.2L2115.6 521.9L2115.4 524.6L2115.2 527.3L2114.9 530.0L2114.6 532.7L2114.2 535.4L2113.8 538.0L2113.3 540.7L2112.8 543.4L2112.3 546.0L2111.7 548.6L2111.0 551.3L2110.3 553.9L2109.6 556.5L2108.9 559.1L2108.1 561.7L2107.2 564.3L2106.4 566.8L2105.5 569.4L2104.5 571.9L2103.6 574.5L2102.6 577.0L2101.5 579.5L2100.5 582.0L2099.4 584.5L2098.3 587.0L2097.1 589.4L2095.9 591.9L2094.7 594.3L2093.5 596.7L2092.2 599.1L2090.9 601.5L2089.6 603.9L2088.2 606.3L2086.8 608.6L2085.4 610.9L2083.9 613.2L2082.4 615.4L2080.8 617.7L2079.2 619.9L2077.6 622.1L2075.9 624.2L2074.2 626.4L2072.5 628.5L2070.7 630.5L2068.9 632.6L2067.1 634.6L2065.2 636.5L2063.3 638.5L2061.4 640.4L2059.4 642.3L2057.4 644.1L2055.4 645.9L2053.3 647.7L2051.3 649.5L2049.2 651.2L2047.0 652.9L2044.9 654.5L2042.7 656.2L2040.5 657.7L2038.3 659.3L2036.0 660.8L2033.8 662.3L2031.5 663.8L2029.2 665.2L2026.9 666.6L2024.5 667.9L2022.2 669.3L2019.8 670.5L2017.4 671.8L2015.0 673.0L2012.6 674.2L2010.1 675.3L2007.7 676.4L2005.2 677.5L2002.7 678.5L2000.2 679.5L1997.7 680.4L1995.2 681.3L1992.6 682.2L1990.1 683.0L1987.5 683.8L1985.0 684.6L1982.4 685.3L1979.8 686.0L1977.2 686.6L1974.6 687.2L1972.0 687.8L1969.4 688.3L1966.8 688.8L1964.2 689.2L1961.6 689.7L1959.0 690.0L1956.3 690.4L1953.7 690.7L1951.1 690.9L1948.5 691.2L1945.9 691.4L1943.2 691.5L1940.6 691.6L1938.0 691.7L1935.4 691.8L1932.8 691.8L1930.2 691.7L1927.6 691.7L1925.0 691.6L1922.4 691.5L1919.8 691.3L1917.3 691.1L1914.7 690.9L1912.1 690.6L1909.6 690.3L1907.1 690.0L1904.5 689.6L1902.0 689.2L1899.5 688.8L1897.0 688.3L1894.5 687.8L1892.1 687.3L1889.6 686.8L1887.2 686.2L1884.7 685.6L1882.3 684.9L1879.9 684.3L1877.5 683.6L1875.2 682.9L1872.8 682.2L1870.5 681.4L1868.2 680.6L1865.9 679.8L1863.6 679.0L1861.3 678.2L1859.1 677.3L1856.8 676.5L1854.6 675.6L1852.4 674.7L1850.3 673.7L1848.1 672.8L1846.0 671.8L1843.9 670.8L1841.8 669.7L1839.7 668.7L1837.6 667.6L1835.6 666.5L1833.5 665.3L1831.5 664.1L1829.6 662.9L1827.6 661.7L1825.7 660.4L1823.8 659.1L1821.9 657.8L1820.0 656.4L1818.1 655.0L1816.3 653.6L1814.5 652.1L1812.8 650.6L1811.0 649.1L1809.3 647.6L1807.6 646.1L1805.9 644.5L1804.3 643.0L1802.7 641.4L1801.1 639.9L1799.5 638.3L1798.0 636.7L1796.5 635.1L1795.0 633.6L1793.5 632.0L1792.0 630.5L1790.6 628.9L1789.2 627.4L1787.8 625.8L1786.5 624.3L1785.1 622.8L1783.8 621.2L1782.5 619.7L1781.2 618.2L1780.0 616.6L1778.7 615.1L1777.5 613.6L1776.3 612.0L1775.2 610.4L1774.0 608.9L1772.9 607.3L1771.8 605.7L1770.8 604.1L1769.7 602.4L1768.7 600.8L1767.7 599.2L1766.8 597.5L1765.9 595.8L1765.0 594.2L1764.1 592.5L1763.2 590.8L1762.4 589.1L1761.6 587.4L1760.8 585.7L1760.1 584.0L1759.3 582.4L1758.6 580.7L1757.9 579.0L1757.2 577.3L1756.6 575.7L1756.0 574.1L1755.3 572.4L1754.7 570.8L1754.1 569.2L1753.6 567.6L1753.0 566.0L1752.5 564.4L1752.0 562.9L1751.5 561.3L1751.0 559.8L1750.5 558.3L1750.0 556.7L1749.6 555.2L1749.1 553.7L1748.7 552.2L1748.3 550.7L1747.9 549.3L1747.6 547.8L1747.2 546.4L1746.9 544.9L1746.5 543.5L1746.2 542.0L1745.9 540.6L1745.6 539.2L1745.4 537.8L1745.1 536.4L1744.8 535.0L1744.6 533.7L1744.4 532.3L1744.2 531.0L1744.0 529.6L1743.8 528.3L1743.6 527.0L1743.4 525.7L1743.2 524.4L1743.1 523.1L1742.9 521.8L1742.8 520.6L1742.6 519.3L1742.5 518.1L1742.4 516.9L1742.3 515.7L1742.1 514.5L1742.0 513.3L1741.9 512.1L1741.8 511.0L1741.7 509.8L1741.6 508.7L1741.5 507.6L1741.4 506.5L1741.3 505.4L1741.2 504.4L1741.1 503.3L1741.0 502.3L1740.9 501.2L1740.7 500.2L1740.6 499.2L1740.5 498.2L1740.4 497.2L1740.2 496.3L1740.1 495.3L1739.9 494.4L1739.8 493.5L1739.6 492.6L1739.4 491.7L1739.2 490.8L1739.1 489.9L1738.9 489.0L1738.7 488.2L1738.4 487.3L1738.2 486.5L1738.0 485.6L1737.7 484.8L1737.5 484.0L1737.2 483.2L1736.9 482.4L1736.6 481.6L1736.3 480.8L1736.0 480.1L1735.7 479.3L1735.4 478.5L1735.0 477.7L1734.7 477.0L1734.3 476.2L1733.9 475.5L1733.5 474.7L1733.2 474.0L1732.7 473.2L1732.3 472.5L1731.9 471.7L1731.4 471.0L1731.0 470.2L1730.5 469.5L1730.1 468.8L1729.6 468.0L1729.1 467.3L1728.6 466.5L1728.0 465.8L1727.5 465.0L1726.9 464.2L1726.4 463.5L1725.8 462.7L1725.2 462.0L1724.6 461.2L1723.9 460.4L1723.3 459.6L1722.6 458.8L1721.9 458.0L1721.2 457.2L1720.5 456.4L1719.7 455.6L1719.0 454.8L1718.2 454.0L1717.4 453.1L1716.6 452.3L1715.8 451.4L1714.9 450.5L1714.1 449.6L1713.2 448.7L1712.4 447.8L1711.5 446.9L1710.7 445.9L1709.8 445.0L1708.9 444.0L1708.1 443.0L1707.2 442.0L1706.3 441.0L1705.5 440.0L1704.6 438.9L1703.8 437.9L1702.9 436.8L1702.1 435.7L1701.3 434.6L1700.4 433.5L1699.6 432.3L1698.7 431.2L1697.8 430.0L1697.0 428.8L1696.1 427.6L1695.2 426.4L1694.3 425.1L1693.4 423.8L1692.4 422.5L1691.4 421.2L1690.5 419.9L1689.5 418.5L1688.4 417.1L1687.4 415.7L1686.3 414.3L1685.2 412.8L1684.1 411.3L1683.0 409.8L1681.9 408.3L1680.8 406.7L1679.7 405.1L1678.5 403.4L1677.4 401.8L1676.3 400.1L1675.2 398.4L1674.1 396.7L1673.0 394.9L1671.9 393.1L1670.8 391.3L1669.8 389.5L1668.8 387.6L1667.7 385.8L1666.8 383.9L1665.8 381.9L1664.8 380.0L1663.9 378.0L1663.0 376.1L1662.1 374.1L1661.3 372.0L1660.4 370.0L1659.6 367.9L1658.8 365.8L1658.0 363.7L1657.3 361.6L1656.5 359.4L1655.8 357.3L1655.1 355.1L1654.5 352.9L1653.8 350.6L1653.2 348.4L1652.6 346.1L1652.0 343.8L1651.5 341.5L1651.0 339.2L1650.5 336.9L1650.0 334.6L1649.6 332.2L1649.3 329.8L1648.9 327.5L1648.6 325.1L1648.3 322.7L1648.1 320.3L1647.9 317.9L1647.8 315.5L1647.7 313.1L1647.6 310.7L1647.6 308.3L1647.6 305.9L1647.7 303.4L1647.8 301.0L1647.9 298.6L1648.1 296.2L1648.4 293.8L1648.6 291.4L1648.9 289.0L1649.3 286.6L1649.7 284.2L1650.1 281.8L1650.5 279.4L1651.0 277.1L1651.5 274.7L1652.0 272.3L1652.6 269.9L1653.2 267.5L1653.9 265.1L1654.5 262.7L1655.2 260.3L1656.0 257.9L1656.7 255.5L1657.6 253.2L1658.4 250.8L1659.3 248.5L1660.3 246.2L1661.3 243.9L1662.3 241.7L1663.4 239.4L1664.6 237.3L1665.8 235.1L1667.0 233.0L1668.3 231.0L1669.7 229.0L1671.1 227.0L1672.6 225.1L1674.1 223.3L1675.7 221.5L1677.3 219.8L1679.0 218.1L1680.7 216.5L1682.5 214.9L1684.3 213.4L1686.1 212.0L1688.0 210.6L1690.0 209.3L1691.9 208.0L1693.9 206.8L1695.9 205.6L1698.0 204.5L1700.1 203.4L1702.2 202.4L1704.3 201.5L1706.5 200.5L1708.7 199.7L1710.9 198.9L1713.1 198.1L1715.3 197.4L1717.6 196.8L1719.8 196.2L1722.1 195.6L1724.4 195.1L1726.7 194.7L1729.0 194.3L1731.4 193.9L1733.7 193.6L1736.1 193.4L1738.4 193.2L1740.8 193.0L1743.1 192.9L1745.5 192.8L1747.9 192.8L1750.2 192.8L1752.6 192.9L1755.0 193.0L1757.3 193.2L1759.7 193.4L1762.1 193.6L1764.4 193.9L1766.8 194.2L1769.1 194.6L1771.5 195.0L1773.8 195.4L1776.1 195.9L1778.4 196.4L1780.7 196.9L1783.0 197.5L1785.3 198.1L1787.5 198.7L1789.8 199.4L1792.0 200.1L1794.3 200.8L1796.5 201.6L1798.7 202.3L1800.8 203.2L1803.0 204.0L1805.2 204.9L1807.3 205.8L1809.4 206.7L1811.5 207.7L1813.6 208.6L1815.7 209.7L1817.7 210.7L1819.7 211.8L1821.8 212.9L1823.8 214.1Z" stroke="#800000" stroke-width="3.45" stroke-dasharray="5.7 10.35" stroke-linecap="round" stroke-linejoin="round"/>
<circle cx="1823.6" cy="440.95" r="359.6" stroke="#000" stroke-width="2.55"/>
<line x1="1823.8" y1="81.2" x2="1823.8" y2="95.4" stroke="#000" stroke-width="2.55"/>
<line x1="2003.8" y1="129.5" x2="1996.6" y2="141.8" stroke="#000" stroke-width="2.55"/>
<line x1="2135.5" y1="261.2" x2="2123.2" y2="268.3" stroke="#000" stroke-width="2.55"/>
<line x1="2183.7" y1="441.1" x2="2169.5" y2="441.1" stroke="#000" stroke-width="2.55"/>
<line x1="2135.5" y1="621.1" x2="2123.2" y2="614.0" stroke="#000" stroke-width="2.55"/>
<line x1="2003.8" y1="752.8" x2="1996.6" y2="740.5" stroke="#000" stroke-width="2.55"/>
<line x1="1823.8" y1="801.0" x2="1823.8" y2="786.9" stroke="#000" stroke-width="2.55"/>
<line x1="1643.8" y1="752.8" x2="1650.9" y2="740.5" stroke="#000" stroke-width="2.55"/>
<line x1="1512.1" y1="621.1" x2="1524.4" y2="614.0" stroke="#000" stroke-width="2.55"/>
<line x1="1463.9" y1="441.2" x2="1478.1" y2="441.2" stroke="#000" stroke-width="2.55"/>
<line x1="1512.1" y1="261.2" x2="1524.4" y2="268.3" stroke="#000" stroke-width="2.55"/>
<line x1="1643.8" y1="129.5" x2="1650.9" y2="141.8" stroke="#000" stroke-width="2.55"/>
</g>
<text transform="translate(606.5,53.2) scale(1,1.05)" text-anchor="middle">0°</text>
<text transform="translate(819.5,103.5) scale(1,1.05)" text-anchor="middle">30°</text>
<text transform="translate(958,241.5) scale(1,1.05)" text-anchor="middle">60°</text>
<text transform="translate(1007.5,450) scale(1,1.05)" text-anchor="middle">90°</text>
<text transform="translate(967.5,658.5) scale(1,1.05)" text-anchor="middle">120°</text>
<text transform="translate(830,797.5) scale(1,1.05)" text-anchor="middle">150°</text>
<text transform="translate(607.5,847) scale(1,1.05)" text-anchor="middle">180°</text>
<text transform="translate(383,798) scale(1,1.05)" text-anchor="middle">210°</text>
<text transform="translate(245.5,658.5) scale(1,1.05)" text-anchor="middle">240°</text>
<text transform="translate(193.5,450) scale(1,1.05)" text-anchor="middle">270°</text>
<text transform="translate(245.5,241.5) scale(1,1.05)" text-anchor="middle">300°</text>
<text transform="translate(383,103.5) scale(1,1.05)" text-anchor="middle">330°</text>
<text transform="translate(1824.5,58.7) scale(1,1.05)" text-anchor="middle">0°</text>
<text transform="translate(2037,108) scale(1,1.05)" text-anchor="middle">30°</text>
<text transform="translate(2174,246) scale(1,1.05)" text-anchor="middle">60°</text>
<text transform="translate(2224.5,453) scale(1,1.05)" text-anchor="middle">90°</text>
<text transform="translate(2184,660) scale(1,1.05)" text-anchor="middle">120°</text>
<text transform="translate(2047,798.4) scale(1,1.05)" text-anchor="middle">150°</text>
<text transform="translate(1825,849) scale(1,1.05)" text-anchor="middle">180°</text>
<text transform="translate(1601,798.4) scale(1,1.05)" text-anchor="middle">210°</text>
<text transform="translate(1463.5,660) scale(1,1.05)" text-anchor="middle">240°</text>
<text transform="translate(1411,453) scale(1,1.05)" text-anchor="middle">270°</text>
<text transform="translate(1463.5,246) scale(1,1.05)" text-anchor="middle">300°</text>
<text transform="translate(1601,108.8) scale(1,1.05)" text-anchor="middle">330°</text>
<path d="M149.5 76.5V799.5" stroke="#000" stroke-width="2.35" fill="none" stroke-linecap="square"/>
<path d="M135.9 76.5H149.5" stroke="#000" stroke-width="2.35" fill="none"/>
<path d="M135.9 136.75H149.5" stroke="#000" stroke-width="2.35" fill="none"/>
<path d="M135.9 197.0H149.5" stroke="#000" stroke-width="2.35" fill="none"/>
<path d="M135.9 257.25H149.5" stroke="#000" stroke-width="2.35" fill="none"/>
<path d="M135.9 317.5H149.5" stroke="#000" stroke-width="2.35" fill="none"/>
<path d="M135.9 377.75H149.5" stroke="#000" stroke-width="2.35" fill="none"/>
<path d="M135.9 438.0H149.5" stroke="#000" stroke-width="2.35" fill="none"/>
<path d="M135.9 498.25H149.5" stroke="#000" stroke-width="2.35" fill="none"/>
<path d="M135.9 558.5H149.5" stroke="#000" stroke-width="2.35" fill="none"/>
<path d="M135.9 618.75H149.5" stroke="#000" stroke-width="2.35" fill="none"/>
<path d="M135.9 679.0H149.5" stroke="#000" stroke-width="2.35" fill="none"/>
<path d="M135.9 739.25H149.5" stroke="#000" stroke-width="2.35" fill="none"/>
<path d="M135.9 799.5H149.5" stroke="#000" stroke-width="2.35" fill="none"/>
<text transform="translate(125,88.9) scale(1,1.025)" text-anchor="end"><tspan textLength="23.5" lengthAdjust="spacingAndGlyphs">−</tspan><tspan dx="-2.6">21</tspan></text>
<text transform="translate(125,149.2) scale(1,1.025)" text-anchor="end"><tspan textLength="23.5" lengthAdjust="spacingAndGlyphs">−</tspan><tspan dx="-2.6">14</tspan></text>
<text transform="translate(125,209.4) scale(1,1.025)" text-anchor="end"><tspan textLength="23.5" lengthAdjust="spacingAndGlyphs">−</tspan><tspan dx="-2.6">7</tspan></text>
<text transform="translate(125,269.6) scale(1,1.025)" text-anchor="end">0</text>
<text transform="translate(125,329.9) scale(1,1.025)" text-anchor="end">7</text>
<text transform="translate(125,390.1) scale(1,1.025)" text-anchor="end">14</text>
<text transform="translate(125,450.4) scale(1,1.025)" text-anchor="end">21</text>
<text transform="translate(82,510.6) scale(1,1.025)">14</text>
<text transform="translate(81.3,570.9) scale(1,1.025)">7</text>
<text transform="translate(82,631.1) scale(1,1.025)">0</text>
<text transform="translate(73.0,691.4) scale(1,1.025)"><tspan textLength="23.5" lengthAdjust="spacingAndGlyphs">−</tspan><tspan dx="-2.1">7</tspan></text>
<text transform="translate(73.0,751.6) scale(1,1.025)"><tspan textLength="23.5" lengthAdjust="spacingAndGlyphs">−</tspan><tspan dx="-2.1">14</tspan></text>
<text transform="translate(73.0,811.9) scale(1,1.025)"><tspan textLength="23.5" lengthAdjust="spacingAndGlyphs">−</tspan><tspan dx="-2.1">21</tspan></text>
<text transform="translate(57,439.6) rotate(-90) scale(1,1.04)" text-anchor="middle" font-size="39.7">Bending moment(kN×m)</text>
<path d="M1370 81.39999999999998V800.6" stroke="#000" stroke-width="2.35" fill="none" stroke-linecap="square"/>
<path d="M1356.4 81.39999999999998H1370" stroke="#000" stroke-width="2.35" fill="none"/>
<path d="M1356.4 126.34999999999997H1370" stroke="#000" stroke-width="2.35" fill="none"/>
<path d="M1356.4 193.775H1370" stroke="#000" stroke-width="2.35" fill="none"/>
<path d="M1356.4 261.2H1370" stroke="#000" stroke-width="2.35" fill="none"/>
<path d="M1356.4 328.625H1370" stroke="#000" stroke-width="2.35" fill="none"/>
<path d="M1356.4 396.05H1370" stroke="#000" stroke-width="2.35" fill="none"/>
<path d="M1356.4 441.0H1370" stroke="#000" stroke-width="2.35" fill="none"/>
<path d="M1356.4 485.95H1370" stroke="#000" stroke-width="2.35" fill="none"/>
<path d="M1356.4 553.375H1370" stroke="#000" stroke-width="2.35" fill="none"/>
<path d="M1356.4 620.8H1370" stroke="#000" stroke-width="2.35" fill="none"/>
<path d="M1356.4 688.225H1370" stroke="#000" stroke-width="2.35" fill="none"/>
<path d="M1356.4 755.6500000000001H1370" stroke="#000" stroke-width="2.35" fill="none"/>
<path d="M1356.4 800.6H1370" stroke="#000" stroke-width="2.35" fill="none"/>
<text transform="translate(1346.6,93.8) scale(1,1.025)" text-anchor="end"><tspan textLength="23.5" lengthAdjust="spacingAndGlyphs">−</tspan><tspan dx="-1.0">400</tspan></text>
<text transform="translate(1346.6,138.7) scale(1,1.025)" text-anchor="end"><tspan textLength="23.5" lengthAdjust="spacingAndGlyphs">−</tspan><tspan dx="-1.0">300</tspan></text>
<text transform="translate(1346.6,206.2) scale(1,1.025)" text-anchor="end"><tspan textLength="23.5" lengthAdjust="spacingAndGlyphs">−</tspan><tspan dx="-1.0">150</tspan></text>
<text transform="translate(1346.6,273.6) scale(1,1.025)" text-anchor="end">0</text>
<text transform="translate(1346.6,341.0) scale(1,1.025)" text-anchor="end">150</text>
<text transform="translate(1346.6,408.4) scale(1,1.025)" text-anchor="end">300</text>
<text transform="translate(1346.6,453.4) scale(1,1.025)" text-anchor="end">400</text>
<text transform="translate(1285.3,498.3) scale(1,1.025)">300</text>
<text transform="translate(1286,565.8) scale(1,1.025)">150</text>
<text transform="translate(1285.3,633.2) scale(1,1.025)">0</text>
<text transform="translate(1273.7,700.6) scale(1,1.025)"><tspan textLength="23.5" lengthAdjust="spacingAndGlyphs">−</tspan><tspan dx="-0.4">150</tspan></text>
<text transform="translate(1273.7,768.1) scale(1,1.025)"><tspan textLength="23.5" lengthAdjust="spacingAndGlyphs">−</tspan><tspan dx="-0.4">300</tspan></text>
<text transform="translate(1273.7,813.0) scale(1,1.025)"><tspan textLength="23.5" lengthAdjust="spacingAndGlyphs">−</tspan><tspan dx="-0.4">400</tspan></text>
<text transform="translate(1268,440.1) rotate(-90) scale(1,1.04)" text-anchor="middle" font-size="42.4">Axial force(kN)</text>
<path d="M992.5 45.4H1073.8" stroke="#000000" stroke-width="3.45" stroke-dasharray="5.7 10.35" stroke-linecap="round" fill="none"/>
<text x="1082.5" y="57.7"><tspan font-style="italic">d</tspan><tspan font-size="26" dy="8.8" dx="0.5">1</tspan><tspan dy="-8.8" dx="-2.0" textLength="24" lengthAdjust="spacingAndGlyphs">=</tspan><tspan dx="-2.5" textLength="23.5" lengthAdjust="spacingAndGlyphs">−</tspan><tspan dx="-2.5">3</tspan><tspan dx="1.8">m</tspan></text>
<path d="M992.5 98.6H1073.8" stroke="#ff0000" stroke-width="3.45" stroke-dasharray="5.7 10.35" stroke-linecap="round" fill="none"/>
<text x="1082.5" y="110.9"><tspan font-style="italic">d</tspan><tspan font-size="26" dy="8.8" dx="0.5">2</tspan><tspan dy="-8.8" dx="-2.0" textLength="24" lengthAdjust="spacingAndGlyphs">=</tspan><tspan dx="-2.5" textLength="23.5" lengthAdjust="spacingAndGlyphs">−</tspan><tspan dx="-2.5">3</tspan><tspan dx="1.8">m</tspan></text>
<path d="M992.5 151.8H1073.8" stroke="#00ff00" stroke-width="3.45" stroke-dasharray="5.7 10.35" stroke-linecap="round" fill="none"/>
<text x="1082.5" y="164.1"><tspan font-style="italic">d</tspan><tspan font-size="26" dy="8.8" dx="0.5">3</tspan><tspan dy="-8.8" dx="-2.0" textLength="24" lengthAdjust="spacingAndGlyphs">=</tspan><tspan dx="-2.5" textLength="23.5" lengthAdjust="spacingAndGlyphs">−</tspan><tspan dx="-2.5">3</tspan><tspan dx="1.8">m</tspan></text>
<path d="M992.5 205.00000000000003H1073.8" stroke="#0000ff" stroke-width="3.45" stroke-dasharray="5.7 10.35" stroke-linecap="round" fill="none"/>
<text x="1082.5" y="217.3"><tspan font-style="italic">d</tspan><tspan font-size="26" dy="8.8" dx="0.5">4</tspan><tspan dy="-8.8" dx="-2.0" textLength="24" lengthAdjust="spacingAndGlyphs">=</tspan><tspan dx="-2.5" textLength="23.5" lengthAdjust="spacingAndGlyphs">−</tspan><tspan dx="-2.5">3</tspan><tspan dx="1.8">m</tspan></text>
<path d="M992.5 258.2H1073.8" stroke="#00ffff" stroke-width="3.45" stroke-dasharray="5.7 10.35" stroke-linecap="round" fill="none"/>
<text x="1082.5" y="270.5"><tspan font-style="italic">d</tspan><tspan font-size="26" dy="8.8" dx="0.5">5</tspan><tspan dy="-8.8" dx="-2.0" textLength="24" lengthAdjust="spacingAndGlyphs">=</tspan><tspan dx="-2.5" textLength="23.5" lengthAdjust="spacingAndGlyphs">−</tspan><tspan dx="-2.5">3</tspan><tspan dx="1.8">m</tspan></text>
<path d="M992.5 311.4H1073.8" stroke="#800000" stroke-width="3.45" stroke-dasharray="5.7 10.35" stroke-linecap="round" fill="none"/>
<text x="1082.5" y="323.7"><tspan font-style="italic">d</tspan><tspan font-size="26" dy="8.8" dx="0.5">5</tspan><tspan dy="-8.8" dx="-2.0" textLength="24" lengthAdjust="spacingAndGlyphs">=</tspan><tspan dx="-2.0">3</tspan><tspan dx="1.8">m</tspan></text>
<path d="M2202.4 47.7H2283.7" stroke="#000000" stroke-width="3.45" stroke-dasharray="5.7 10.35" stroke-linecap="round" fill="none"/>
<text x="2292.3" y="60.0"><tspan font-style="italic">d</tspan><tspan font-size="26" dy="8.8" dx="0.5">1</tspan><tspan dy="-8.8" dx="-2.0" textLength="24" lengthAdjust="spacingAndGlyphs">=</tspan><tspan dx="-2.5" textLength="23.5" lengthAdjust="spacingAndGlyphs">−</tspan><tspan dx="-2.5">3</tspan><tspan dx="1.8">m</tspan></text>
<path d="M2202.4 100.85H2283.7" stroke="#ff0000" stroke-width="3.45" stroke-dasharray="5.7 10.35" stroke-linecap="round" fill="none"/>
<text x="2292.3" y="113.1"><tspan font-style="italic">d</tspan><tspan font-size="26" dy="8.8" dx="0.5">2</tspan><tspan dy="-8.8" dx="-2.0" textLength="24" lengthAdjust="spacingAndGlyphs">=</tspan><tspan dx="-2.5" textLength="23.5" lengthAdjust="spacingAndGlyphs">−</tspan><tspan dx="-2.5">3</tspan><tspan dx="1.8">m</tspan></text>
<path d="M2202.4 154.0H2283.7" stroke="#00ff00" stroke-width="3.45" stroke-dasharray="5.7 10.35" stroke-linecap="round" fill="none"/>
<text x="2292.3" y="166.3"><tspan font-style="italic">d</tspan><tspan font-size="26" dy="8.8" dx="0.5">3</tspan><tspan dy="-8.8" dx="-2.0" textLength="24" lengthAdjust="spacingAndGlyphs">=</tspan><tspan dx="-2.5" textLength="23.5" lengthAdjust="spacingAndGlyphs">−</tspan><tspan dx="-2.5">3</tspan><tspan dx="1.8">m</tspan></text>
<path d="M2202.4 207.14999999999998H2283.7" stroke="#0000ff" stroke-width="3.45" stroke-dasharray="5.7 10.35" stroke-linecap="round" fill="none"/>
<text x="2292.3" y="219.4"><tspan font-style="italic">d</tspan><tspan font-size="26" dy="8.8" dx="0.5">4</tspan><tspan dy="-8.8" dx="-2.0" textLength="24" lengthAdjust="spacingAndGlyphs">=</tspan><tspan dx="-2.5" textLength="23.5" lengthAdjust="spacingAndGlyphs">−</tspan><tspan dx="-2.5">3</tspan><tspan dx="1.8">m</tspan></text>
<path d="M2202.4 260.3H2283.7" stroke="#00ffff" stroke-width="3.45" stroke-dasharray="5.7 10.35" stroke-linecap="round" fill="none"/>
<text x="2292.3" y="272.6"><tspan font-style="italic">d</tspan><tspan font-size="26" dy="8.8" dx="0.5">5</tspan><tspan dy="-8.8" dx="-2.0" textLength="24" lengthAdjust="spacingAndGlyphs">=</tspan><tspan dx="-2.5" textLength="23.5" lengthAdjust="spacingAndGlyphs">−</tspan><tspan dx="-2.5">3</tspan><tspan dx="1.8">m</tspan></text>
<path d="M2202.4 313.45H2283.7" stroke="#800000" stroke-width="3.45" stroke-dasharray="5.7 10.35" stroke-linecap="round" fill="none"/>
<text x="2292.3" y="325.8"><tspan font-style="italic">d</tspan><tspan font-size="26" dy="8.8" dx="0.5">5</tspan><tspan dy="-8.8" dx="-2.0" textLength="24" lengthAdjust="spacingAndGlyphs">=</tspan><tspan dx="-2.0">3</tspan><tspan dx="1.8">m</tspan></text>
<text y="938.9" font-size="73.7"><tspan x="577.5" textLength="21.35" lengthAdjust="spacingAndGlyphs">(</tspan><tspan x="599.5" y="939.3" font-size="72.5" font-weight="bold">a</tspan><tspan x="635.0" y="938.9" textLength="21.35" lengthAdjust="spacingAndGlyphs">)</tspan></text>
<text y="938.9" font-size="73.7"><tspan x="1773" textLength="21.35" lengthAdjust="spacingAndGlyphs">(</tspan><tspan x="1794" y="939.3" font-size="76" font-weight="bold">b</tspan><tspan x="1837" y="938.9" textLength="21.35" lengthAdjust="spacingAndGlyphs">)</tspan></text>
</svg>
</body></html>
